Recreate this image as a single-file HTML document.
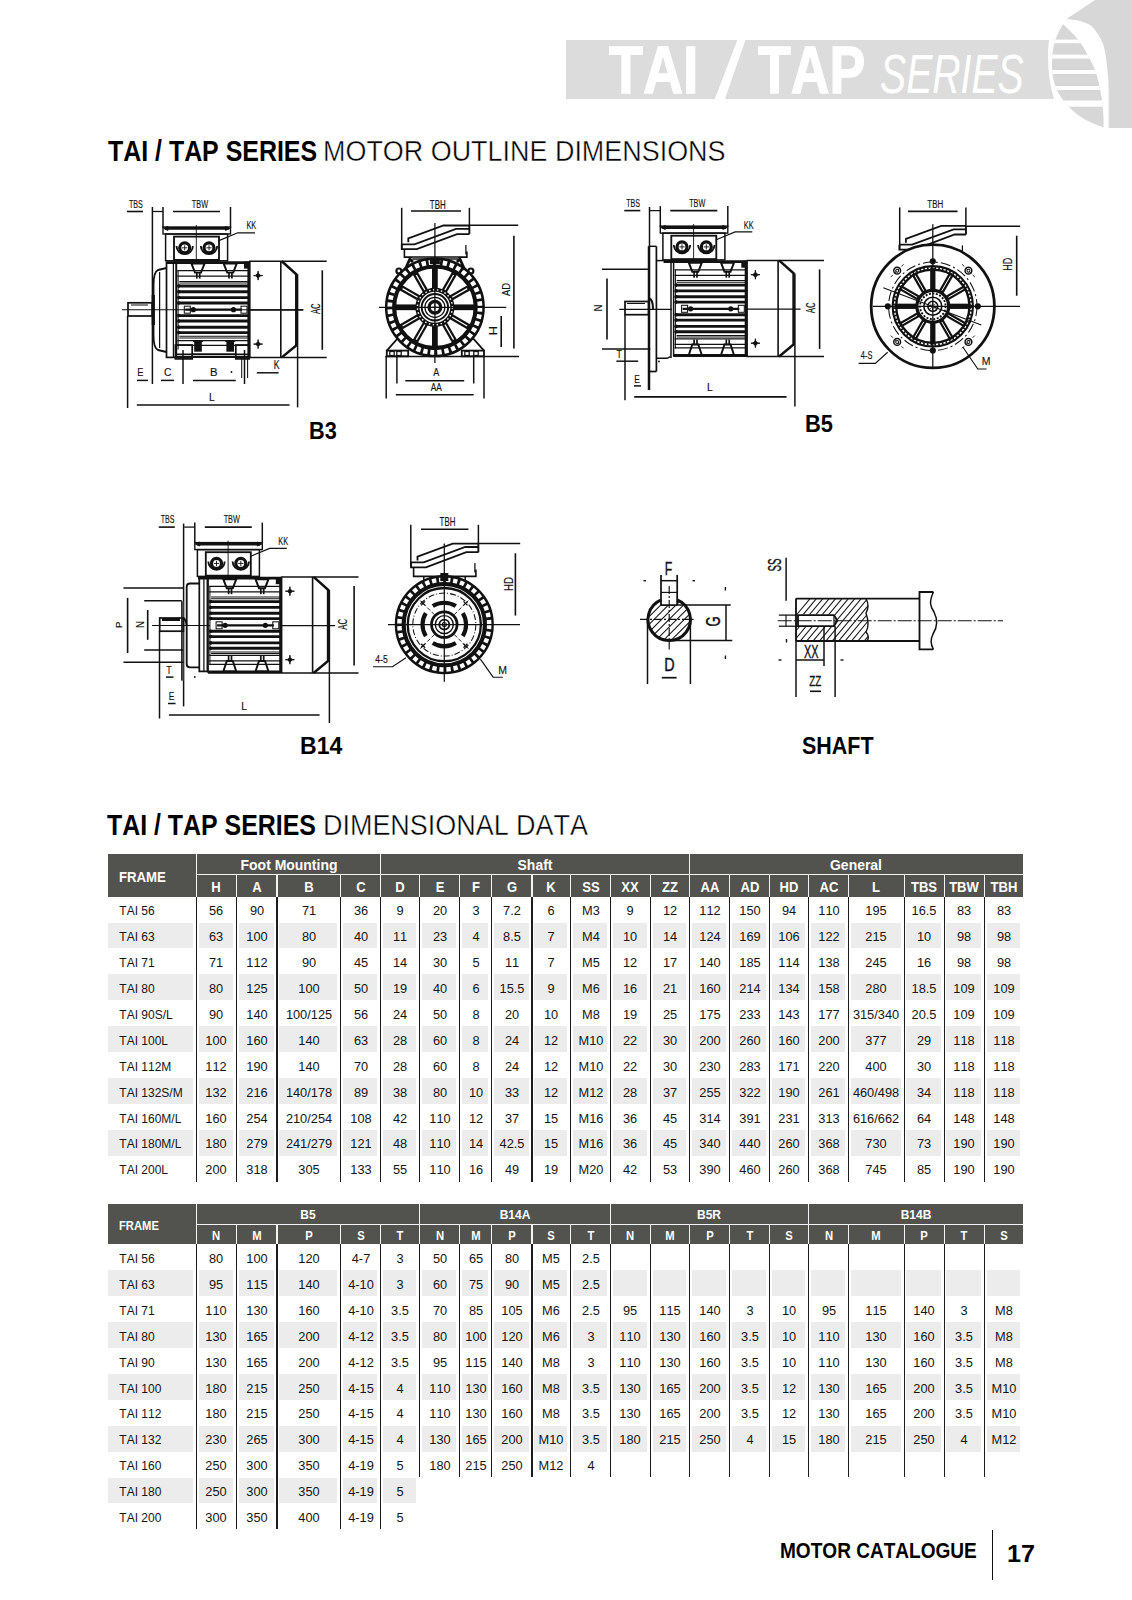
<!DOCTYPE html>
<html><head><meta charset="utf-8"><style>
html,body{margin:0;padding:0;background:#fff;}
body{width:1132px;height:1600px;position:relative;overflow:hidden;font-family:"Liberation Sans",sans-serif;}
.t{position:absolute;white-space:nowrap;font-kerning:none;}
.r{position:absolute;}
svg{position:absolute;left:0;top:0;}
</style></head><body>
<svg width="1132" height="140" viewBox="0 0 1132 140">
<path d="M566,40 L1049,40 Q1045.5,70 1054,99 L566,99 Z" fill="#dcdcdc"/>
<path d="M1066.5,19 L1095,0 L1132,0 L1132,128 L1108.60,128.00 C1108.60,122.50 1108.70,103.83 1108.60,95.00 C1108.50,86.17 1108.77,83.00 1108.00,75.00 C1107.23,67.00 1105.83,54.00 1104.00,47.00 C1102.17,40.00 1099.23,36.58 1097.00,33.00 C1094.77,29.42 1093.43,27.50 1090.60,25.50 C1087.77,23.50 1084.02,22.08 1080.00,21.00 C1075.98,19.92 1068.75,19.33 1066.50,19.00 Z" fill="#d7d7d7"/>
<path d="M737.4,40 L745.4,40 L724.8,99.5 L714.6,99.5 Z" fill="#fff"/>
<clipPath id="stc"><path d="M1063.00,24.00 C1061.92,26.17 1058.17,32.67 1056.50,37.00 C1054.83,41.33 1053.75,45.33 1053.00,50.00 C1052.25,54.67 1051.92,60.00 1052.00,65.00 C1052.08,70.00 1052.33,75.17 1053.50,80.00 C1054.67,84.83 1056.42,89.50 1059.00,94.00 C1061.58,98.50 1064.83,102.83 1069.00,107.00 C1073.17,111.17 1078.25,115.58 1084.00,119.00 C1089.75,122.42 1100.25,126.08 1103.50,127.50 L1103.50,127.50 C1103.50,125.92 1103.75,122.50 1103.50,118.00 C1103.25,113.50 1102.68,105.83 1102.00,100.50 C1101.32,95.17 1100.57,91.08 1099.40,86.00 C1098.23,80.92 1096.98,75.23 1095.00,70.00 C1093.02,64.77 1090.33,59.68 1087.50,54.60 C1084.67,49.52 1082.08,44.60 1078.00,39.50 C1073.92,34.40 1065.50,26.58 1063.00,24.00 Z"/></clipPath>
<g clip-path="url(#stc)">
<rect x="1040" y="20" width="70" height="110" fill="#d7d7d7"/>
<rect x="1040" y="39.6" width="70" height="3.6" fill="#fff"/>
<rect x="1040" y="54.6" width="70" height="4.0" fill="#fff"/>
<rect x="1040" y="70.0" width="70" height="4.0" fill="#fff"/>
<rect x="1040" y="86.0" width="70" height="4.0" fill="#fff"/>
<rect x="1040" y="100.5" width="70" height="6.2" fill="#fff"/>
</g>
</svg>
<div class=r style="left:107.50px;top:853.50px;width:915.30px;height:43.10px;background:#52524e"></div><div class=r style="left:196.50px;top:873.80px;width:826.30px;height:1.30px;background:#f4f4f4"></div><div class=r style="left:195.85px;top:853.50px;width:1.30px;height:43.10px;background:#f4f4f4"></div><div class=r style="left:379.95px;top:853.50px;width:1.30px;height:43.10px;background:#f4f4f4"></div><div class=r style="left:688.95px;top:853.50px;width:1.30px;height:43.10px;background:#f4f4f4"></div><div class=r style="left:195.85px;top:874.40px;width:1.30px;height:22.20px;background:#f4f4f4"></div><div class=r style="left:235.65px;top:874.40px;width:1.30px;height:22.20px;background:#f4f4f4"></div><div class=r style="left:276.35px;top:874.40px;width:1.30px;height:22.20px;background:#f4f4f4"></div><div class=r style="left:339.75px;top:874.40px;width:1.30px;height:22.20px;background:#f4f4f4"></div><div class=r style="left:379.95px;top:874.40px;width:1.30px;height:22.20px;background:#f4f4f4"></div><div class=r style="left:418.85px;top:874.40px;width:1.30px;height:22.20px;background:#f4f4f4"></div><div class=r style="left:458.85px;top:874.40px;width:1.30px;height:22.20px;background:#f4f4f4"></div><div class=r style="left:491.15px;top:874.40px;width:1.30px;height:22.20px;background:#f4f4f4"></div><div class=r style="left:531.35px;top:874.40px;width:1.30px;height:22.20px;background:#f4f4f4"></div><div class=r style="left:570.15px;top:874.40px;width:1.30px;height:22.20px;background:#f4f4f4"></div><div class=r style="left:609.65px;top:874.40px;width:1.30px;height:22.20px;background:#f4f4f4"></div><div class=r style="left:649.75px;top:874.40px;width:1.30px;height:22.20px;background:#f4f4f4"></div><div class=r style="left:688.95px;top:874.40px;width:1.30px;height:22.20px;background:#f4f4f4"></div><div class=r style="left:728.95px;top:874.40px;width:1.30px;height:22.20px;background:#f4f4f4"></div><div class=r style="left:768.95px;top:874.40px;width:1.30px;height:22.20px;background:#f4f4f4"></div><div class=r style="left:807.95px;top:874.40px;width:1.30px;height:22.20px;background:#f4f4f4"></div><div class=r style="left:848.05px;top:874.40px;width:1.30px;height:22.20px;background:#f4f4f4"></div><div class=r style="left:903.55px;top:874.40px;width:1.30px;height:22.20px;background:#f4f4f4"></div><div class=r style="left:943.55px;top:874.40px;width:1.30px;height:22.20px;background:#f4f4f4"></div><div class=r style="left:983.65px;top:874.40px;width:1.30px;height:22.20px;background:#f4f4f4"></div><div class=r style="left:107.50px;top:922.55px;width:85.70px;height:25.95px;background:#ececec"></div><div class=r style="left:198.70px;top:922.55px;width:34.30px;height:25.95px;background:#ececec"></div><div class=r style="left:238.50px;top:922.55px;width:35.20px;height:25.95px;background:#ececec"></div><div class=r style="left:279.20px;top:922.55px;width:57.90px;height:25.95px;background:#ececec"></div><div class=r style="left:342.60px;top:922.55px;width:34.70px;height:25.95px;background:#ececec"></div><div class=r style="left:382.80px;top:922.55px;width:33.40px;height:25.95px;background:#ececec"></div><div class=r style="left:421.70px;top:922.55px;width:34.50px;height:25.95px;background:#ececec"></div><div class=r style="left:461.70px;top:922.55px;width:26.80px;height:25.95px;background:#ececec"></div><div class=r style="left:494.00px;top:922.55px;width:34.70px;height:25.95px;background:#ececec"></div><div class=r style="left:534.20px;top:922.55px;width:33.30px;height:25.95px;background:#ececec"></div><div class=r style="left:573.00px;top:922.55px;width:34.00px;height:25.95px;background:#ececec"></div><div class=r style="left:612.50px;top:922.55px;width:34.60px;height:25.95px;background:#ececec"></div><div class=r style="left:652.60px;top:922.55px;width:33.70px;height:25.95px;background:#ececec"></div><div class=r style="left:691.80px;top:922.55px;width:34.50px;height:25.95px;background:#ececec"></div><div class=r style="left:731.80px;top:922.55px;width:34.50px;height:25.95px;background:#ececec"></div><div class=r style="left:771.80px;top:922.55px;width:33.50px;height:25.95px;background:#ececec"></div><div class=r style="left:810.80px;top:922.55px;width:34.60px;height:25.95px;background:#ececec"></div><div class=r style="left:850.90px;top:922.55px;width:50.00px;height:25.95px;background:#ececec"></div><div class=r style="left:906.40px;top:922.55px;width:34.50px;height:25.95px;background:#ececec"></div><div class=r style="left:946.40px;top:922.55px;width:34.60px;height:25.95px;background:#ececec"></div><div class=r style="left:986.50px;top:922.55px;width:33.00px;height:25.95px;background:#ececec"></div><div class=r style="left:107.50px;top:974.45px;width:85.70px;height:25.95px;background:#ececec"></div><div class=r style="left:198.70px;top:974.45px;width:34.30px;height:25.95px;background:#ececec"></div><div class=r style="left:238.50px;top:974.45px;width:35.20px;height:25.95px;background:#ececec"></div><div class=r style="left:279.20px;top:974.45px;width:57.90px;height:25.95px;background:#ececec"></div><div class=r style="left:342.60px;top:974.45px;width:34.70px;height:25.95px;background:#ececec"></div><div class=r style="left:382.80px;top:974.45px;width:33.40px;height:25.95px;background:#ececec"></div><div class=r style="left:421.70px;top:974.45px;width:34.50px;height:25.95px;background:#ececec"></div><div class=r style="left:461.70px;top:974.45px;width:26.80px;height:25.95px;background:#ececec"></div><div class=r style="left:494.00px;top:974.45px;width:34.70px;height:25.95px;background:#ececec"></div><div class=r style="left:534.20px;top:974.45px;width:33.30px;height:25.95px;background:#ececec"></div><div class=r style="left:573.00px;top:974.45px;width:34.00px;height:25.95px;background:#ececec"></div><div class=r style="left:612.50px;top:974.45px;width:34.60px;height:25.95px;background:#ececec"></div><div class=r style="left:652.60px;top:974.45px;width:33.70px;height:25.95px;background:#ececec"></div><div class=r style="left:691.80px;top:974.45px;width:34.50px;height:25.95px;background:#ececec"></div><div class=r style="left:731.80px;top:974.45px;width:34.50px;height:25.95px;background:#ececec"></div><div class=r style="left:771.80px;top:974.45px;width:33.50px;height:25.95px;background:#ececec"></div><div class=r style="left:810.80px;top:974.45px;width:34.60px;height:25.95px;background:#ececec"></div><div class=r style="left:850.90px;top:974.45px;width:50.00px;height:25.95px;background:#ececec"></div><div class=r style="left:906.40px;top:974.45px;width:34.50px;height:25.95px;background:#ececec"></div><div class=r style="left:946.40px;top:974.45px;width:34.60px;height:25.95px;background:#ececec"></div><div class=r style="left:986.50px;top:974.45px;width:33.00px;height:25.95px;background:#ececec"></div><div class=r style="left:107.50px;top:1026.35px;width:85.70px;height:25.95px;background:#ececec"></div><div class=r style="left:198.70px;top:1026.35px;width:34.30px;height:25.95px;background:#ececec"></div><div class=r style="left:238.50px;top:1026.35px;width:35.20px;height:25.95px;background:#ececec"></div><div class=r style="left:279.20px;top:1026.35px;width:57.90px;height:25.95px;background:#ececec"></div><div class=r style="left:342.60px;top:1026.35px;width:34.70px;height:25.95px;background:#ececec"></div><div class=r style="left:382.80px;top:1026.35px;width:33.40px;height:25.95px;background:#ececec"></div><div class=r style="left:421.70px;top:1026.35px;width:34.50px;height:25.95px;background:#ececec"></div><div class=r style="left:461.70px;top:1026.35px;width:26.80px;height:25.95px;background:#ececec"></div><div class=r style="left:494.00px;top:1026.35px;width:34.70px;height:25.95px;background:#ececec"></div><div class=r style="left:534.20px;top:1026.35px;width:33.30px;height:25.95px;background:#ececec"></div><div class=r style="left:573.00px;top:1026.35px;width:34.00px;height:25.95px;background:#ececec"></div><div class=r style="left:612.50px;top:1026.35px;width:34.60px;height:25.95px;background:#ececec"></div><div class=r style="left:652.60px;top:1026.35px;width:33.70px;height:25.95px;background:#ececec"></div><div class=r style="left:691.80px;top:1026.35px;width:34.50px;height:25.95px;background:#ececec"></div><div class=r style="left:731.80px;top:1026.35px;width:34.50px;height:25.95px;background:#ececec"></div><div class=r style="left:771.80px;top:1026.35px;width:33.50px;height:25.95px;background:#ececec"></div><div class=r style="left:810.80px;top:1026.35px;width:34.60px;height:25.95px;background:#ececec"></div><div class=r style="left:850.90px;top:1026.35px;width:50.00px;height:25.95px;background:#ececec"></div><div class=r style="left:906.40px;top:1026.35px;width:34.50px;height:25.95px;background:#ececec"></div><div class=r style="left:946.40px;top:1026.35px;width:34.60px;height:25.95px;background:#ececec"></div><div class=r style="left:986.50px;top:1026.35px;width:33.00px;height:25.95px;background:#ececec"></div><div class=r style="left:107.50px;top:1078.25px;width:85.70px;height:25.95px;background:#ececec"></div><div class=r style="left:198.70px;top:1078.25px;width:34.30px;height:25.95px;background:#ececec"></div><div class=r style="left:238.50px;top:1078.25px;width:35.20px;height:25.95px;background:#ececec"></div><div class=r style="left:279.20px;top:1078.25px;width:57.90px;height:25.95px;background:#ececec"></div><div class=r style="left:342.60px;top:1078.25px;width:34.70px;height:25.95px;background:#ececec"></div><div class=r style="left:382.80px;top:1078.25px;width:33.40px;height:25.95px;background:#ececec"></div><div class=r style="left:421.70px;top:1078.25px;width:34.50px;height:25.95px;background:#ececec"></div><div class=r style="left:461.70px;top:1078.25px;width:26.80px;height:25.95px;background:#ececec"></div><div class=r style="left:494.00px;top:1078.25px;width:34.70px;height:25.95px;background:#ececec"></div><div class=r style="left:534.20px;top:1078.25px;width:33.30px;height:25.95px;background:#ececec"></div><div class=r style="left:573.00px;top:1078.25px;width:34.00px;height:25.95px;background:#ececec"></div><div class=r style="left:612.50px;top:1078.25px;width:34.60px;height:25.95px;background:#ececec"></div><div class=r style="left:652.60px;top:1078.25px;width:33.70px;height:25.95px;background:#ececec"></div><div class=r style="left:691.80px;top:1078.25px;width:34.50px;height:25.95px;background:#ececec"></div><div class=r style="left:731.80px;top:1078.25px;width:34.50px;height:25.95px;background:#ececec"></div><div class=r style="left:771.80px;top:1078.25px;width:33.50px;height:25.95px;background:#ececec"></div><div class=r style="left:810.80px;top:1078.25px;width:34.60px;height:25.95px;background:#ececec"></div><div class=r style="left:850.90px;top:1078.25px;width:50.00px;height:25.95px;background:#ececec"></div><div class=r style="left:906.40px;top:1078.25px;width:34.50px;height:25.95px;background:#ececec"></div><div class=r style="left:946.40px;top:1078.25px;width:34.60px;height:25.95px;background:#ececec"></div><div class=r style="left:986.50px;top:1078.25px;width:33.00px;height:25.95px;background:#ececec"></div><div class=r style="left:107.50px;top:1130.15px;width:85.70px;height:25.95px;background:#ececec"></div><div class=r style="left:198.70px;top:1130.15px;width:34.30px;height:25.95px;background:#ececec"></div><div class=r style="left:238.50px;top:1130.15px;width:35.20px;height:25.95px;background:#ececec"></div><div class=r style="left:279.20px;top:1130.15px;width:57.90px;height:25.95px;background:#ececec"></div><div class=r style="left:342.60px;top:1130.15px;width:34.70px;height:25.95px;background:#ececec"></div><div class=r style="left:382.80px;top:1130.15px;width:33.40px;height:25.95px;background:#ececec"></div><div class=r style="left:421.70px;top:1130.15px;width:34.50px;height:25.95px;background:#ececec"></div><div class=r style="left:461.70px;top:1130.15px;width:26.80px;height:25.95px;background:#ececec"></div><div class=r style="left:494.00px;top:1130.15px;width:34.70px;height:25.95px;background:#ececec"></div><div class=r style="left:534.20px;top:1130.15px;width:33.30px;height:25.95px;background:#ececec"></div><div class=r style="left:573.00px;top:1130.15px;width:34.00px;height:25.95px;background:#ececec"></div><div class=r style="left:612.50px;top:1130.15px;width:34.60px;height:25.95px;background:#ececec"></div><div class=r style="left:652.60px;top:1130.15px;width:33.70px;height:25.95px;background:#ececec"></div><div class=r style="left:691.80px;top:1130.15px;width:34.50px;height:25.95px;background:#ececec"></div><div class=r style="left:731.80px;top:1130.15px;width:34.50px;height:25.95px;background:#ececec"></div><div class=r style="left:771.80px;top:1130.15px;width:33.50px;height:25.95px;background:#ececec"></div><div class=r style="left:810.80px;top:1130.15px;width:34.60px;height:25.95px;background:#ececec"></div><div class=r style="left:850.90px;top:1130.15px;width:50.00px;height:25.95px;background:#ececec"></div><div class=r style="left:906.40px;top:1130.15px;width:34.50px;height:25.95px;background:#ececec"></div><div class=r style="left:946.40px;top:1130.15px;width:34.60px;height:25.95px;background:#ececec"></div><div class=r style="left:986.50px;top:1130.15px;width:33.00px;height:25.95px;background:#ececec"></div><div class=r style="left:195.80px;top:896.60px;width:1.40px;height:285.45px;background:#1c1c1c"></div><div class=r style="left:235.60px;top:896.60px;width:1.40px;height:285.45px;background:#1c1c1c"></div><div class=r style="left:276.30px;top:896.60px;width:1.40px;height:285.45px;background:#1c1c1c"></div><div class=r style="left:339.70px;top:896.60px;width:1.40px;height:285.45px;background:#1c1c1c"></div><div class=r style="left:379.90px;top:896.60px;width:1.40px;height:285.45px;background:#1c1c1c"></div><div class=r style="left:418.80px;top:896.60px;width:1.40px;height:285.45px;background:#1c1c1c"></div><div class=r style="left:458.80px;top:896.60px;width:1.40px;height:285.45px;background:#1c1c1c"></div><div class=r style="left:491.10px;top:896.60px;width:1.40px;height:285.45px;background:#1c1c1c"></div><div class=r style="left:531.30px;top:896.60px;width:1.40px;height:285.45px;background:#1c1c1c"></div><div class=r style="left:570.10px;top:896.60px;width:1.40px;height:285.45px;background:#1c1c1c"></div><div class=r style="left:609.60px;top:896.60px;width:1.40px;height:285.45px;background:#1c1c1c"></div><div class=r style="left:649.70px;top:896.60px;width:1.40px;height:285.45px;background:#1c1c1c"></div><div class=r style="left:688.90px;top:896.60px;width:1.40px;height:285.45px;background:#1c1c1c"></div><div class=r style="left:728.90px;top:896.60px;width:1.40px;height:285.45px;background:#1c1c1c"></div><div class=r style="left:768.90px;top:896.60px;width:1.40px;height:285.45px;background:#1c1c1c"></div><div class=r style="left:807.90px;top:896.60px;width:1.40px;height:285.45px;background:#1c1c1c"></div><div class=r style="left:848.00px;top:896.60px;width:1.40px;height:285.45px;background:#1c1c1c"></div><div class=r style="left:903.50px;top:896.60px;width:1.40px;height:285.45px;background:#1c1c1c"></div><div class=r style="left:943.50px;top:896.60px;width:1.40px;height:285.45px;background:#1c1c1c"></div><div class=r style="left:983.60px;top:896.60px;width:1.40px;height:285.45px;background:#1c1c1c"></div><div class=r style="left:107.50px;top:1204.00px;width:915.30px;height:40.40px;background:#52524e"></div><div class=r style="left:196.50px;top:1223.80px;width:826.30px;height:1.30px;background:#f4f4f4"></div><div class=r style="left:195.85px;top:1204.00px;width:1.30px;height:40.40px;background:#f4f4f4"></div><div class=r style="left:418.85px;top:1204.00px;width:1.30px;height:40.40px;background:#f4f4f4"></div><div class=r style="left:609.65px;top:1204.00px;width:1.30px;height:40.40px;background:#f4f4f4"></div><div class=r style="left:807.95px;top:1204.00px;width:1.30px;height:40.40px;background:#f4f4f4"></div><div class=r style="left:195.85px;top:1224.40px;width:1.30px;height:20.00px;background:#f4f4f4"></div><div class=r style="left:235.65px;top:1224.40px;width:1.30px;height:20.00px;background:#f4f4f4"></div><div class=r style="left:276.35px;top:1224.40px;width:1.30px;height:20.00px;background:#f4f4f4"></div><div class=r style="left:339.75px;top:1224.40px;width:1.30px;height:20.00px;background:#f4f4f4"></div><div class=r style="left:379.95px;top:1224.40px;width:1.30px;height:20.00px;background:#f4f4f4"></div><div class=r style="left:418.85px;top:1224.40px;width:1.30px;height:20.00px;background:#f4f4f4"></div><div class=r style="left:458.85px;top:1224.40px;width:1.30px;height:20.00px;background:#f4f4f4"></div><div class=r style="left:491.15px;top:1224.40px;width:1.30px;height:20.00px;background:#f4f4f4"></div><div class=r style="left:531.35px;top:1224.40px;width:1.30px;height:20.00px;background:#f4f4f4"></div><div class=r style="left:570.15px;top:1224.40px;width:1.30px;height:20.00px;background:#f4f4f4"></div><div class=r style="left:609.65px;top:1224.40px;width:1.30px;height:20.00px;background:#f4f4f4"></div><div class=r style="left:649.75px;top:1224.40px;width:1.30px;height:20.00px;background:#f4f4f4"></div><div class=r style="left:688.95px;top:1224.40px;width:1.30px;height:20.00px;background:#f4f4f4"></div><div class=r style="left:728.95px;top:1224.40px;width:1.30px;height:20.00px;background:#f4f4f4"></div><div class=r style="left:768.95px;top:1224.40px;width:1.30px;height:20.00px;background:#f4f4f4"></div><div class=r style="left:807.95px;top:1224.40px;width:1.30px;height:20.00px;background:#f4f4f4"></div><div class=r style="left:848.05px;top:1224.40px;width:1.30px;height:20.00px;background:#f4f4f4"></div><div class=r style="left:903.55px;top:1224.40px;width:1.30px;height:20.00px;background:#f4f4f4"></div><div class=r style="left:943.55px;top:1224.40px;width:1.30px;height:20.00px;background:#f4f4f4"></div><div class=r style="left:983.65px;top:1224.40px;width:1.30px;height:20.00px;background:#f4f4f4"></div><div class=r style="left:107.50px;top:1270.30px;width:85.70px;height:25.90px;background:#ececec"></div><div class=r style="left:198.70px;top:1270.30px;width:34.30px;height:25.90px;background:#ececec"></div><div class=r style="left:238.50px;top:1270.30px;width:35.20px;height:25.90px;background:#ececec"></div><div class=r style="left:279.20px;top:1270.30px;width:57.90px;height:25.90px;background:#ececec"></div><div class=r style="left:342.60px;top:1270.30px;width:34.70px;height:25.90px;background:#ececec"></div><div class=r style="left:382.80px;top:1270.30px;width:33.40px;height:25.90px;background:#ececec"></div><div class=r style="left:421.70px;top:1270.30px;width:34.50px;height:25.90px;background:#ececec"></div><div class=r style="left:461.70px;top:1270.30px;width:26.80px;height:25.90px;background:#ececec"></div><div class=r style="left:494.00px;top:1270.30px;width:34.70px;height:25.90px;background:#ececec"></div><div class=r style="left:534.20px;top:1270.30px;width:33.30px;height:25.90px;background:#ececec"></div><div class=r style="left:573.00px;top:1270.30px;width:34.00px;height:25.90px;background:#ececec"></div><div class=r style="left:612.50px;top:1270.30px;width:34.60px;height:25.90px;background:#ececec"></div><div class=r style="left:652.60px;top:1270.30px;width:33.70px;height:25.90px;background:#ececec"></div><div class=r style="left:691.80px;top:1270.30px;width:34.50px;height:25.90px;background:#ececec"></div><div class=r style="left:731.80px;top:1270.30px;width:34.50px;height:25.90px;background:#ececec"></div><div class=r style="left:771.80px;top:1270.30px;width:33.50px;height:25.90px;background:#ececec"></div><div class=r style="left:810.80px;top:1270.30px;width:34.60px;height:25.90px;background:#ececec"></div><div class=r style="left:850.90px;top:1270.30px;width:50.00px;height:25.90px;background:#ececec"></div><div class=r style="left:906.40px;top:1270.30px;width:34.50px;height:25.90px;background:#ececec"></div><div class=r style="left:946.40px;top:1270.30px;width:34.60px;height:25.90px;background:#ececec"></div><div class=r style="left:986.50px;top:1270.30px;width:33.00px;height:25.90px;background:#ececec"></div><div class=r style="left:107.50px;top:1322.10px;width:85.70px;height:25.90px;background:#ececec"></div><div class=r style="left:198.70px;top:1322.10px;width:34.30px;height:25.90px;background:#ececec"></div><div class=r style="left:238.50px;top:1322.10px;width:35.20px;height:25.90px;background:#ececec"></div><div class=r style="left:279.20px;top:1322.10px;width:57.90px;height:25.90px;background:#ececec"></div><div class=r style="left:342.60px;top:1322.10px;width:34.70px;height:25.90px;background:#ececec"></div><div class=r style="left:382.80px;top:1322.10px;width:33.40px;height:25.90px;background:#ececec"></div><div class=r style="left:421.70px;top:1322.10px;width:34.50px;height:25.90px;background:#ececec"></div><div class=r style="left:461.70px;top:1322.10px;width:26.80px;height:25.90px;background:#ececec"></div><div class=r style="left:494.00px;top:1322.10px;width:34.70px;height:25.90px;background:#ececec"></div><div class=r style="left:534.20px;top:1322.10px;width:33.30px;height:25.90px;background:#ececec"></div><div class=r style="left:573.00px;top:1322.10px;width:34.00px;height:25.90px;background:#ececec"></div><div class=r style="left:612.50px;top:1322.10px;width:34.60px;height:25.90px;background:#ececec"></div><div class=r style="left:652.60px;top:1322.10px;width:33.70px;height:25.90px;background:#ececec"></div><div class=r style="left:691.80px;top:1322.10px;width:34.50px;height:25.90px;background:#ececec"></div><div class=r style="left:731.80px;top:1322.10px;width:34.50px;height:25.90px;background:#ececec"></div><div class=r style="left:771.80px;top:1322.10px;width:33.50px;height:25.90px;background:#ececec"></div><div class=r style="left:810.80px;top:1322.10px;width:34.60px;height:25.90px;background:#ececec"></div><div class=r style="left:850.90px;top:1322.10px;width:50.00px;height:25.90px;background:#ececec"></div><div class=r style="left:906.40px;top:1322.10px;width:34.50px;height:25.90px;background:#ececec"></div><div class=r style="left:946.40px;top:1322.10px;width:34.60px;height:25.90px;background:#ececec"></div><div class=r style="left:986.50px;top:1322.10px;width:33.00px;height:25.90px;background:#ececec"></div><div class=r style="left:107.50px;top:1373.90px;width:85.70px;height:25.90px;background:#ececec"></div><div class=r style="left:198.70px;top:1373.90px;width:34.30px;height:25.90px;background:#ececec"></div><div class=r style="left:238.50px;top:1373.90px;width:35.20px;height:25.90px;background:#ececec"></div><div class=r style="left:279.20px;top:1373.90px;width:57.90px;height:25.90px;background:#ececec"></div><div class=r style="left:342.60px;top:1373.90px;width:34.70px;height:25.90px;background:#ececec"></div><div class=r style="left:382.80px;top:1373.90px;width:33.40px;height:25.90px;background:#ececec"></div><div class=r style="left:421.70px;top:1373.90px;width:34.50px;height:25.90px;background:#ececec"></div><div class=r style="left:461.70px;top:1373.90px;width:26.80px;height:25.90px;background:#ececec"></div><div class=r style="left:494.00px;top:1373.90px;width:34.70px;height:25.90px;background:#ececec"></div><div class=r style="left:534.20px;top:1373.90px;width:33.30px;height:25.90px;background:#ececec"></div><div class=r style="left:573.00px;top:1373.90px;width:34.00px;height:25.90px;background:#ececec"></div><div class=r style="left:612.50px;top:1373.90px;width:34.60px;height:25.90px;background:#ececec"></div><div class=r style="left:652.60px;top:1373.90px;width:33.70px;height:25.90px;background:#ececec"></div><div class=r style="left:691.80px;top:1373.90px;width:34.50px;height:25.90px;background:#ececec"></div><div class=r style="left:731.80px;top:1373.90px;width:34.50px;height:25.90px;background:#ececec"></div><div class=r style="left:771.80px;top:1373.90px;width:33.50px;height:25.90px;background:#ececec"></div><div class=r style="left:810.80px;top:1373.90px;width:34.60px;height:25.90px;background:#ececec"></div><div class=r style="left:850.90px;top:1373.90px;width:50.00px;height:25.90px;background:#ececec"></div><div class=r style="left:906.40px;top:1373.90px;width:34.50px;height:25.90px;background:#ececec"></div><div class=r style="left:946.40px;top:1373.90px;width:34.60px;height:25.90px;background:#ececec"></div><div class=r style="left:986.50px;top:1373.90px;width:33.00px;height:25.90px;background:#ececec"></div><div class=r style="left:107.50px;top:1425.70px;width:85.70px;height:25.90px;background:#ececec"></div><div class=r style="left:198.70px;top:1425.70px;width:34.30px;height:25.90px;background:#ececec"></div><div class=r style="left:238.50px;top:1425.70px;width:35.20px;height:25.90px;background:#ececec"></div><div class=r style="left:279.20px;top:1425.70px;width:57.90px;height:25.90px;background:#ececec"></div><div class=r style="left:342.60px;top:1425.70px;width:34.70px;height:25.90px;background:#ececec"></div><div class=r style="left:382.80px;top:1425.70px;width:33.40px;height:25.90px;background:#ececec"></div><div class=r style="left:421.70px;top:1425.70px;width:34.50px;height:25.90px;background:#ececec"></div><div class=r style="left:461.70px;top:1425.70px;width:26.80px;height:25.90px;background:#ececec"></div><div class=r style="left:494.00px;top:1425.70px;width:34.70px;height:25.90px;background:#ececec"></div><div class=r style="left:534.20px;top:1425.70px;width:33.30px;height:25.90px;background:#ececec"></div><div class=r style="left:573.00px;top:1425.70px;width:34.00px;height:25.90px;background:#ececec"></div><div class=r style="left:612.50px;top:1425.70px;width:34.60px;height:25.90px;background:#ececec"></div><div class=r style="left:652.60px;top:1425.70px;width:33.70px;height:25.90px;background:#ececec"></div><div class=r style="left:691.80px;top:1425.70px;width:34.50px;height:25.90px;background:#ececec"></div><div class=r style="left:731.80px;top:1425.70px;width:34.50px;height:25.90px;background:#ececec"></div><div class=r style="left:771.80px;top:1425.70px;width:33.50px;height:25.90px;background:#ececec"></div><div class=r style="left:810.80px;top:1425.70px;width:34.60px;height:25.90px;background:#ececec"></div><div class=r style="left:850.90px;top:1425.70px;width:50.00px;height:25.90px;background:#ececec"></div><div class=r style="left:906.40px;top:1425.70px;width:34.50px;height:25.90px;background:#ececec"></div><div class=r style="left:946.40px;top:1425.70px;width:34.60px;height:25.90px;background:#ececec"></div><div class=r style="left:986.50px;top:1425.70px;width:33.00px;height:25.90px;background:#ececec"></div><div class=r style="left:107.50px;top:1477.50px;width:85.70px;height:25.90px;background:#ececec"></div><div class=r style="left:198.70px;top:1477.50px;width:34.30px;height:25.90px;background:#ececec"></div><div class=r style="left:238.50px;top:1477.50px;width:35.20px;height:25.90px;background:#ececec"></div><div class=r style="left:279.20px;top:1477.50px;width:57.90px;height:25.90px;background:#ececec"></div><div class=r style="left:342.60px;top:1477.50px;width:34.70px;height:25.90px;background:#ececec"></div><div class=r style="left:382.80px;top:1477.50px;width:33.40px;height:25.90px;background:#ececec"></div><div class=r style="left:195.80px;top:1244.40px;width:1.40px;height:284.90px;background:#1c1c1c"></div><div class=r style="left:235.60px;top:1244.40px;width:1.40px;height:284.90px;background:#1c1c1c"></div><div class=r style="left:276.30px;top:1244.40px;width:1.40px;height:284.90px;background:#1c1c1c"></div><div class=r style="left:339.70px;top:1244.40px;width:1.40px;height:284.90px;background:#1c1c1c"></div><div class=r style="left:379.90px;top:1244.40px;width:1.40px;height:284.90px;background:#1c1c1c"></div><div class=r style="left:418.80px;top:1244.40px;width:1.40px;height:233.10px;background:#1c1c1c"></div><div class=r style="left:458.80px;top:1244.40px;width:1.40px;height:233.10px;background:#1c1c1c"></div><div class=r style="left:491.10px;top:1244.40px;width:1.40px;height:233.10px;background:#1c1c1c"></div><div class=r style="left:531.30px;top:1244.40px;width:1.40px;height:233.10px;background:#1c1c1c"></div><div class=r style="left:570.10px;top:1244.40px;width:1.40px;height:233.10px;background:#1c1c1c"></div><div class=r style="left:609.60px;top:1244.40px;width:1.40px;height:233.10px;background:#1c1c1c"></div><div class=r style="left:649.70px;top:1244.40px;width:1.40px;height:233.10px;background:#1c1c1c"></div><div class=r style="left:688.90px;top:1244.40px;width:1.40px;height:233.10px;background:#1c1c1c"></div><div class=r style="left:728.90px;top:1244.40px;width:1.40px;height:233.10px;background:#1c1c1c"></div><div class=r style="left:768.90px;top:1244.40px;width:1.40px;height:233.10px;background:#1c1c1c"></div><div class=r style="left:807.90px;top:1244.40px;width:1.40px;height:233.10px;background:#1c1c1c"></div><div class=r style="left:848.00px;top:1244.40px;width:1.40px;height:233.10px;background:#1c1c1c"></div><div class=r style="left:903.50px;top:1244.40px;width:1.40px;height:233.10px;background:#1c1c1c"></div><div class=r style="left:943.50px;top:1244.40px;width:1.40px;height:233.10px;background:#1c1c1c"></div><div class=r style="left:983.60px;top:1244.40px;width:1.40px;height:233.10px;background:#1c1c1c"></div><div class=r style="left:991.60px;top:1530.00px;width:1.80px;height:50.00px;background:#111"></div>
<svg width="1132" height="800" viewBox="0 0 1132 800" style="font-family:'Liberation Sans'"><line x1="166.30" y1="262.60" x2="249.00" y2="262.60" stroke="#111" stroke-width="2.76" /><line x1="176.30" y1="356.90" x2="249.00" y2="356.90" stroke="#111" stroke-width="2.07" /><line x1="177.80" y1="286.00" x2="249.00" y2="286.00" stroke="#111" stroke-width="2.88" /><circle cx="178.80" cy="286.00" r="1.80" stroke="#111" stroke-width="0.0" fill="#111" /><line x1="177.80" y1="291.80" x2="249.00" y2="291.80" stroke="#111" stroke-width="2.88" /><circle cx="178.80" cy="291.80" r="1.80" stroke="#111" stroke-width="0.0" fill="#111" /><line x1="177.80" y1="297.60" x2="249.00" y2="297.60" stroke="#111" stroke-width="2.88" /><circle cx="178.80" cy="297.60" r="1.80" stroke="#111" stroke-width="0.0" fill="#111" /><line x1="177.80" y1="303.00" x2="249.00" y2="303.00" stroke="#111" stroke-width="2.88" /><circle cx="178.80" cy="303.00" r="1.80" stroke="#111" stroke-width="0.0" fill="#111" /><line x1="177.80" y1="315.60" x2="249.00" y2="315.60" stroke="#111" stroke-width="2.88" /><circle cx="178.80" cy="315.60" r="1.80" stroke="#111" stroke-width="0.0" fill="#111" /><line x1="177.80" y1="321.00" x2="249.00" y2="321.00" stroke="#111" stroke-width="2.88" /><circle cx="178.80" cy="321.00" r="1.80" stroke="#111" stroke-width="0.0" fill="#111" /><line x1="177.80" y1="327.30" x2="249.00" y2="327.30" stroke="#111" stroke-width="2.88" /><circle cx="178.80" cy="327.30" r="1.80" stroke="#111" stroke-width="0.0" fill="#111" /><line x1="177.80" y1="332.60" x2="249.00" y2="332.60" stroke="#111" stroke-width="2.88" /><circle cx="178.80" cy="332.60" r="1.80" stroke="#111" stroke-width="0.0" fill="#111" /><line x1="179.30" y1="281.50" x2="249.00" y2="281.50" stroke="#111" stroke-width="1.03" /><line x1="179.30" y1="283.10" x2="249.00" y2="283.10" stroke="#111" stroke-width="1.03" /><line x1="179.30" y1="336.30" x2="249.00" y2="336.30" stroke="#111" stroke-width="1.03" /><line x1="179.30" y1="337.90" x2="249.00" y2="337.90" stroke="#111" stroke-width="1.03" /><line x1="177.30" y1="270.70" x2="249.00" y2="270.70" stroke="#111" stroke-width="1.26" /><line x1="177.30" y1="276.20" x2="249.00" y2="276.20" stroke="#111" stroke-width="1.26" /><line x1="185.30" y1="309.70" x2="242.00" y2="309.70" stroke="#111" stroke-width="2.30" /><circle cx="193.30" cy="309.70" r="2.60" stroke="#111" stroke-width="0.0" fill="#111" /><circle cx="233.50" cy="309.70" r="2.60" stroke="#111" stroke-width="0.0" fill="#111" /><rect x="184.30" y="306.20" width="6.00" height="7.00" stroke="#111" stroke-width="1.035" fill="none" /><rect x="241.00" y="306.20" width="6.00" height="7.00" stroke="#111" stroke-width="1.035" fill="none" /><path d="M191.50,263.60 L204.50,263.60 L201.00,272.60 L195.00,272.60 Z" stroke="#111" stroke-width="1.95" fill="none" /><line x1="196.80" y1="272.60" x2="196.80" y2="278.60" stroke="#111" stroke-width="1.72" /><line x1="199.70" y1="272.60" x2="199.70" y2="278.60" stroke="#111" stroke-width="1.72" /><path d="M223.70,263.60 L236.70,263.60 L233.20,272.60 L227.20,272.60 Z" stroke="#111" stroke-width="1.95" fill="none" /><line x1="229.00" y1="272.60" x2="229.00" y2="278.60" stroke="#111" stroke-width="1.72" /><line x1="231.90" y1="272.60" x2="231.90" y2="278.60" stroke="#111" stroke-width="1.72" /><line x1="177.30" y1="340.70" x2="249.00" y2="340.70" stroke="#111" stroke-width="1.26" /><line x1="177.30" y1="345.30" x2="249.00" y2="345.30" stroke="#111" stroke-width="1.26" /><rect x="194.20" y="340.70" width="7.60" height="11.00" fill="#111"/><line x1="193.00" y1="341.20" x2="203.00" y2="341.20" stroke="#111" stroke-width="1.26" /><rect x="226.40" y="340.70" width="7.60" height="11.00" fill="#111"/><line x1="225.20" y1="341.20" x2="235.20" y2="341.20" stroke="#111" stroke-width="1.26" /><line x1="176.30" y1="354.30" x2="249.00" y2="354.30" stroke="#111" stroke-width="1.49" /><line x1="176.30" y1="262.60" x2="176.30" y2="357.40" stroke="#111" stroke-width="1.49" /><line x1="178.10" y1="270.60" x2="178.10" y2="349.40" stroke="#111" stroke-width="1.03" /><line x1="249.00" y1="261.60" x2="249.00" y2="357.40" stroke="#111" stroke-width="3.22" /><rect x="244.00" y="261.60" width="5.00" height="7.00" fill="#111"/><line x1="249.00" y1="261.30" x2="326.70" y2="261.30" stroke="#111" stroke-width="1.49" /><line x1="249.00" y1="357.40" x2="326.70" y2="357.40" stroke="#111" stroke-width="1.49" /><line x1="280.80" y1="261.30" x2="280.80" y2="357.40" stroke="#111" stroke-width="1.61" /><path d="M281.80,261.30 L296.30,274.30 L296.30,345.40 L281.80,357.40" stroke="#111" stroke-width="2.53" fill="none" /><line x1="297.60" y1="274.30" x2="297.60" y2="407.40" stroke="#111" stroke-width="1.49" /><line x1="249.00" y1="310.00" x2="303.30" y2="310.00" stroke="#111" stroke-width="1.26" /><path d="M253.60000000000002,275.59999999999997 Q258.1,275.59999999999997 258.1,271.09999999999997 Q258.1,275.59999999999997 262.6,275.59999999999997 Q258.1,275.59999999999997 258.1,280.09999999999997 Q258.1,275.59999999999997 253.60000000000002,275.59999999999997 Z" stroke="#111" stroke-width="0.9199999999999999" fill="#111" /><circle cx="258.10" cy="275.60" r="1.80" stroke="#111" stroke-width="0.0" fill="#111" /><path d="M253.60000000000002,344.09999999999997 Q258.1,344.09999999999997 258.1,339.59999999999997 Q258.1,344.09999999999997 262.6,344.09999999999997 Q258.1,344.09999999999997 258.1,348.59999999999997 Q258.1,344.09999999999997 253.60000000000002,344.09999999999997 Z" stroke="#111" stroke-width="0.9199999999999999" fill="#111" /><circle cx="258.10" cy="344.10" r="1.80" stroke="#111" stroke-width="0.0" fill="#111" /><line x1="322.30" y1="270.30" x2="322.30" y2="349.80" stroke="#111" stroke-width="1.61" /><text transform="translate(319.70,308.80) rotate(-90) scale(0.608,1) translate(-8.65,0)" font-size="12.79" fill="#111" stroke="#111" stroke-width="0.19">AC</text><rect x="163.00" y="227.00" width="67.50" height="7.00" stroke="#111" stroke-width="1.38" fill="none" /><line x1="165.00" y1="228.40" x2="228.50" y2="228.40" stroke="#111" stroke-width="2.76" /><path d="M163.5,228.4 L168,226.4 L168,230.4 Z" stroke="#111" stroke-width="0.9199999999999999" fill="#111" /><path d="M230,228.4 L225.5,226.4 L225.5,230.4 Z" stroke="#111" stroke-width="0.9199999999999999" fill="#111" /><rect x="165.60" y="234.00" width="62.00" height="26.80" stroke="#111" stroke-width="1.4949999999999999" fill="none" /><rect x="174.00" y="236.60" width="45.00" height="23.90" stroke="#111" stroke-width="1.8399999999999999" fill="none" /><line x1="196.30" y1="225.00" x2="196.30" y2="262.00" stroke="#111" stroke-width="0.92" /><circle cx="184.70" cy="247.80" r="5.00" stroke="#111" stroke-width="3.2199999999999998" fill="none" /><circle cx="184.70" cy="247.80" r="2.60" stroke="#111" stroke-width="0.0" fill="#fff" /><line x1="182.10" y1="247.80" x2="187.30" y2="247.80" stroke="#111" stroke-width="0.92" /><line x1="184.70" y1="245.20" x2="184.70" y2="250.40" stroke="#111" stroke-width="0.92" /><path d="M176.5,246 A8.2,8.2 0 0,0 192.89999999999998,246" stroke="#111" stroke-width="1.8399999999999999" fill="none" /><circle cx="209.00" cy="247.80" r="5.00" stroke="#111" stroke-width="3.2199999999999998" fill="none" /><circle cx="209.00" cy="247.80" r="2.60" stroke="#111" stroke-width="0.0" fill="#fff" /><line x1="206.40" y1="247.80" x2="211.60" y2="247.80" stroke="#111" stroke-width="0.92" /><line x1="209.00" y1="245.20" x2="209.00" y2="250.40" stroke="#111" stroke-width="0.92" /><path d="M200.8,246 A8.2,8.2 0 0,0 217.2,246" stroke="#111" stroke-width="1.8399999999999999" fill="none" /><line x1="174.00" y1="260.30" x2="219.00" y2="260.30" stroke="#111" stroke-width="2.53" /><text transform="translate(135.70,207.50) scale(0.610,1) translate(-11.17,0)" font-size="11.63" fill="#111" stroke="#111" stroke-width="0.15">TBS</text><line x1="127.00" y1="211.50" x2="143.00" y2="211.50" stroke="#111" stroke-width="1.61" /><line x1="163.00" y1="207.00" x2="163.00" y2="228.00" stroke="#111" stroke-width="1.49" /><line x1="152.40" y1="211.50" x2="163.00" y2="211.50" stroke="#111" stroke-width="1.26" /><text transform="translate(200.00,207.50) scale(0.627,1) translate(-13.03,0)" font-size="11.63" fill="#111" stroke="#111" stroke-width="0.15">TBW</text><line x1="173.00" y1="211.50" x2="220.00" y2="211.50" stroke="#111" stroke-width="1.61" /><line x1="230.50" y1="207.00" x2="230.50" y2="228.00" stroke="#111" stroke-width="1.49" /><text transform="translate(251.60,229.40) scale(0.638,1) translate(-8.17,0)" font-size="11.63" fill="#111" stroke="#111" stroke-width="0.15">KK</text><path d="M218.30,240.90 L237.80,232.80 L255.00,232.80" stroke="#111" stroke-width="1.15" fill="none" /><line x1="152.40" y1="207.00" x2="152.40" y2="384.00" stroke="#111" stroke-width="1.49" /><rect x="166.50" y="262.60" width="9.80" height="94.80" stroke="#111" stroke-width="1.7249999999999999" fill="none" /><line x1="173.40" y1="263.00" x2="173.40" y2="357.00" stroke="#111" stroke-width="1.26" /><path d="M166.5,268 L158,270 Q153.5,272 153.5,285 L153.5,335 Q153.5,348 158,350 L166.5,352" stroke="#111" stroke-width="1.8399999999999999" fill="none" /><line x1="159.60" y1="272.00" x2="159.60" y2="348.00" stroke="#111" stroke-width="1.26" /><line x1="153.30" y1="295.00" x2="153.30" y2="325.00" stroke="#111" stroke-width="3.22" /><rect x="128.00" y="302.80" width="24.20" height="13.20" stroke="#111" stroke-width="1.7249999999999999" fill="none" /><line x1="131.00" y1="305.00" x2="148.00" y2="305.00" stroke="#111" stroke-width="1.03" /><line x1="122.00" y1="309.70" x2="303.30" y2="309.70" stroke="#111" stroke-width="1.15" /><line x1="127.60" y1="316.00" x2="127.60" y2="408.00" stroke="#111" stroke-width="1.49" /><rect x="175.40" y="345.00" width="16.80" height="13.90" stroke="#111" stroke-width="1.7249999999999999" fill="none" /><rect x="235.80" y="345.00" width="13.40" height="13.90" stroke="#111" stroke-width="1.7249999999999999" fill="none" /><line x1="192.20" y1="354.30" x2="235.80" y2="354.30" stroke="#111" stroke-width="1.49" /><line x1="136.80" y1="405.00" x2="289.50" y2="405.00" stroke="#111" stroke-width="1.72" /><text transform="translate(212.00,400.50) scale(0.936,1) translate(-3.30,0)" font-size="10.90" fill="#111" stroke="#111" stroke-width="0.15">L</text><text transform="translate(140.50,376.20) scale(0.793,1) translate(-4.10,0)" font-size="11.63" fill="#111" stroke="#111" stroke-width="0.15">E</text><line x1="137.00" y1="380.40" x2="148.00" y2="380.40" stroke="#111" stroke-width="1.49" /><text transform="translate(167.80,376.20) scale(0.883,1) translate(-4.27,0)" font-size="11.63" fill="#111" stroke="#111" stroke-width="0.15">C</text><line x1="161.00" y1="380.40" x2="174.00" y2="380.40" stroke="#111" stroke-width="1.49" /><line x1="183.00" y1="350.00" x2="183.00" y2="384.00" stroke="#111" stroke-width="1.49" /><text transform="translate(214.00,376.20) scale(0.970,1) translate(-4.05,0)" font-size="11.63" fill="#111" stroke="#111" stroke-width="0.15">B</text><line x1="193.00" y1="380.40" x2="235.80" y2="380.40" stroke="#111" stroke-width="1.49" /><line x1="244.50" y1="350.00" x2="244.50" y2="384.00" stroke="#111" stroke-width="1.49" /><line x1="241.70" y1="358.00" x2="241.70" y2="378.00" stroke="#111" stroke-width="1.03" /><line x1="247.60" y1="358.00" x2="247.60" y2="378.00" stroke="#111" stroke-width="1.03" /><text transform="translate(276.90,369.40) scale(0.714,1) translate(-4.50,0)" font-size="12.21" fill="#111" stroke="#111" stroke-width="0.17">K</text><line x1="256.80" y1="372.80" x2="278.60" y2="372.80" stroke="#111" stroke-width="1.49" /><circle cx="231.50" cy="372.00" r="0.90" stroke="#111" stroke-width="0.0" fill="#111" /><text transform="translate(437.50,208.60) scale(0.605,1) translate(-12.69,0)" font-size="13.08" fill="#111" stroke="#111" stroke-width="0.20">TBH</text><line x1="411.00" y1="211.00" x2="461.00" y2="211.00" stroke="#111" stroke-width="1.61" /><line x1="401.70" y1="207.80" x2="401.70" y2="249.20" stroke="#111" stroke-width="1.49" /><line x1="469.40" y1="207.80" x2="469.40" y2="234.00" stroke="#111" stroke-width="1.49" /><path d="M408.30,242.30 L408.30,238.50 L443.50,225.50 L469.40,225.50" stroke="#111" stroke-width="1.84" fill="none" /><path d="M401.80,244.30 L414.50,244.30 L456.00,228.90 L469.40,228.90" stroke="#111" stroke-width="1.84" fill="none" /><path d="M401.80,244.30 L401.80,249.20 L416.80,249.20 L457.10,234.10 L469.40,234.10" stroke="#111" stroke-width="1.84" fill="none" /><line x1="469.40" y1="225.50" x2="469.40" y2="234.10" stroke="#111" stroke-width="1.61" /><line x1="465.90" y1="245.00" x2="465.90" y2="254.50" stroke="#111" stroke-width="1.26" /><path d="M404.40,249.20 L404.40,257.10 L466.90,257.10 L466.90,251.50" stroke="#111" stroke-width="1.61" fill="none" /><rect x="412.30" y="257.20" width="45.90" height="3.00" fill="#555"/><line x1="469.40" y1="225.30" x2="518.20" y2="225.30" stroke="#111" stroke-width="1.49" /><path d="M386.80,350.60 L399.40,336.50 L404.00,340.00" stroke="#111" stroke-width="1.84" fill="none" /><path d="M484.00,350.60 L471.40,336.50 L467.00,340.00" stroke="#111" stroke-width="1.84" fill="none" /><rect x="386.80" y="350.60" width="21.40" height="5.70" stroke="#111" stroke-width="1.8399999999999999" fill="none" /><rect x="461.80" y="350.60" width="22.20" height="5.70" stroke="#111" stroke-width="1.8399999999999999" fill="none" /><rect x="389.80" y="351.50" width="4.40" height="4.00" stroke="#111" stroke-width="1.265" fill="none" /><rect x="396.80" y="351.50" width="4.40" height="4.00" stroke="#111" stroke-width="1.265" fill="none" /><rect x="464.80" y="351.50" width="4.40" height="4.00" stroke="#111" stroke-width="1.265" fill="none" /><rect x="473.80" y="351.50" width="4.40" height="4.00" stroke="#111" stroke-width="1.265" fill="none" /><circle cx="434.90" cy="307.30" r="44.80" stroke="#111" stroke-width="10.35" fill="none" /><circle cx="434.90" cy="307.30" r="45.10" stroke="#fff" stroke-width="4.68" fill="none" stroke-dasharray="4.4 2.7"/><circle cx="434.90" cy="307.30" r="40.30" stroke="#111" stroke-width="3.2199999999999998" fill="none" /><line x1="452.90" y1="307.30" x2="475.20" y2="307.30" stroke="#111" stroke-width="5.75" /><line x1="450.49" y1="316.30" x2="469.80" y2="327.45" stroke="#111" stroke-width="5.75" /><line x1="452.22" y1="317.30" x2="467.20" y2="325.95" stroke="#fff" stroke-width="1.30" /><line x1="443.90" y1="322.89" x2="455.05" y2="342.20" stroke="#111" stroke-width="5.75" /><line x1="444.90" y1="324.62" x2="453.55" y2="339.60" stroke="#fff" stroke-width="1.30" /><line x1="434.90" y1="325.30" x2="434.90" y2="347.60" stroke="#111" stroke-width="5.75" /><line x1="425.90" y1="322.89" x2="414.75" y2="342.20" stroke="#111" stroke-width="5.75" /><line x1="424.90" y1="324.62" x2="416.25" y2="339.60" stroke="#fff" stroke-width="1.30" /><line x1="419.31" y1="316.30" x2="400.00" y2="327.45" stroke="#111" stroke-width="5.75" /><line x1="417.58" y1="317.30" x2="402.60" y2="325.95" stroke="#fff" stroke-width="1.30" /><line x1="416.90" y1="307.30" x2="394.60" y2="307.30" stroke="#111" stroke-width="5.75" /><line x1="419.31" y1="298.30" x2="400.00" y2="287.15" stroke="#111" stroke-width="5.75" /><line x1="417.58" y1="297.30" x2="402.60" y2="288.65" stroke="#fff" stroke-width="1.30" /><line x1="425.90" y1="291.71" x2="414.75" y2="272.40" stroke="#111" stroke-width="5.75" /><line x1="424.90" y1="289.98" x2="416.25" y2="275.00" stroke="#fff" stroke-width="1.30" /><line x1="434.90" y1="289.30" x2="434.90" y2="267.00" stroke="#111" stroke-width="5.75" /><line x1="443.90" y1="291.71" x2="455.05" y2="272.40" stroke="#111" stroke-width="5.75" /><line x1="444.90" y1="289.98" x2="453.55" y2="275.00" stroke="#fff" stroke-width="1.30" /><line x1="450.49" y1="298.30" x2="469.80" y2="287.15" stroke="#111" stroke-width="5.75" /><line x1="452.22" y1="297.30" x2="467.20" y2="288.65" stroke="#fff" stroke-width="1.30" /><circle cx="434.90" cy="307.30" r="17.50" stroke="#111" stroke-width="4.14" fill="#fff" /><circle cx="434.90" cy="307.30" r="17.50" stroke="#fff" stroke-width="1.4" fill="none" stroke-dasharray="1.5 2.5"/><circle cx="434.90" cy="307.30" r="13.20" stroke="#111" stroke-width="1.9549999999999998" fill="none" /><circle cx="434.90" cy="307.30" r="10.00" stroke="#111" stroke-width="1.265" fill="none" /><circle cx="434.90" cy="307.30" r="5.80" stroke="#111" stroke-width="3.4499999999999997" fill="none" /><line x1="431.90" y1="307.30" x2="437.90" y2="307.30" stroke="#111" stroke-width="1.03" /><line x1="434.90" y1="304.30" x2="434.90" y2="310.30" stroke="#111" stroke-width="1.03" /><path d="M412.90,262.00 L409.90,259.00 L404.90,270.00" stroke="#111" stroke-width="2.76" fill="none" /><circle cx="398.90" cy="271.00" r="2.50" stroke="#111" stroke-width="2.1849999999999996" fill="none" /><path d="M456.90,262.00 L459.90,259.00 L464.90,270.00" stroke="#111" stroke-width="2.76" fill="none" /><circle cx="470.90" cy="271.00" r="2.50" stroke="#111" stroke-width="2.1849999999999996" fill="none" /><rect x="429.90" y="258.00" width="10.00" height="6.00" fill="#111"/><line x1="379.00" y1="307.30" x2="506.30" y2="307.30" stroke="#111" stroke-width="1.26" /><line x1="434.90" y1="223.00" x2="434.90" y2="362.90" stroke="#111" stroke-width="1.26" /><line x1="513.90" y1="235.70" x2="513.90" y2="348.50" stroke="#111" stroke-width="1.61" /><text transform="translate(510.30,289.70) rotate(-90) scale(0.809,1) translate(-7.81,0)" font-size="11.63" fill="#111" stroke="#111" stroke-width="0.15">AD</text><line x1="501.20" y1="316.00" x2="501.20" y2="347.00" stroke="#111" stroke-width="1.61" /><text transform="translate(496.70,330.60) rotate(-90) scale(1.123,1) translate(-4.15,0)" font-size="11.48" fill="#111" stroke="#111" stroke-width="0.15">H</text><line x1="385.40" y1="356.50" x2="519.00" y2="356.50" stroke="#111" stroke-width="1.49" /><line x1="386.20" y1="356.00" x2="386.20" y2="398.60" stroke="#111" stroke-width="1.49" /><line x1="484.00" y1="356.00" x2="484.00" y2="398.60" stroke="#111" stroke-width="1.49" /><line x1="396.90" y1="356.00" x2="396.90" y2="383.50" stroke="#111" stroke-width="1.49" /><line x1="473.70" y1="356.00" x2="473.70" y2="383.50" stroke="#111" stroke-width="1.49" /><text transform="translate(436.30,376.40) scale(0.778,1) translate(-3.88,0)" font-size="11.63" fill="#111" stroke="#111" stroke-width="0.15">A</text><line x1="405.30" y1="380.70" x2="464.20" y2="380.70" stroke="#111" stroke-width="1.61" /><text transform="translate(436.30,390.70) scale(0.711,1) translate(-7.76,0)" font-size="11.63" fill="#111" stroke="#111" stroke-width="0.15">AA</text><line x1="395.80" y1="394.70" x2="473.70" y2="394.70" stroke="#111" stroke-width="1.61" /><g transform="translate(497.3,-0.9)"><line x1="166.30" y1="262.60" x2="249.00" y2="262.60" stroke="#111" stroke-width="2.76" /><line x1="176.30" y1="356.90" x2="249.00" y2="356.90" stroke="#111" stroke-width="2.07" /><line x1="177.80" y1="286.00" x2="249.00" y2="286.00" stroke="#111" stroke-width="2.88" /><circle cx="178.80" cy="286.00" r="1.80" stroke="#111" stroke-width="0.0" fill="#111" /><line x1="177.80" y1="291.80" x2="249.00" y2="291.80" stroke="#111" stroke-width="2.88" /><circle cx="178.80" cy="291.80" r="1.80" stroke="#111" stroke-width="0.0" fill="#111" /><line x1="177.80" y1="297.60" x2="249.00" y2="297.60" stroke="#111" stroke-width="2.88" /><circle cx="178.80" cy="297.60" r="1.80" stroke="#111" stroke-width="0.0" fill="#111" /><line x1="177.80" y1="303.00" x2="249.00" y2="303.00" stroke="#111" stroke-width="2.88" /><circle cx="178.80" cy="303.00" r="1.80" stroke="#111" stroke-width="0.0" fill="#111" /><line x1="177.80" y1="315.60" x2="249.00" y2="315.60" stroke="#111" stroke-width="2.88" /><circle cx="178.80" cy="315.60" r="1.80" stroke="#111" stroke-width="0.0" fill="#111" /><line x1="177.80" y1="321.00" x2="249.00" y2="321.00" stroke="#111" stroke-width="2.88" /><circle cx="178.80" cy="321.00" r="1.80" stroke="#111" stroke-width="0.0" fill="#111" /><line x1="177.80" y1="327.30" x2="249.00" y2="327.30" stroke="#111" stroke-width="2.88" /><circle cx="178.80" cy="327.30" r="1.80" stroke="#111" stroke-width="0.0" fill="#111" /><line x1="177.80" y1="332.60" x2="249.00" y2="332.60" stroke="#111" stroke-width="2.88" /><circle cx="178.80" cy="332.60" r="1.80" stroke="#111" stroke-width="0.0" fill="#111" /><line x1="179.30" y1="281.50" x2="249.00" y2="281.50" stroke="#111" stroke-width="1.03" /><line x1="179.30" y1="283.10" x2="249.00" y2="283.10" stroke="#111" stroke-width="1.03" /><line x1="179.30" y1="336.30" x2="249.00" y2="336.30" stroke="#111" stroke-width="1.03" /><line x1="179.30" y1="337.90" x2="249.00" y2="337.90" stroke="#111" stroke-width="1.03" /><line x1="177.30" y1="270.70" x2="249.00" y2="270.70" stroke="#111" stroke-width="1.26" /><line x1="177.30" y1="276.20" x2="249.00" y2="276.20" stroke="#111" stroke-width="1.26" /><line x1="185.30" y1="309.70" x2="242.00" y2="309.70" stroke="#111" stroke-width="2.30" /><circle cx="193.30" cy="309.70" r="2.60" stroke="#111" stroke-width="0.0" fill="#111" /><circle cx="233.50" cy="309.70" r="2.60" stroke="#111" stroke-width="0.0" fill="#111" /><rect x="184.30" y="306.20" width="6.00" height="7.00" stroke="#111" stroke-width="1.035" fill="none" /><rect x="241.00" y="306.20" width="6.00" height="7.00" stroke="#111" stroke-width="1.035" fill="none" /><path d="M191.50,263.60 L204.50,263.60 L201.00,272.60 L195.00,272.60 Z" stroke="#111" stroke-width="1.95" fill="none" /><line x1="196.80" y1="272.60" x2="196.80" y2="278.60" stroke="#111" stroke-width="1.72" /><line x1="199.70" y1="272.60" x2="199.70" y2="278.60" stroke="#111" stroke-width="1.72" /><path d="M223.70,263.60 L236.70,263.60 L233.20,272.60 L227.20,272.60 Z" stroke="#111" stroke-width="1.95" fill="none" /><line x1="229.00" y1="272.60" x2="229.00" y2="278.60" stroke="#111" stroke-width="1.72" /><line x1="231.90" y1="272.60" x2="231.90" y2="278.60" stroke="#111" stroke-width="1.72" /><line x1="177.30" y1="339.70" x2="249.00" y2="339.70" stroke="#111" stroke-width="1.26" /><line x1="177.30" y1="345.20" x2="249.00" y2="345.20" stroke="#111" stroke-width="1.26" /><line x1="177.30" y1="348.70" x2="249.00" y2="348.70" stroke="#111" stroke-width="1.26" /><path d="M191.50,355.90 L204.50,355.90 L201.00,345.40 L195.00,345.40 Z" stroke="#111" stroke-width="1.95" fill="none" /><line x1="196.80" y1="345.40" x2="196.80" y2="340.40" stroke="#111" stroke-width="1.72" /><line x1="199.70" y1="345.40" x2="199.70" y2="340.40" stroke="#111" stroke-width="1.72" /><path d="M223.70,355.90 L236.70,355.90 L233.20,345.40 L227.20,345.40 Z" stroke="#111" stroke-width="1.95" fill="none" /><line x1="229.00" y1="345.40" x2="229.00" y2="340.40" stroke="#111" stroke-width="1.72" /><line x1="231.90" y1="345.40" x2="231.90" y2="340.40" stroke="#111" stroke-width="1.72" /><line x1="176.30" y1="356.40" x2="249.00" y2="356.40" stroke="#111" stroke-width="2.99" /><line x1="176.30" y1="262.60" x2="176.30" y2="357.40" stroke="#111" stroke-width="1.49" /><line x1="178.10" y1="270.60" x2="178.10" y2="349.40" stroke="#111" stroke-width="1.03" /><line x1="249.00" y1="261.60" x2="249.00" y2="357.40" stroke="#111" stroke-width="3.22" /><rect x="244.00" y="261.60" width="5.00" height="7.00" fill="#111"/><line x1="249.00" y1="261.30" x2="326.70" y2="261.30" stroke="#111" stroke-width="1.49" /><line x1="249.00" y1="357.40" x2="326.70" y2="357.40" stroke="#111" stroke-width="1.49" /><line x1="280.80" y1="261.30" x2="280.80" y2="357.40" stroke="#111" stroke-width="1.61" /><path d="M281.80,261.30 L296.30,274.30 L296.30,345.40 L281.80,357.40" stroke="#111" stroke-width="2.53" fill="none" /><line x1="297.60" y1="274.30" x2="297.60" y2="407.40" stroke="#111" stroke-width="1.49" /><line x1="249.00" y1="310.00" x2="303.30" y2="310.00" stroke="#111" stroke-width="1.26" /><path d="M253.60000000000002,275.59999999999997 Q258.1,275.59999999999997 258.1,271.09999999999997 Q258.1,275.59999999999997 262.6,275.59999999999997 Q258.1,275.59999999999997 258.1,280.09999999999997 Q258.1,275.59999999999997 253.60000000000002,275.59999999999997 Z" stroke="#111" stroke-width="0.9199999999999999" fill="#111" /><circle cx="258.10" cy="275.60" r="1.80" stroke="#111" stroke-width="0.0" fill="#111" /><path d="M253.60000000000002,344.09999999999997 Q258.1,344.09999999999997 258.1,339.59999999999997 Q258.1,344.09999999999997 262.6,344.09999999999997 Q258.1,344.09999999999997 258.1,348.59999999999997 Q258.1,344.09999999999997 253.60000000000002,344.09999999999997 Z" stroke="#111" stroke-width="0.9199999999999999" fill="#111" /><circle cx="258.10" cy="344.10" r="1.80" stroke="#111" stroke-width="0.0" fill="#111" /><line x1="322.30" y1="270.30" x2="322.30" y2="349.80" stroke="#111" stroke-width="1.61" /><text transform="translate(317.50,308.80) rotate(-90) scale(0.608,1) translate(-8.65,0)" font-size="12.79" fill="#111" stroke="#111" stroke-width="0.19">AC</text><rect x="163.00" y="227.00" width="67.50" height="7.00" stroke="#111" stroke-width="1.38" fill="none" /><line x1="165.00" y1="228.40" x2="228.50" y2="228.40" stroke="#111" stroke-width="2.76" /><path d="M163.5,228.4 L168,226.4 L168,230.4 Z" stroke="#111" stroke-width="0.9199999999999999" fill="#111" /><path d="M230,228.4 L225.5,226.4 L225.5,230.4 Z" stroke="#111" stroke-width="0.9199999999999999" fill="#111" /><rect x="165.60" y="234.00" width="62.00" height="26.80" stroke="#111" stroke-width="1.4949999999999999" fill="none" /><rect x="174.00" y="236.60" width="45.00" height="23.90" stroke="#111" stroke-width="1.8399999999999999" fill="none" /><line x1="196.30" y1="225.00" x2="196.30" y2="262.00" stroke="#111" stroke-width="0.92" /><circle cx="184.70" cy="247.80" r="5.00" stroke="#111" stroke-width="3.2199999999999998" fill="none" /><circle cx="184.70" cy="247.80" r="2.60" stroke="#111" stroke-width="0.0" fill="#fff" /><line x1="182.10" y1="247.80" x2="187.30" y2="247.80" stroke="#111" stroke-width="0.92" /><line x1="184.70" y1="245.20" x2="184.70" y2="250.40" stroke="#111" stroke-width="0.92" /><path d="M176.5,246 A8.2,8.2 0 0,0 192.89999999999998,246" stroke="#111" stroke-width="1.8399999999999999" fill="none" /><circle cx="209.00" cy="247.80" r="5.00" stroke="#111" stroke-width="3.2199999999999998" fill="none" /><circle cx="209.00" cy="247.80" r="2.60" stroke="#111" stroke-width="0.0" fill="#fff" /><line x1="206.40" y1="247.80" x2="211.60" y2="247.80" stroke="#111" stroke-width="0.92" /><line x1="209.00" y1="245.20" x2="209.00" y2="250.40" stroke="#111" stroke-width="0.92" /><path d="M200.8,246 A8.2,8.2 0 0,0 217.2,246" stroke="#111" stroke-width="1.8399999999999999" fill="none" /><line x1="174.00" y1="260.30" x2="219.00" y2="260.30" stroke="#111" stroke-width="2.53" /><text transform="translate(135.70,207.50) scale(0.610,1) translate(-11.17,0)" font-size="11.63" fill="#111" stroke="#111" stroke-width="0.15">TBS</text><line x1="127.00" y1="211.50" x2="143.00" y2="211.50" stroke="#111" stroke-width="1.61" /><line x1="163.00" y1="207.00" x2="163.00" y2="228.00" stroke="#111" stroke-width="1.49" /><line x1="152.40" y1="211.50" x2="163.00" y2="211.50" stroke="#111" stroke-width="1.26" /><text transform="translate(200.00,207.50) scale(0.627,1) translate(-13.03,0)" font-size="11.63" fill="#111" stroke="#111" stroke-width="0.15">TBW</text><line x1="173.00" y1="211.50" x2="220.00" y2="211.50" stroke="#111" stroke-width="1.61" /><line x1="230.50" y1="207.00" x2="230.50" y2="228.00" stroke="#111" stroke-width="1.49" /><text transform="translate(251.60,229.40) scale(0.638,1) translate(-8.17,0)" font-size="11.63" fill="#111" stroke="#111" stroke-width="0.15">KK</text><path d="M218.30,240.90 L237.80,232.80 L255.00,232.80" stroke="#111" stroke-width="1.15" fill="none" /></g><line x1="649.50" y1="207.00" x2="649.50" y2="390.00" stroke="#111" stroke-width="1.49" /><line x1="648.60" y1="246.30" x2="648.60" y2="390.00" stroke="#111" stroke-width="1.72" /><line x1="656.40" y1="246.30" x2="656.40" y2="371.50" stroke="#111" stroke-width="1.72" /><line x1="648.60" y1="246.30" x2="656.40" y2="246.30" stroke="#111" stroke-width="1.49" /><line x1="648.60" y1="371.50" x2="656.40" y2="371.50" stroke="#111" stroke-width="1.72" /><path d="M648.6,298 Q653,299 653,309" stroke="#111" stroke-width="2.07" fill="none" /><line x1="656.40" y1="260.60" x2="671.00" y2="260.60" stroke="#111" stroke-width="1.49" /><path d="M656.40,358.30 L667.00,358.30 L670.40,356.60" stroke="#111" stroke-width="1.49" fill="none" /><line x1="671.00" y1="260.00" x2="671.00" y2="358.00" stroke="#111" stroke-width="1.49" /><rect x="625.00" y="301.50" width="23.60" height="13.20" stroke="#111" stroke-width="1.7249999999999999" fill="none" /><line x1="627.00" y1="303.50" x2="645.00" y2="303.50" stroke="#111" stroke-width="1.03" /><line x1="619.30" y1="309.30" x2="672.00" y2="309.30" stroke="#111" stroke-width="1.15" /><line x1="625.00" y1="314.70" x2="625.00" y2="400.20" stroke="#111" stroke-width="1.49" /><line x1="602.00" y1="269.20" x2="649.50" y2="269.20" stroke="#111" stroke-width="1.49" /><line x1="602.00" y1="349.10" x2="650.30" y2="349.10" stroke="#111" stroke-width="1.49" /><line x1="607.00" y1="278.40" x2="607.00" y2="339.40" stroke="#111" stroke-width="1.61" /><text transform="translate(602.00,308.10) rotate(-90) scale(0.899,1) translate(-3.89,0)" font-size="10.76" fill="#111" stroke="#111" stroke-width="0.15">N</text><text transform="translate(619.30,357.50) scale(0.760,1) translate(-3.55,0)" font-size="11.63" fill="#111" stroke="#111" stroke-width="0.15">T</text><line x1="616.40" y1="361.20" x2="638.20" y2="361.20" stroke="#111" stroke-width="1.49" /><text transform="translate(637.10,382.50) scale(0.714,1) translate(-4.10,0)" font-size="11.63" fill="#111" stroke="#111" stroke-width="0.15">E</text><line x1="634.00" y1="385.90" x2="641.00" y2="385.90" stroke="#111" stroke-width="1.49" /><line x1="634.20" y1="396.80" x2="786.60" y2="396.80" stroke="#111" stroke-width="1.72" /><text transform="translate(710.20,391.00) scale(0.936,1) translate(-3.30,0)" font-size="10.90" fill="#111" stroke="#111" stroke-width="0.15">L</text><circle cx="659.00" cy="361.50" r="0.90" stroke="#111" stroke-width="0.0" fill="#111" /><g transform="translate(31.8,315.6)"><line x1="166.30" y1="262.60" x2="249.00" y2="262.60" stroke="#111" stroke-width="2.76" /><line x1="176.30" y1="356.90" x2="249.00" y2="356.90" stroke="#111" stroke-width="2.07" /><line x1="177.80" y1="286.00" x2="249.00" y2="286.00" stroke="#111" stroke-width="2.88" /><circle cx="178.80" cy="286.00" r="1.80" stroke="#111" stroke-width="0.0" fill="#111" /><line x1="177.80" y1="291.80" x2="249.00" y2="291.80" stroke="#111" stroke-width="2.88" /><circle cx="178.80" cy="291.80" r="1.80" stroke="#111" stroke-width="0.0" fill="#111" /><line x1="177.80" y1="297.60" x2="249.00" y2="297.60" stroke="#111" stroke-width="2.88" /><circle cx="178.80" cy="297.60" r="1.80" stroke="#111" stroke-width="0.0" fill="#111" /><line x1="177.80" y1="303.00" x2="249.00" y2="303.00" stroke="#111" stroke-width="2.88" /><circle cx="178.80" cy="303.00" r="1.80" stroke="#111" stroke-width="0.0" fill="#111" /><line x1="177.80" y1="315.60" x2="249.00" y2="315.60" stroke="#111" stroke-width="2.88" /><circle cx="178.80" cy="315.60" r="1.80" stroke="#111" stroke-width="0.0" fill="#111" /><line x1="177.80" y1="321.00" x2="249.00" y2="321.00" stroke="#111" stroke-width="2.88" /><circle cx="178.80" cy="321.00" r="1.80" stroke="#111" stroke-width="0.0" fill="#111" /><line x1="177.80" y1="327.30" x2="249.00" y2="327.30" stroke="#111" stroke-width="2.88" /><circle cx="178.80" cy="327.30" r="1.80" stroke="#111" stroke-width="0.0" fill="#111" /><line x1="177.80" y1="332.60" x2="249.00" y2="332.60" stroke="#111" stroke-width="2.88" /><circle cx="178.80" cy="332.60" r="1.80" stroke="#111" stroke-width="0.0" fill="#111" /><line x1="179.30" y1="281.50" x2="249.00" y2="281.50" stroke="#111" stroke-width="1.03" /><line x1="179.30" y1="283.10" x2="249.00" y2="283.10" stroke="#111" stroke-width="1.03" /><line x1="179.30" y1="336.30" x2="249.00" y2="336.30" stroke="#111" stroke-width="1.03" /><line x1="179.30" y1="337.90" x2="249.00" y2="337.90" stroke="#111" stroke-width="1.03" /><line x1="177.30" y1="270.70" x2="249.00" y2="270.70" stroke="#111" stroke-width="1.26" /><line x1="177.30" y1="276.20" x2="249.00" y2="276.20" stroke="#111" stroke-width="1.26" /><line x1="185.30" y1="309.70" x2="242.00" y2="309.70" stroke="#111" stroke-width="2.30" /><circle cx="193.30" cy="309.70" r="2.60" stroke="#111" stroke-width="0.0" fill="#111" /><circle cx="233.50" cy="309.70" r="2.60" stroke="#111" stroke-width="0.0" fill="#111" /><rect x="184.30" y="306.20" width="6.00" height="7.00" stroke="#111" stroke-width="1.035" fill="none" /><rect x="241.00" y="306.20" width="6.00" height="7.00" stroke="#111" stroke-width="1.035" fill="none" /><path d="M191.50,263.60 L204.50,263.60 L201.00,272.60 L195.00,272.60 Z" stroke="#111" stroke-width="1.95" fill="none" /><line x1="196.80" y1="272.60" x2="196.80" y2="278.60" stroke="#111" stroke-width="1.72" /><line x1="199.70" y1="272.60" x2="199.70" y2="278.60" stroke="#111" stroke-width="1.72" /><path d="M223.70,263.60 L236.70,263.60 L233.20,272.60 L227.20,272.60 Z" stroke="#111" stroke-width="1.95" fill="none" /><line x1="229.00" y1="272.60" x2="229.00" y2="278.60" stroke="#111" stroke-width="1.72" /><line x1="231.90" y1="272.60" x2="231.90" y2="278.60" stroke="#111" stroke-width="1.72" /><line x1="177.30" y1="339.70" x2="249.00" y2="339.70" stroke="#111" stroke-width="1.26" /><line x1="177.30" y1="345.20" x2="249.00" y2="345.20" stroke="#111" stroke-width="1.26" /><line x1="177.30" y1="348.70" x2="249.00" y2="348.70" stroke="#111" stroke-width="1.26" /><path d="M191.50,355.90 L204.50,355.90 L201.00,345.40 L195.00,345.40 Z" stroke="#111" stroke-width="1.95" fill="none" /><line x1="196.80" y1="345.40" x2="196.80" y2="340.40" stroke="#111" stroke-width="1.72" /><line x1="199.70" y1="345.40" x2="199.70" y2="340.40" stroke="#111" stroke-width="1.72" /><path d="M223.70,355.90 L236.70,355.90 L233.20,345.40 L227.20,345.40 Z" stroke="#111" stroke-width="1.95" fill="none" /><line x1="229.00" y1="345.40" x2="229.00" y2="340.40" stroke="#111" stroke-width="1.72" /><line x1="231.90" y1="345.40" x2="231.90" y2="340.40" stroke="#111" stroke-width="1.72" /><line x1="176.30" y1="356.40" x2="249.00" y2="356.40" stroke="#111" stroke-width="2.99" /><line x1="176.30" y1="262.60" x2="176.30" y2="357.40" stroke="#111" stroke-width="1.49" /><line x1="178.10" y1="270.60" x2="178.10" y2="349.40" stroke="#111" stroke-width="1.03" /><line x1="249.00" y1="261.60" x2="249.00" y2="357.40" stroke="#111" stroke-width="3.22" /><rect x="244.00" y="261.60" width="5.00" height="7.00" fill="#111"/><line x1="249.00" y1="261.30" x2="326.70" y2="261.30" stroke="#111" stroke-width="1.49" /><line x1="249.00" y1="357.40" x2="326.70" y2="357.40" stroke="#111" stroke-width="1.49" /><line x1="280.80" y1="261.30" x2="280.80" y2="357.40" stroke="#111" stroke-width="1.61" /><path d="M281.80,261.30 L296.30,274.30 L296.30,345.40 L281.80,357.40" stroke="#111" stroke-width="2.53" fill="none" /><line x1="297.60" y1="274.30" x2="297.60" y2="407.40" stroke="#111" stroke-width="1.49" /><line x1="249.00" y1="310.00" x2="303.30" y2="310.00" stroke="#111" stroke-width="1.26" /><path d="M253.60000000000002,275.59999999999997 Q258.1,275.59999999999997 258.1,271.09999999999997 Q258.1,275.59999999999997 262.6,275.59999999999997 Q258.1,275.59999999999997 258.1,280.09999999999997 Q258.1,275.59999999999997 253.60000000000002,275.59999999999997 Z" stroke="#111" stroke-width="0.9199999999999999" fill="#111" /><circle cx="258.10" cy="275.60" r="1.80" stroke="#111" stroke-width="0.0" fill="#111" /><path d="M253.60000000000002,344.09999999999997 Q258.1,344.09999999999997 258.1,339.59999999999997 Q258.1,344.09999999999997 262.6,344.09999999999997 Q258.1,344.09999999999997 258.1,348.59999999999997 Q258.1,344.09999999999997 253.60000000000002,344.09999999999997 Z" stroke="#111" stroke-width="0.9199999999999999" fill="#111" /><circle cx="258.10" cy="344.10" r="1.80" stroke="#111" stroke-width="0.0" fill="#111" /><line x1="322.30" y1="270.30" x2="322.30" y2="349.80" stroke="#111" stroke-width="1.61" /><text transform="translate(315.30,308.80) rotate(-90) scale(0.608,1) translate(-8.65,0)" font-size="12.79" fill="#111" stroke="#111" stroke-width="0.19">AC</text><rect x="163.00" y="227.00" width="67.50" height="7.00" stroke="#111" stroke-width="1.38" fill="none" /><line x1="165.00" y1="228.40" x2="228.50" y2="228.40" stroke="#111" stroke-width="2.76" /><path d="M163.5,228.4 L168,226.4 L168,230.4 Z" stroke="#111" stroke-width="0.9199999999999999" fill="#111" /><path d="M230,228.4 L225.5,226.4 L225.5,230.4 Z" stroke="#111" stroke-width="0.9199999999999999" fill="#111" /><rect x="165.60" y="234.00" width="62.00" height="26.80" stroke="#111" stroke-width="1.4949999999999999" fill="none" /><rect x="174.00" y="236.60" width="45.00" height="23.90" stroke="#111" stroke-width="1.8399999999999999" fill="none" /><line x1="196.30" y1="225.00" x2="196.30" y2="262.00" stroke="#111" stroke-width="0.92" /><circle cx="184.70" cy="247.80" r="5.00" stroke="#111" stroke-width="3.2199999999999998" fill="none" /><circle cx="184.70" cy="247.80" r="2.60" stroke="#111" stroke-width="0.0" fill="#fff" /><line x1="182.10" y1="247.80" x2="187.30" y2="247.80" stroke="#111" stroke-width="0.92" /><line x1="184.70" y1="245.20" x2="184.70" y2="250.40" stroke="#111" stroke-width="0.92" /><path d="M176.5,246 A8.2,8.2 0 0,0 192.89999999999998,246" stroke="#111" stroke-width="1.8399999999999999" fill="none" /><circle cx="209.00" cy="247.80" r="5.00" stroke="#111" stroke-width="3.2199999999999998" fill="none" /><circle cx="209.00" cy="247.80" r="2.60" stroke="#111" stroke-width="0.0" fill="#fff" /><line x1="206.40" y1="247.80" x2="211.60" y2="247.80" stroke="#111" stroke-width="0.92" /><line x1="209.00" y1="245.20" x2="209.00" y2="250.40" stroke="#111" stroke-width="0.92" /><path d="M200.8,246 A8.2,8.2 0 0,0 217.2,246" stroke="#111" stroke-width="1.8399999999999999" fill="none" /><line x1="174.00" y1="260.30" x2="219.00" y2="260.30" stroke="#111" stroke-width="2.53" /><text transform="translate(135.70,207.50) scale(0.610,1) translate(-11.17,0)" font-size="11.63" fill="#111" stroke="#111" stroke-width="0.15">TBS</text><line x1="127.00" y1="211.50" x2="143.00" y2="211.50" stroke="#111" stroke-width="1.61" /><line x1="163.00" y1="207.00" x2="163.00" y2="228.00" stroke="#111" stroke-width="1.49" /><line x1="152.40" y1="211.50" x2="163.00" y2="211.50" stroke="#111" stroke-width="1.26" /><text transform="translate(200.00,207.50) scale(0.627,1) translate(-13.03,0)" font-size="11.63" fill="#111" stroke="#111" stroke-width="0.15">TBW</text><line x1="173.00" y1="211.50" x2="220.00" y2="211.50" stroke="#111" stroke-width="1.61" /><line x1="230.50" y1="207.00" x2="230.50" y2="228.00" stroke="#111" stroke-width="1.49" /><text transform="translate(251.60,229.40) scale(0.638,1) translate(-8.17,0)" font-size="11.63" fill="#111" stroke="#111" stroke-width="0.15">KK</text><path d="M218.30,240.90 L237.80,232.80 L255.00,232.80" stroke="#111" stroke-width="1.15" fill="none" /></g><line x1="183.60" y1="523.60" x2="183.60" y2="706.40" stroke="#111" stroke-width="1.49" /><rect x="181.20" y="601.30" width="2.20" height="79.30" fill="#777"/><line x1="181.80" y1="601.30" x2="181.80" y2="680.60" stroke="#111" stroke-width="1.15" /><path d="M199.3,583.5 L190,583.5 Q186.7,583.5 186.7,587 L186.7,664 Q186.7,667.4 190,667.4 L199.3,667.4" stroke="#111" stroke-width="1.8399999999999999" fill="none" /><rect x="199.30" y="577.80" width="8.10" height="93.60" stroke="#111" stroke-width="1.7249999999999999" fill="none" /><line x1="203.90" y1="578.00" x2="203.90" y2="671.00" stroke="#111" stroke-width="1.26" /><path d="M183.6,618 Q186,620 186.7,626" stroke="#111" stroke-width="1.7249999999999999" fill="none" /><rect x="159.70" y="618.00" width="23.70" height="13.20" stroke="#111" stroke-width="1.7249999999999999" fill="none" /><rect x="162.00" y="618.00" width="18.00" height="3.00" fill="#111"/><line x1="152.00" y1="625.50" x2="210.00" y2="625.50" stroke="#111" stroke-width="1.15" /><line x1="159.50" y1="631.20" x2="159.50" y2="718.50" stroke="#111" stroke-width="1.49" /><line x1="123.50" y1="588.10" x2="183.60" y2="588.10" stroke="#111" stroke-width="1.49" /><line x1="123.50" y1="662.20" x2="183.60" y2="662.20" stroke="#111" stroke-width="1.49" /><line x1="127.60" y1="597.90" x2="127.60" y2="653.00" stroke="#111" stroke-width="1.61" /><text transform="translate(121.80,624.60) rotate(-90) scale(1.034,1) translate(-3.29,0)" font-size="9.45" fill="#111" stroke="#111" stroke-width="0.15">P</text><line x1="144.20" y1="600.80" x2="181.80" y2="600.80" stroke="#111" stroke-width="1.49" /><line x1="144.20" y1="650.10" x2="183.00" y2="650.10" stroke="#111" stroke-width="1.49" /><line x1="147.70" y1="610.00" x2="147.70" y2="639.80" stroke="#111" stroke-width="1.61" /><text transform="translate(144.20,624.60) rotate(-90) scale(0.831,1) translate(-4.20,0)" font-size="11.63" fill="#111" stroke="#111" stroke-width="0.15">N</text><text transform="translate(168.90,674.00) scale(0.760,1) translate(-3.55,0)" font-size="11.63" fill="#111" stroke="#111" stroke-width="0.15">T</text><line x1="166.00" y1="677.10" x2="173.50" y2="677.10" stroke="#111" stroke-width="1.49" /><text transform="translate(171.80,699.50) scale(0.714,1) translate(-4.10,0)" font-size="11.63" fill="#111" stroke="#111" stroke-width="0.15">E</text><line x1="168.00" y1="703.50" x2="175.50" y2="703.50" stroke="#111" stroke-width="1.49" /><line x1="168.90" y1="715.00" x2="319.60" y2="715.00" stroke="#111" stroke-width="1.72" /><text transform="translate(244.40,710.40) scale(0.936,1) translate(-3.30,0)" font-size="10.90" fill="#111" stroke="#111" stroke-width="0.15">L</text><circle cx="194.80" cy="677.00" r="0.90" stroke="#111" stroke-width="0.0" fill="#111" /><text transform="translate(935.00,208.30) scale(0.680,1) translate(-11.28,0)" font-size="11.63" fill="#111" stroke="#111" stroke-width="0.15">TBH</text><line x1="908.00" y1="211.40" x2="957.50" y2="211.40" stroke="#111" stroke-width="1.61" /><line x1="899.70" y1="207.40" x2="899.70" y2="248.90" stroke="#111" stroke-width="1.49" /><line x1="965.90" y1="207.40" x2="965.90" y2="234.50" stroke="#111" stroke-width="1.49" /><path d="M905.90,242.70 L905.90,238.90 L941.10,225.90 L965.90,225.90" stroke="#111" stroke-width="1.84" fill="none" /><path d="M899.40,244.70 L912.10,244.70 L953.60,229.30 L965.90,229.30" stroke="#111" stroke-width="1.84" fill="none" /><path d="M899.40,244.70 L899.40,249.60 L914.40,249.60 L954.70,234.50 L965.90,234.50" stroke="#111" stroke-width="1.84" fill="none" /><line x1="965.90" y1="225.90" x2="965.90" y2="234.50" stroke="#111" stroke-width="1.61" /><line x1="962.40" y1="245.40" x2="962.40" y2="254.90" stroke="#111" stroke-width="1.26" /><line x1="966.30" y1="226.30" x2="1020.20" y2="226.30" stroke="#111" stroke-width="1.49" /><line x1="1016.70" y1="235.70" x2="1016.70" y2="295.70" stroke="#111" stroke-width="1.61" /><text transform="translate(1012.10,264.10) rotate(-90) scale(0.744,1) translate(-8.92,0)" font-size="12.06" fill="#111" stroke="#111" stroke-width="0.17">HD</text><circle cx="932.80" cy="306.30" r="61.60" stroke="#111" stroke-width="2.76" fill="#fff" /><circle cx="968.44" cy="341.94" r="3.40" stroke="#111" stroke-width="1.4949999999999999" fill="none" /><circle cx="968.44" cy="341.94" r="1.50" stroke="#111" stroke-width="1.035" fill="none" /><line x1="974.80" y1="335.57" x2="962.07" y2="348.30" stroke="#111" stroke-width="0.92" stroke-dasharray="3 2"/><circle cx="897.16" cy="341.94" r="3.40" stroke="#111" stroke-width="1.4949999999999999" fill="none" /><circle cx="897.16" cy="341.94" r="1.50" stroke="#111" stroke-width="1.035" fill="none" /><line x1="903.53" y1="348.30" x2="890.80" y2="335.57" stroke="#111" stroke-width="0.92" stroke-dasharray="3 2"/><circle cx="897.16" cy="270.66" r="3.40" stroke="#111" stroke-width="1.4949999999999999" fill="none" /><circle cx="897.16" cy="270.66" r="1.50" stroke="#111" stroke-width="1.035" fill="none" /><line x1="890.80" y1="277.03" x2="903.53" y2="264.30" stroke="#111" stroke-width="0.92" stroke-dasharray="3 2"/><circle cx="968.44" cy="270.66" r="3.40" stroke="#111" stroke-width="1.4949999999999999" fill="none" /><circle cx="968.44" cy="270.66" r="1.50" stroke="#111" stroke-width="1.035" fill="none" /><line x1="962.07" y1="264.30" x2="974.80" y2="277.03" stroke="#111" stroke-width="0.92" stroke-dasharray="3 2"/><circle cx="932.80" cy="306.30" r="44.20" stroke="#111" stroke-width="1.035" fill="none" stroke-dasharray="10 3 2 3"/><line x1="947.80" y1="306.30" x2="970.80" y2="306.30" stroke="#111" stroke-width="5.29" /><line x1="945.79" y1="313.80" x2="965.71" y2="325.30" stroke="#111" stroke-width="5.29" /><line x1="948.39" y1="315.30" x2="963.98" y2="324.30" stroke="#fff" stroke-width="1.00" /><line x1="940.30" y1="319.29" x2="951.80" y2="339.21" stroke="#111" stroke-width="5.29" /><line x1="941.80" y1="321.89" x2="950.80" y2="337.48" stroke="#fff" stroke-width="1.00" /><line x1="932.80" y1="321.30" x2="932.80" y2="344.30" stroke="#111" stroke-width="5.29" /><line x1="925.30" y1="319.29" x2="913.80" y2="339.21" stroke="#111" stroke-width="5.29" /><line x1="923.80" y1="321.89" x2="914.80" y2="337.48" stroke="#fff" stroke-width="1.00" /><line x1="919.81" y1="313.80" x2="899.89" y2="325.30" stroke="#111" stroke-width="5.29" /><line x1="917.21" y1="315.30" x2="901.62" y2="324.30" stroke="#fff" stroke-width="1.00" /><line x1="917.80" y1="306.30" x2="894.80" y2="306.30" stroke="#111" stroke-width="5.29" /><line x1="919.81" y1="298.80" x2="899.89" y2="287.30" stroke="#111" stroke-width="5.29" /><line x1="917.21" y1="297.30" x2="901.62" y2="288.30" stroke="#fff" stroke-width="1.00" /><line x1="925.30" y1="293.31" x2="913.80" y2="273.39" stroke="#111" stroke-width="5.29" /><line x1="923.80" y1="290.71" x2="914.80" y2="275.12" stroke="#fff" stroke-width="1.00" /><line x1="932.80" y1="291.30" x2="932.80" y2="268.30" stroke="#111" stroke-width="5.29" /><line x1="940.30" y1="293.31" x2="951.80" y2="273.39" stroke="#111" stroke-width="5.29" /><line x1="941.80" y1="290.71" x2="950.80" y2="275.12" stroke="#fff" stroke-width="1.00" /><line x1="945.79" y1="298.80" x2="965.71" y2="287.30" stroke="#111" stroke-width="5.29" /><line x1="948.39" y1="297.30" x2="963.98" y2="288.30" stroke="#fff" stroke-width="1.00" /><circle cx="932.80" cy="306.30" r="40.20" stroke="#111" stroke-width="2.07" fill="none" /><circle cx="932.80" cy="306.30" r="36.60" stroke="#111" stroke-width="2.3" fill="none" /><circle cx="932.80" cy="306.30" r="38.40" stroke="#111" stroke-width="2.3" fill="none" stroke-dasharray="1.6 2.2"/><circle cx="932.80" cy="306.30" r="15.90" stroke="#111" stroke-width="3.2199999999999998" fill="#fff" /><circle cx="932.80" cy="306.30" r="12.80" stroke="#111" stroke-width="1.8399999999999999" fill="none" stroke-dasharray="2 1.5"/><circle cx="932.80" cy="306.30" r="9.00" stroke="#111" stroke-width="1.6099999999999999" fill="none" /><circle cx="932.80" cy="306.30" r="5.00" stroke="#111" stroke-width="1.6099999999999999" fill="none" /><line x1="928.80" y1="306.30" x2="936.80" y2="306.30" stroke="#111" stroke-width="0.92" /><line x1="932.80" y1="302.30" x2="932.80" y2="310.30" stroke="#111" stroke-width="0.92" /><line x1="930.00" y1="303.50" x2="935.60" y2="309.10" stroke="#111" stroke-width="0.69" /><line x1="930.00" y1="309.10" x2="935.60" y2="303.50" stroke="#111" stroke-width="0.69" /><circle cx="932.80" cy="261.30" r="3.10" stroke="#111" stroke-width="0.0" fill="#111" /><circle cx="932.80" cy="350.50" r="3.10" stroke="#111" stroke-width="0.0" fill="#111" /><circle cx="887.80" cy="306.30" r="3.10" stroke="#111" stroke-width="0.0" fill="#111" /><circle cx="977.80" cy="306.30" r="3.10" stroke="#111" stroke-width="0.0" fill="#111" /><line x1="872.70" y1="306.30" x2="1020.00" y2="306.30" stroke="#111" stroke-width="1.26" /><line x1="932.80" y1="224.20" x2="932.80" y2="368.20" stroke="#111" stroke-width="1.26" /><line x1="883.30" y1="287.80" x2="981.30" y2="324.90" stroke="#111" stroke-width="1.03" /><text transform="translate(866.50,358.50) scale(0.636,1) translate(-8.91,0)" font-size="11.63" fill="#111" stroke="#111" stroke-width="0.15">4-S</text><path d="M858.60,363.40 L875.30,363.40 L887.70,352.30" stroke="#111" stroke-width="1.15" fill="none" /><text transform="translate(986.00,365.00) scale(0.900,1) translate(-4.84,0)" font-size="11.63" fill="#111" stroke="#111" stroke-width="0.15">M</text><path d="M986.60,369.00 L977.80,369.00 L962.80,347.00" stroke="#111" stroke-width="1.15" fill="none" /><text transform="translate(447.30,526.30) scale(0.656,1) translate(-11.71,0)" font-size="12.06" fill="#111" stroke="#111" stroke-width="0.17">TBH</text><line x1="421.00" y1="529.30" x2="468.40" y2="529.30" stroke="#111" stroke-width="1.61" /><line x1="410.80" y1="524.80" x2="410.80" y2="566.00" stroke="#111" stroke-width="1.49" /><line x1="478.40" y1="524.80" x2="478.40" y2="552.30" stroke="#111" stroke-width="1.49" /><path d="M417.50,560.40 L417.50,556.60 L452.70,543.60 L478.40,543.60" stroke="#111" stroke-width="1.84" fill="none" /><path d="M411.00,562.40 L423.70,562.40 L465.20,547.00 L478.40,547.00" stroke="#111" stroke-width="1.84" fill="none" /><path d="M411.00,562.40 L411.00,567.30 L426.00,567.30 L466.30,552.20 L478.40,552.20" stroke="#111" stroke-width="1.84" fill="none" /><line x1="478.40" y1="543.60" x2="478.40" y2="552.20" stroke="#111" stroke-width="1.61" /><line x1="474.90" y1="563.10" x2="474.90" y2="572.60" stroke="#111" stroke-width="1.26" /><path d="M413.60,567.30 L413.60,576.40 L475.90,576.40 L475.90,569.60" stroke="#111" stroke-width="1.61" fill="none" /><line x1="423.80" y1="576.40" x2="423.80" y2="585.00" stroke="#111" stroke-width="1.49" /><line x1="465.20" y1="576.40" x2="465.20" y2="585.00" stroke="#111" stroke-width="1.49" /><line x1="478.40" y1="543.50" x2="520.20" y2="543.50" stroke="#111" stroke-width="1.49" /><line x1="515.40" y1="553.30" x2="515.40" y2="615.60" stroke="#111" stroke-width="1.61" /><text transform="translate(512.70,583.70) rotate(-90) scale(0.807,1) translate(-8.92,0)" font-size="12.06" fill="#111" stroke="#111" stroke-width="0.17">HD</text><circle cx="444.30" cy="624.60" r="44.60" stroke="#111" stroke-width="9.889999999999999" fill="none" /><circle cx="444.30" cy="624.60" r="44.90" stroke="#fff" stroke-width="4.4719999999999995" fill="none" stroke-dasharray="4.4 2.7"/><circle cx="444.30" cy="624.60" r="40.20" stroke="#111" stroke-width="3.2199999999999998" fill="none" /><circle cx="444.30" cy="624.60" r="36.60" stroke="#111" stroke-width="2.3" fill="none" /><circle cx="444.30" cy="624.60" r="31.50" stroke="#111" stroke-width="1.035" fill="none" stroke-dasharray="6 2 1 2"/><path d="M462.79,613.05 A21.8,21.8 0 0,1 462.79,636.15" stroke="#111" stroke-width="4.14" fill="none" /><path d="M455.85,643.09 A21.8,21.8 0 0,1 432.75,643.09" stroke="#111" stroke-width="4.14" fill="none" /><path d="M425.81,636.15 A21.8,21.8 0 0,1 425.81,613.05" stroke="#111" stroke-width="4.14" fill="none" /><path d="M432.75,606.11 A21.8,21.8 0 0,1 455.85,606.11" stroke="#111" stroke-width="4.14" fill="none" /><line x1="454.20" y1="634.50" x2="468.34" y2="648.64" stroke="#111" stroke-width="0.92" stroke-dasharray="4 2"/><line x1="463.51" y1="643.81" x2="467.51" y2="647.81" stroke="#111" stroke-width="1.26" /><line x1="463.51" y1="647.81" x2="467.51" y2="643.81" stroke="#111" stroke-width="1.26" /><line x1="434.40" y1="634.50" x2="420.26" y2="648.64" stroke="#111" stroke-width="0.92" stroke-dasharray="4 2"/><line x1="421.09" y1="643.81" x2="425.09" y2="647.81" stroke="#111" stroke-width="1.26" /><line x1="421.09" y1="647.81" x2="425.09" y2="643.81" stroke="#111" stroke-width="1.26" /><line x1="434.40" y1="614.70" x2="420.26" y2="600.56" stroke="#111" stroke-width="0.92" stroke-dasharray="4 2"/><line x1="421.09" y1="601.39" x2="425.09" y2="605.39" stroke="#111" stroke-width="1.26" /><line x1="421.09" y1="605.39" x2="425.09" y2="601.39" stroke="#111" stroke-width="1.26" /><line x1="454.20" y1="614.70" x2="468.34" y2="600.56" stroke="#111" stroke-width="0.92" stroke-dasharray="4 2"/><line x1="463.51" y1="601.39" x2="467.51" y2="605.39" stroke="#111" stroke-width="1.26" /><line x1="463.51" y1="605.39" x2="467.51" y2="601.39" stroke="#111" stroke-width="1.26" /><circle cx="444.30" cy="624.60" r="12.80" stroke="#111" stroke-width="2.76" fill="none" /><circle cx="444.30" cy="624.60" r="9.00" stroke="#111" stroke-width="1.38" fill="none" /><circle cx="444.30" cy="624.60" r="5.00" stroke="#111" stroke-width="1.8399999999999999" fill="none" /><circle cx="444.30" cy="624.60" r="2.00" stroke="#111" stroke-width="1.035" fill="none" /><rect x="440.30" y="573.00" width="8.00" height="8.00" fill="#111"/><line x1="388.00" y1="624.60" x2="520.00" y2="624.60" stroke="#111" stroke-width="1.26" /><line x1="444.30" y1="543.50" x2="444.30" y2="681.70" stroke="#111" stroke-width="1.26" /><text transform="translate(381.50,663.00) scale(0.748,1) translate(-8.29,0)" font-size="11.63" fill="#111" stroke="#111" stroke-width="0.15">4-5</text><path d="M373.00,666.70 L392.50,666.70 L406.00,657.70" stroke="#111" stroke-width="1.15" fill="none" /><text transform="translate(502.50,673.50) scale(0.900,1) translate(-4.84,0)" font-size="11.63" fill="#111" stroke="#111" stroke-width="0.15">M</text><path d="M502.90,677.20 L493.10,677.20 L480.40,659.20" stroke="#111" stroke-width="1.15" fill="none" /><clipPath id="hc1"><circle cx="669.2" cy="619.4" r="21.2"/></clipPath><g clip-path="url(#hc1)"><line x1="578.40" y1="649.40" x2="638.40" y2="589.40" stroke="#111" stroke-width="1.03" /><line x1="586.00" y1="649.40" x2="646.00" y2="589.40" stroke="#111" stroke-width="1.03" /><line x1="593.60" y1="649.40" x2="653.60" y2="589.40" stroke="#111" stroke-width="1.03" /><line x1="601.20" y1="649.40" x2="661.20" y2="589.40" stroke="#111" stroke-width="1.03" /><line x1="608.80" y1="649.40" x2="668.80" y2="589.40" stroke="#111" stroke-width="1.03" /><line x1="616.40" y1="649.40" x2="676.40" y2="589.40" stroke="#111" stroke-width="1.03" /><line x1="624.00" y1="649.40" x2="684.00" y2="589.40" stroke="#111" stroke-width="1.03" /><line x1="631.60" y1="649.40" x2="691.60" y2="589.40" stroke="#111" stroke-width="1.03" /><line x1="639.20" y1="649.40" x2="699.20" y2="589.40" stroke="#111" stroke-width="1.03" /><line x1="646.80" y1="649.40" x2="706.80" y2="589.40" stroke="#111" stroke-width="1.03" /><line x1="654.40" y1="649.40" x2="714.40" y2="589.40" stroke="#111" stroke-width="1.03" /><line x1="662.00" y1="649.40" x2="722.00" y2="589.40" stroke="#111" stroke-width="1.03" /><line x1="669.60" y1="649.40" x2="729.60" y2="589.40" stroke="#111" stroke-width="1.03" /><line x1="677.20" y1="649.40" x2="737.20" y2="589.40" stroke="#111" stroke-width="1.03" /><line x1="684.80" y1="649.40" x2="744.80" y2="589.40" stroke="#111" stroke-width="1.03" /><line x1="692.40" y1="649.40" x2="752.40" y2="589.40" stroke="#111" stroke-width="1.03" /><line x1="700.00" y1="649.40" x2="760.00" y2="589.40" stroke="#111" stroke-width="1.03" /></g><rect x="661.80" y="596.00" width="14.60" height="9.00" fill="#111"/><path d="M661.20,599.77 A21.2,21.2 0 1,0 677.20,599.77" stroke="#111" stroke-width="2.9899999999999998" fill="none" /><rect x="661.80" y="590.00" width="14.60" height="15.10" fill="#fff"/><line x1="661.00" y1="574.90" x2="661.00" y2="605.10" stroke="#111" stroke-width="1.72" /><line x1="677.20" y1="574.90" x2="677.20" y2="605.10" stroke="#111" stroke-width="1.72" /><line x1="661.00" y1="605.10" x2="677.20" y2="605.10" stroke="#111" stroke-width="1.72" /><line x1="661.00" y1="580.70" x2="677.20" y2="580.70" stroke="#111" stroke-width="1.49" /><line x1="661.00" y1="592.40" x2="677.20" y2="592.40" stroke="#111" stroke-width="1.15" /><line x1="640.00" y1="619.40" x2="693.60" y2="619.40" stroke="#111" stroke-width="1.15" stroke-dasharray="8 2 2 2"/><line x1="669.20" y1="586.00" x2="669.20" y2="649.60" stroke="#111" stroke-width="1.15" stroke-dasharray="8 2 2 2"/><line x1="677.00" y1="605.10" x2="730.70" y2="605.10" stroke="#111" stroke-width="1.49" /><line x1="669.00" y1="640.60" x2="732.30" y2="640.60" stroke="#111" stroke-width="1.49" /><line x1="726.00" y1="605.10" x2="726.00" y2="640.60" stroke="#111" stroke-width="1.49" /><text transform="translate(719.60,621.50) rotate(-90) scale(0.674,1) translate(-7.28,0)" font-size="19.33" fill="#111" stroke="#111" stroke-width="0.42">G</text><text transform="translate(668.70,574.90) scale(0.650,1) translate(-6.17,0)" font-size="18.90" fill="#111" stroke="#111" stroke-width="0.40">F</text><text transform="translate(669.80,671.40) scale(0.760,1) translate(-7.15,0)" font-size="18.90" fill="#111" stroke="#111" stroke-width="0.40">D</text><line x1="661.80" y1="677.70" x2="676.60" y2="677.70" stroke="#111" stroke-width="1.72" /><line x1="647.50" y1="619.00" x2="647.50" y2="684.10" stroke="#111" stroke-width="1.49" /><line x1="690.40" y1="619.00" x2="690.40" y2="684.10" stroke="#111" stroke-width="1.49" /><line x1="643.50" y1="580.70" x2="646.00" y2="580.70" stroke="#111" stroke-width="1.38" /><line x1="692.50" y1="580.70" x2="695.00" y2="580.70" stroke="#111" stroke-width="1.38" /><line x1="725.40" y1="587.00" x2="725.40" y2="590.50" stroke="#111" stroke-width="1.38" /><line x1="725.40" y1="655.50" x2="725.40" y2="659.00" stroke="#111" stroke-width="1.38" /><text transform="translate(781.00,564.90) rotate(-90) scale(0.554,1) translate(-11.82,0)" font-size="17.73" fill="#111" stroke="#111" stroke-width="0.36">SS</text><line x1="786.10" y1="557.70" x2="786.10" y2="600.80" stroke="#111" stroke-width="1.49" /><clipPath id="hc2"><path d="M796,598.6 L866,598.6 Q870,606 866,613 Q870,625 866,632 Q870,637 867,641 L796,641 Z"/></clipPath><g clip-path="url(#hc2)"><line x1="767.20" y1="650.00" x2="817.20" y2="590.00" stroke="#111" stroke-width="1.03" /><line x1="773.60" y1="650.00" x2="823.60" y2="590.00" stroke="#111" stroke-width="1.03" /><line x1="780.00" y1="650.00" x2="830.00" y2="590.00" stroke="#111" stroke-width="1.03" /><line x1="786.40" y1="650.00" x2="836.40" y2="590.00" stroke="#111" stroke-width="1.03" /><line x1="792.80" y1="650.00" x2="842.80" y2="590.00" stroke="#111" stroke-width="1.03" /><line x1="799.20" y1="650.00" x2="849.20" y2="590.00" stroke="#111" stroke-width="1.03" /><line x1="805.60" y1="650.00" x2="855.60" y2="590.00" stroke="#111" stroke-width="1.03" /><line x1="812.00" y1="650.00" x2="862.00" y2="590.00" stroke="#111" stroke-width="1.03" /><line x1="818.40" y1="650.00" x2="868.40" y2="590.00" stroke="#111" stroke-width="1.03" /><line x1="824.80" y1="650.00" x2="874.80" y2="590.00" stroke="#111" stroke-width="1.03" /><line x1="831.20" y1="650.00" x2="881.20" y2="590.00" stroke="#111" stroke-width="1.03" /><line x1="837.60" y1="650.00" x2="887.60" y2="590.00" stroke="#111" stroke-width="1.03" /><line x1="844.00" y1="650.00" x2="894.00" y2="590.00" stroke="#111" stroke-width="1.03" /><line x1="850.40" y1="650.00" x2="900.40" y2="590.00" stroke="#111" stroke-width="1.03" /><line x1="856.80" y1="650.00" x2="906.80" y2="590.00" stroke="#111" stroke-width="1.03" /><line x1="863.20" y1="650.00" x2="913.20" y2="590.00" stroke="#111" stroke-width="1.03" /><line x1="869.60" y1="650.00" x2="919.60" y2="590.00" stroke="#111" stroke-width="1.03" /><line x1="876.00" y1="650.00" x2="926.00" y2="590.00" stroke="#111" stroke-width="1.03" /><line x1="882.40" y1="650.00" x2="932.40" y2="590.00" stroke="#111" stroke-width="1.03" /><line x1="888.80" y1="650.00" x2="938.80" y2="590.00" stroke="#111" stroke-width="1.03" /><line x1="895.20" y1="650.00" x2="945.20" y2="590.00" stroke="#111" stroke-width="1.03" /><line x1="901.60" y1="650.00" x2="951.60" y2="590.00" stroke="#111" stroke-width="1.03" /></g><rect x="797.50" y="614.50" width="37.00" height="12.00" fill="#fff"/><path d="M796,598.6 L919.5,598.6 M796,641 L919.5,641 M796,598.6 L796,641" stroke="#111" stroke-width="1.8399999999999999" fill="none" /><path d="M866,598.6 Q870,606 866,613 Q870,625 866,632 Q870,637 867,641" stroke="#111" stroke-width="1.38" fill="none" /><path d="M933.4,592 L919.5,592 L919.5,649.4 L933.4,649.4" stroke="#111" stroke-width="1.8399999999999999" fill="none" /><path d="M933.4,592 C929,602 930,606 934,612 C938,620 937,628 933,634 C930,640 931,645 933.4,649.4" stroke="#111" stroke-width="1.4949999999999999" fill="none" /><line x1="777.70" y1="620.70" x2="1003.00" y2="620.70" stroke="#111" stroke-width="1.15" stroke-dasharray="14 2 2 2"/><path d="M798.00,615.10 L834.00,615.10 L837.30,620.70 L834.00,626.20 L798.00,626.20 L798.00,615.10" stroke="#111" stroke-width="1.84" fill="none" /><line x1="834.00" y1="615.10" x2="834.00" y2="626.20" stroke="#111" stroke-width="1.15" /><line x1="778.80" y1="615.10" x2="798.00" y2="615.10" stroke="#111" stroke-width="1.26" /><line x1="778.80" y1="626.20" x2="798.00" y2="626.20" stroke="#111" stroke-width="1.26" /><line x1="786.00" y1="615.00" x2="786.00" y2="626.20" stroke="#111" stroke-width="1.15" /><line x1="796.00" y1="641.00" x2="796.00" y2="696.90" stroke="#111" stroke-width="1.49" /><line x1="824.00" y1="626.20" x2="824.00" y2="666.00" stroke="#111" stroke-width="1.49" /><line x1="796.00" y1="660.00" x2="824.00" y2="660.00" stroke="#111" stroke-width="1.49" /><text transform="translate(811.20,658.20) scale(0.574,1) translate(-12.62,0)" font-size="18.90" fill="#111" stroke="#111" stroke-width="0.40">XX</text><line x1="835.10" y1="626.20" x2="835.10" y2="696.90" stroke="#111" stroke-width="1.49" /><text transform="translate(815.20,685.80) scale(0.683,1) translate(-8.88,0)" font-size="14.53" fill="#111" stroke="#111" stroke-width="0.25">ZZ</text><line x1="810.00" y1="691.30" x2="821.00" y2="691.30" stroke="#111" stroke-width="1.61" /><line x1="778.50" y1="660.00" x2="781.50" y2="660.00" stroke="#111" stroke-width="1.38" /><line x1="840.50" y1="660.00" x2="843.50" y2="660.00" stroke="#111" stroke-width="1.38" /><line x1="786.50" y1="639.00" x2="786.50" y2="642.50" stroke="#111" stroke-width="1.38" /></svg>
<div class=t style="left:107.82px;top:135.89px;font-size:30px;line-height:30px;font-weight:bold;font-style:normal;color:#000;transform-origin:0 0;transform:scaleX(0.8306);">TAI / TAP SERIES</div><div class=t style="left:323.09px;top:135.89px;font-size:30px;line-height:30px;font-weight:normal;font-style:normal;color:#000;transform-origin:0 0;-webkit-text-stroke:0.45px #fff;transform:scaleX(0.8978);">MOTOR OUTLINE DIMENSIONS</div><div class=t style="left:107.32px;top:809.99px;font-size:30px;line-height:30px;font-weight:bold;font-style:normal;color:#000;transform-origin:0 0;transform:scaleX(0.8298);">TAI / TAP SERIES</div><div class=t style="left:323.09px;top:809.99px;font-size:30px;line-height:30px;font-weight:normal;font-style:normal;color:#000;transform-origin:0 0;-webkit-text-stroke:0.45px #fff;transform:scaleX(0.8980);">DIMENSIONAL DATA</div><div class=t style="left:608.88px;top:37.10px;font-size:66px;line-height:66px;font-weight:bold;font-style:normal;color:#fff;transform-origin:0 0;-webkit-text-stroke:1.3px #fff;transform:scaleX(0.8412);">TAI</div><div class=t style="left:758.00px;top:37.10px;font-size:66px;line-height:66px;font-weight:bold;font-style:normal;color:#fff;transform-origin:0 0;-webkit-text-stroke:1.3px #fff;transform:scaleX(0.8132);">TAP</div><div class=t style="left:880.39px;top:46.62px;font-size:55px;line-height:55px;font-weight:normal;font-style:italic;color:#fff;transform-origin:0 0;transform:scaleX(0.7125);">SERIES</div><div class=t style="left:309.45px;top:418.73px;font-size:24.4px;line-height:24.4px;font-weight:bold;font-style:normal;color:#000;transform-origin:0 0;transform:scaleX(0.8892);">B3</div><div class=t style="left:804.74px;top:411.93px;font-size:24.4px;line-height:24.4px;font-weight:bold;font-style:normal;color:#000;transform-origin:0 0;transform:scaleX(0.8968);">B5</div><div class=t style="left:299.56px;top:734.03px;font-size:24.4px;line-height:24.4px;font-weight:bold;font-style:normal;color:#000;transform-origin:0 0;transform:scaleX(0.9442);">B14</div><div class=t style="left:802.18px;top:734.33px;font-size:24.4px;line-height:24.4px;font-weight:bold;font-style:normal;color:#000;transform-origin:0 0;transform:scaleX(0.8798);">SHAFT</div><div class=t style="left:779.93px;top:1540.37px;font-size:22px;line-height:22px;font-weight:bold;font-style:normal;color:#000;transform-origin:0 0;transform:scaleX(0.8658);">MOTOR CATALOGUE</div><div class=t style="left:1007.41px;top:1541.54px;font-size:23.8px;line-height:23.8px;font-weight:bold;font-style:normal;color:#000;transform-origin:0 0;transform:scaleX(1.0573);">17</div><div class=t style="left:118.72px;top:868.99px;font-size:15px;line-height:15px;font-weight:bold;font-style:normal;color:#fff;transform-origin:0 0;transform:scaleX(0.8794);">FRAME</div><div class=t style="left:288.55px;top:858.00px;font-size:14.4px;line-height:14.4px;font-weight:bold;font-style:normal;color:#fff;transform-origin:50% 0;transform:translateX(-50%) scaleX(0.97);">Foot Mounting</div><div class=t style="left:535.10px;top:858.00px;font-size:14.4px;line-height:14.4px;font-weight:bold;font-style:normal;color:#fff;transform-origin:50% 0;transform:translateX(-50%) scaleX(0.97);">Shaft</div><div class=t style="left:856.20px;top:858.00px;font-size:14.4px;line-height:14.4px;font-weight:bold;font-style:normal;color:#fff;transform-origin:50% 0;transform:translateX(-50%) scaleX(0.97);">General</div><div class=t style="left:216.40px;top:879.09px;font-size:15px;line-height:15px;font-weight:bold;font-style:normal;color:#fff;transform-origin:50% 0;transform:translateX(-50%) scaleX(0.87);">H</div><div class=t style="left:256.65px;top:879.09px;font-size:15px;line-height:15px;font-weight:bold;font-style:normal;color:#fff;transform-origin:50% 0;transform:translateX(-50%) scaleX(0.87);">A</div><div class=t style="left:308.70px;top:879.09px;font-size:15px;line-height:15px;font-weight:bold;font-style:normal;color:#fff;transform-origin:50% 0;transform:translateX(-50%) scaleX(0.87);">B</div><div class=t style="left:360.50px;top:879.09px;font-size:15px;line-height:15px;font-weight:bold;font-style:normal;color:#fff;transform-origin:50% 0;transform:translateX(-50%) scaleX(0.87);">C</div><div class=t style="left:400.05px;top:879.09px;font-size:15px;line-height:15px;font-weight:bold;font-style:normal;color:#fff;transform-origin:50% 0;transform:translateX(-50%) scaleX(0.87);">D</div><div class=t style="left:439.50px;top:879.09px;font-size:15px;line-height:15px;font-weight:bold;font-style:normal;color:#fff;transform-origin:50% 0;transform:translateX(-50%) scaleX(0.87);">E</div><div class=t style="left:475.65px;top:879.09px;font-size:15px;line-height:15px;font-weight:bold;font-style:normal;color:#fff;transform-origin:50% 0;transform:translateX(-50%) scaleX(0.87);">F</div><div class=t style="left:511.90px;top:879.09px;font-size:15px;line-height:15px;font-weight:bold;font-style:normal;color:#fff;transform-origin:50% 0;transform:translateX(-50%) scaleX(0.87);">G</div><div class=t style="left:551.40px;top:879.09px;font-size:15px;line-height:15px;font-weight:bold;font-style:normal;color:#fff;transform-origin:50% 0;transform:translateX(-50%) scaleX(0.87);">K</div><div class=t style="left:590.55px;top:879.09px;font-size:15px;line-height:15px;font-weight:bold;font-style:normal;color:#fff;transform-origin:50% 0;transform:translateX(-50%) scaleX(0.87);">SS</div><div class=t style="left:630.35px;top:879.09px;font-size:15px;line-height:15px;font-weight:bold;font-style:normal;color:#fff;transform-origin:50% 0;transform:translateX(-50%) scaleX(0.87);">XX</div><div class=t style="left:670.00px;top:879.09px;font-size:15px;line-height:15px;font-weight:bold;font-style:normal;color:#fff;transform-origin:50% 0;transform:translateX(-50%) scaleX(0.87);">ZZ</div><div class=t style="left:709.60px;top:879.09px;font-size:15px;line-height:15px;font-weight:bold;font-style:normal;color:#fff;transform-origin:50% 0;transform:translateX(-50%) scaleX(0.87);">AA</div><div class=t style="left:749.60px;top:879.09px;font-size:15px;line-height:15px;font-weight:bold;font-style:normal;color:#fff;transform-origin:50% 0;transform:translateX(-50%) scaleX(0.87);">AD</div><div class=t style="left:789.10px;top:879.09px;font-size:15px;line-height:15px;font-weight:bold;font-style:normal;color:#fff;transform-origin:50% 0;transform:translateX(-50%) scaleX(0.87);">HD</div><div class=t style="left:828.65px;top:879.09px;font-size:15px;line-height:15px;font-weight:bold;font-style:normal;color:#fff;transform-origin:50% 0;transform:translateX(-50%) scaleX(0.87);">AC</div><div class=t style="left:876.45px;top:879.09px;font-size:15px;line-height:15px;font-weight:bold;font-style:normal;color:#fff;transform-origin:50% 0;transform:translateX(-50%) scaleX(0.87);">L</div><div class=t style="left:924.20px;top:879.09px;font-size:15px;line-height:15px;font-weight:bold;font-style:normal;color:#fff;transform-origin:50% 0;transform:translateX(-50%) scaleX(0.87);">TBS</div><div class=t style="left:964.25px;top:879.09px;font-size:15px;line-height:15px;font-weight:bold;font-style:normal;color:#fff;transform-origin:50% 0;transform:translateX(-50%) scaleX(0.87);">TBW</div><div class=t style="left:1003.55px;top:879.09px;font-size:15px;line-height:15px;font-weight:bold;font-style:normal;color:#fff;transform-origin:50% 0;transform:translateX(-50%) scaleX(0.87);">TBH</div><div class=t style="left:119.30px;top:904.94px;font-size:12px;line-height:12px;font-weight:normal;font-style:normal;color:#151515;">TAI 56</div><div class=t style="left:216.40px;top:904.94px;font-size:12px;line-height:12px;font-weight:normal;font-style:normal;color:#151515;transform-origin:50% 0;transform:translateX(-50%) scaleX(1.065);">56</div><div class=t style="left:256.65px;top:904.94px;font-size:12px;line-height:12px;font-weight:normal;font-style:normal;color:#151515;transform-origin:50% 0;transform:translateX(-50%) scaleX(1.065);">90</div><div class=t style="left:308.70px;top:904.94px;font-size:12px;line-height:12px;font-weight:normal;font-style:normal;color:#151515;transform-origin:50% 0;transform:translateX(-50%) scaleX(1.065);">71</div><div class=t style="left:360.50px;top:904.94px;font-size:12px;line-height:12px;font-weight:normal;font-style:normal;color:#151515;transform-origin:50% 0;transform:translateX(-50%) scaleX(1.065);">36</div><div class=t style="left:400.05px;top:904.94px;font-size:12px;line-height:12px;font-weight:normal;font-style:normal;color:#151515;transform-origin:50% 0;transform:translateX(-50%) scaleX(1.065);">9</div><div class=t style="left:439.50px;top:904.94px;font-size:12px;line-height:12px;font-weight:normal;font-style:normal;color:#151515;transform-origin:50% 0;transform:translateX(-50%) scaleX(1.065);">20</div><div class=t style="left:475.65px;top:904.94px;font-size:12px;line-height:12px;font-weight:normal;font-style:normal;color:#151515;transform-origin:50% 0;transform:translateX(-50%) scaleX(1.065);">3</div><div class=t style="left:511.90px;top:904.94px;font-size:12px;line-height:12px;font-weight:normal;font-style:normal;color:#151515;transform-origin:50% 0;transform:translateX(-50%) scaleX(1.065);">7.2</div><div class=t style="left:551.40px;top:904.94px;font-size:12px;line-height:12px;font-weight:normal;font-style:normal;color:#151515;transform-origin:50% 0;transform:translateX(-50%) scaleX(1.065);">6</div><div class=t style="left:590.55px;top:904.94px;font-size:12px;line-height:12px;font-weight:normal;font-style:normal;color:#151515;transform-origin:50% 0;transform:translateX(-50%) scaleX(1.065);">M3</div><div class=t style="left:630.35px;top:904.94px;font-size:12px;line-height:12px;font-weight:normal;font-style:normal;color:#151515;transform-origin:50% 0;transform:translateX(-50%) scaleX(1.065);">9</div><div class=t style="left:670.00px;top:904.94px;font-size:12px;line-height:12px;font-weight:normal;font-style:normal;color:#151515;transform-origin:50% 0;transform:translateX(-50%) scaleX(1.065);">12</div><div class=t style="left:709.60px;top:904.94px;font-size:12px;line-height:12px;font-weight:normal;font-style:normal;color:#151515;transform-origin:50% 0;transform:translateX(-50%) scaleX(1.065);">112</div><div class=t style="left:749.60px;top:904.94px;font-size:12px;line-height:12px;font-weight:normal;font-style:normal;color:#151515;transform-origin:50% 0;transform:translateX(-50%) scaleX(1.065);">150</div><div class=t style="left:789.10px;top:904.94px;font-size:12px;line-height:12px;font-weight:normal;font-style:normal;color:#151515;transform-origin:50% 0;transform:translateX(-50%) scaleX(1.065);">94</div><div class=t style="left:828.65px;top:904.94px;font-size:12px;line-height:12px;font-weight:normal;font-style:normal;color:#151515;transform-origin:50% 0;transform:translateX(-50%) scaleX(1.065);">110</div><div class=t style="left:876.45px;top:904.94px;font-size:12px;line-height:12px;font-weight:normal;font-style:normal;color:#151515;transform-origin:50% 0;transform:translateX(-50%) scaleX(1.065);">195</div><div class=t style="left:924.20px;top:904.94px;font-size:12px;line-height:12px;font-weight:normal;font-style:normal;color:#151515;transform-origin:50% 0;transform:translateX(-50%) scaleX(1.065);">16.5</div><div class=t style="left:964.25px;top:904.94px;font-size:12px;line-height:12px;font-weight:normal;font-style:normal;color:#151515;transform-origin:50% 0;transform:translateX(-50%) scaleX(1.065);">83</div><div class=t style="left:1003.55px;top:904.94px;font-size:12px;line-height:12px;font-weight:normal;font-style:normal;color:#151515;transform-origin:50% 0;transform:translateX(-50%) scaleX(1.065);">83</div><div class=t style="left:119.30px;top:930.89px;font-size:12px;line-height:12px;font-weight:normal;font-style:normal;color:#151515;">TAI 63</div><div class=t style="left:216.40px;top:930.89px;font-size:12px;line-height:12px;font-weight:normal;font-style:normal;color:#151515;transform-origin:50% 0;transform:translateX(-50%) scaleX(1.065);">63</div><div class=t style="left:256.65px;top:930.89px;font-size:12px;line-height:12px;font-weight:normal;font-style:normal;color:#151515;transform-origin:50% 0;transform:translateX(-50%) scaleX(1.065);">100</div><div class=t style="left:308.70px;top:930.89px;font-size:12px;line-height:12px;font-weight:normal;font-style:normal;color:#151515;transform-origin:50% 0;transform:translateX(-50%) scaleX(1.065);">80</div><div class=t style="left:360.50px;top:930.89px;font-size:12px;line-height:12px;font-weight:normal;font-style:normal;color:#151515;transform-origin:50% 0;transform:translateX(-50%) scaleX(1.065);">40</div><div class=t style="left:400.05px;top:930.89px;font-size:12px;line-height:12px;font-weight:normal;font-style:normal;color:#151515;transform-origin:50% 0;transform:translateX(-50%) scaleX(1.065);">11</div><div class=t style="left:439.50px;top:930.89px;font-size:12px;line-height:12px;font-weight:normal;font-style:normal;color:#151515;transform-origin:50% 0;transform:translateX(-50%) scaleX(1.065);">23</div><div class=t style="left:475.65px;top:930.89px;font-size:12px;line-height:12px;font-weight:normal;font-style:normal;color:#151515;transform-origin:50% 0;transform:translateX(-50%) scaleX(1.065);">4</div><div class=t style="left:511.90px;top:930.89px;font-size:12px;line-height:12px;font-weight:normal;font-style:normal;color:#151515;transform-origin:50% 0;transform:translateX(-50%) scaleX(1.065);">8.5</div><div class=t style="left:551.40px;top:930.89px;font-size:12px;line-height:12px;font-weight:normal;font-style:normal;color:#151515;transform-origin:50% 0;transform:translateX(-50%) scaleX(1.065);">7</div><div class=t style="left:590.55px;top:930.89px;font-size:12px;line-height:12px;font-weight:normal;font-style:normal;color:#151515;transform-origin:50% 0;transform:translateX(-50%) scaleX(1.065);">M4</div><div class=t style="left:630.35px;top:930.89px;font-size:12px;line-height:12px;font-weight:normal;font-style:normal;color:#151515;transform-origin:50% 0;transform:translateX(-50%) scaleX(1.065);">10</div><div class=t style="left:670.00px;top:930.89px;font-size:12px;line-height:12px;font-weight:normal;font-style:normal;color:#151515;transform-origin:50% 0;transform:translateX(-50%) scaleX(1.065);">14</div><div class=t style="left:709.60px;top:930.89px;font-size:12px;line-height:12px;font-weight:normal;font-style:normal;color:#151515;transform-origin:50% 0;transform:translateX(-50%) scaleX(1.065);">124</div><div class=t style="left:749.60px;top:930.89px;font-size:12px;line-height:12px;font-weight:normal;font-style:normal;color:#151515;transform-origin:50% 0;transform:translateX(-50%) scaleX(1.065);">169</div><div class=t style="left:789.10px;top:930.89px;font-size:12px;line-height:12px;font-weight:normal;font-style:normal;color:#151515;transform-origin:50% 0;transform:translateX(-50%) scaleX(1.065);">106</div><div class=t style="left:828.65px;top:930.89px;font-size:12px;line-height:12px;font-weight:normal;font-style:normal;color:#151515;transform-origin:50% 0;transform:translateX(-50%) scaleX(1.065);">122</div><div class=t style="left:876.45px;top:930.89px;font-size:12px;line-height:12px;font-weight:normal;font-style:normal;color:#151515;transform-origin:50% 0;transform:translateX(-50%) scaleX(1.065);">215</div><div class=t style="left:924.20px;top:930.89px;font-size:12px;line-height:12px;font-weight:normal;font-style:normal;color:#151515;transform-origin:50% 0;transform:translateX(-50%) scaleX(1.065);">10</div><div class=t style="left:964.25px;top:930.89px;font-size:12px;line-height:12px;font-weight:normal;font-style:normal;color:#151515;transform-origin:50% 0;transform:translateX(-50%) scaleX(1.065);">98</div><div class=t style="left:1003.55px;top:930.89px;font-size:12px;line-height:12px;font-weight:normal;font-style:normal;color:#151515;transform-origin:50% 0;transform:translateX(-50%) scaleX(1.065);">98</div><div class=t style="left:119.30px;top:956.84px;font-size:12px;line-height:12px;font-weight:normal;font-style:normal;color:#151515;">TAI 71</div><div class=t style="left:216.40px;top:956.84px;font-size:12px;line-height:12px;font-weight:normal;font-style:normal;color:#151515;transform-origin:50% 0;transform:translateX(-50%) scaleX(1.065);">71</div><div class=t style="left:256.65px;top:956.84px;font-size:12px;line-height:12px;font-weight:normal;font-style:normal;color:#151515;transform-origin:50% 0;transform:translateX(-50%) scaleX(1.065);">112</div><div class=t style="left:308.70px;top:956.84px;font-size:12px;line-height:12px;font-weight:normal;font-style:normal;color:#151515;transform-origin:50% 0;transform:translateX(-50%) scaleX(1.065);">90</div><div class=t style="left:360.50px;top:956.84px;font-size:12px;line-height:12px;font-weight:normal;font-style:normal;color:#151515;transform-origin:50% 0;transform:translateX(-50%) scaleX(1.065);">45</div><div class=t style="left:400.05px;top:956.84px;font-size:12px;line-height:12px;font-weight:normal;font-style:normal;color:#151515;transform-origin:50% 0;transform:translateX(-50%) scaleX(1.065);">14</div><div class=t style="left:439.50px;top:956.84px;font-size:12px;line-height:12px;font-weight:normal;font-style:normal;color:#151515;transform-origin:50% 0;transform:translateX(-50%) scaleX(1.065);">30</div><div class=t style="left:475.65px;top:956.84px;font-size:12px;line-height:12px;font-weight:normal;font-style:normal;color:#151515;transform-origin:50% 0;transform:translateX(-50%) scaleX(1.065);">5</div><div class=t style="left:511.90px;top:956.84px;font-size:12px;line-height:12px;font-weight:normal;font-style:normal;color:#151515;transform-origin:50% 0;transform:translateX(-50%) scaleX(1.065);">11</div><div class=t style="left:551.40px;top:956.84px;font-size:12px;line-height:12px;font-weight:normal;font-style:normal;color:#151515;transform-origin:50% 0;transform:translateX(-50%) scaleX(1.065);">7</div><div class=t style="left:590.55px;top:956.84px;font-size:12px;line-height:12px;font-weight:normal;font-style:normal;color:#151515;transform-origin:50% 0;transform:translateX(-50%) scaleX(1.065);">M5</div><div class=t style="left:630.35px;top:956.84px;font-size:12px;line-height:12px;font-weight:normal;font-style:normal;color:#151515;transform-origin:50% 0;transform:translateX(-50%) scaleX(1.065);">12</div><div class=t style="left:670.00px;top:956.84px;font-size:12px;line-height:12px;font-weight:normal;font-style:normal;color:#151515;transform-origin:50% 0;transform:translateX(-50%) scaleX(1.065);">17</div><div class=t style="left:709.60px;top:956.84px;font-size:12px;line-height:12px;font-weight:normal;font-style:normal;color:#151515;transform-origin:50% 0;transform:translateX(-50%) scaleX(1.065);">140</div><div class=t style="left:749.60px;top:956.84px;font-size:12px;line-height:12px;font-weight:normal;font-style:normal;color:#151515;transform-origin:50% 0;transform:translateX(-50%) scaleX(1.065);">185</div><div class=t style="left:789.10px;top:956.84px;font-size:12px;line-height:12px;font-weight:normal;font-style:normal;color:#151515;transform-origin:50% 0;transform:translateX(-50%) scaleX(1.065);">114</div><div class=t style="left:828.65px;top:956.84px;font-size:12px;line-height:12px;font-weight:normal;font-style:normal;color:#151515;transform-origin:50% 0;transform:translateX(-50%) scaleX(1.065);">138</div><div class=t style="left:876.45px;top:956.84px;font-size:12px;line-height:12px;font-weight:normal;font-style:normal;color:#151515;transform-origin:50% 0;transform:translateX(-50%) scaleX(1.065);">245</div><div class=t style="left:924.20px;top:956.84px;font-size:12px;line-height:12px;font-weight:normal;font-style:normal;color:#151515;transform-origin:50% 0;transform:translateX(-50%) scaleX(1.065);">16</div><div class=t style="left:964.25px;top:956.84px;font-size:12px;line-height:12px;font-weight:normal;font-style:normal;color:#151515;transform-origin:50% 0;transform:translateX(-50%) scaleX(1.065);">98</div><div class=t style="left:1003.55px;top:956.84px;font-size:12px;line-height:12px;font-weight:normal;font-style:normal;color:#151515;transform-origin:50% 0;transform:translateX(-50%) scaleX(1.065);">98</div><div class=t style="left:119.30px;top:982.79px;font-size:12px;line-height:12px;font-weight:normal;font-style:normal;color:#151515;">TAI 80</div><div class=t style="left:216.40px;top:982.79px;font-size:12px;line-height:12px;font-weight:normal;font-style:normal;color:#151515;transform-origin:50% 0;transform:translateX(-50%) scaleX(1.065);">80</div><div class=t style="left:256.65px;top:982.79px;font-size:12px;line-height:12px;font-weight:normal;font-style:normal;color:#151515;transform-origin:50% 0;transform:translateX(-50%) scaleX(1.065);">125</div><div class=t style="left:308.70px;top:982.79px;font-size:12px;line-height:12px;font-weight:normal;font-style:normal;color:#151515;transform-origin:50% 0;transform:translateX(-50%) scaleX(1.065);">100</div><div class=t style="left:360.50px;top:982.79px;font-size:12px;line-height:12px;font-weight:normal;font-style:normal;color:#151515;transform-origin:50% 0;transform:translateX(-50%) scaleX(1.065);">50</div><div class=t style="left:400.05px;top:982.79px;font-size:12px;line-height:12px;font-weight:normal;font-style:normal;color:#151515;transform-origin:50% 0;transform:translateX(-50%) scaleX(1.065);">19</div><div class=t style="left:439.50px;top:982.79px;font-size:12px;line-height:12px;font-weight:normal;font-style:normal;color:#151515;transform-origin:50% 0;transform:translateX(-50%) scaleX(1.065);">40</div><div class=t style="left:475.65px;top:982.79px;font-size:12px;line-height:12px;font-weight:normal;font-style:normal;color:#151515;transform-origin:50% 0;transform:translateX(-50%) scaleX(1.065);">6</div><div class=t style="left:511.90px;top:982.79px;font-size:12px;line-height:12px;font-weight:normal;font-style:normal;color:#151515;transform-origin:50% 0;transform:translateX(-50%) scaleX(1.065);">15.5</div><div class=t style="left:551.40px;top:982.79px;font-size:12px;line-height:12px;font-weight:normal;font-style:normal;color:#151515;transform-origin:50% 0;transform:translateX(-50%) scaleX(1.065);">9</div><div class=t style="left:590.55px;top:982.79px;font-size:12px;line-height:12px;font-weight:normal;font-style:normal;color:#151515;transform-origin:50% 0;transform:translateX(-50%) scaleX(1.065);">M6</div><div class=t style="left:630.35px;top:982.79px;font-size:12px;line-height:12px;font-weight:normal;font-style:normal;color:#151515;transform-origin:50% 0;transform:translateX(-50%) scaleX(1.065);">16</div><div class=t style="left:670.00px;top:982.79px;font-size:12px;line-height:12px;font-weight:normal;font-style:normal;color:#151515;transform-origin:50% 0;transform:translateX(-50%) scaleX(1.065);">21</div><div class=t style="left:709.60px;top:982.79px;font-size:12px;line-height:12px;font-weight:normal;font-style:normal;color:#151515;transform-origin:50% 0;transform:translateX(-50%) scaleX(1.065);">160</div><div class=t style="left:749.60px;top:982.79px;font-size:12px;line-height:12px;font-weight:normal;font-style:normal;color:#151515;transform-origin:50% 0;transform:translateX(-50%) scaleX(1.065);">214</div><div class=t style="left:789.10px;top:982.79px;font-size:12px;line-height:12px;font-weight:normal;font-style:normal;color:#151515;transform-origin:50% 0;transform:translateX(-50%) scaleX(1.065);">134</div><div class=t style="left:828.65px;top:982.79px;font-size:12px;line-height:12px;font-weight:normal;font-style:normal;color:#151515;transform-origin:50% 0;transform:translateX(-50%) scaleX(1.065);">158</div><div class=t style="left:876.45px;top:982.79px;font-size:12px;line-height:12px;font-weight:normal;font-style:normal;color:#151515;transform-origin:50% 0;transform:translateX(-50%) scaleX(1.065);">280</div><div class=t style="left:924.20px;top:982.79px;font-size:12px;line-height:12px;font-weight:normal;font-style:normal;color:#151515;transform-origin:50% 0;transform:translateX(-50%) scaleX(1.065);">18.5</div><div class=t style="left:964.25px;top:982.79px;font-size:12px;line-height:12px;font-weight:normal;font-style:normal;color:#151515;transform-origin:50% 0;transform:translateX(-50%) scaleX(1.065);">109</div><div class=t style="left:1003.55px;top:982.79px;font-size:12px;line-height:12px;font-weight:normal;font-style:normal;color:#151515;transform-origin:50% 0;transform:translateX(-50%) scaleX(1.065);">109</div><div class=t style="left:119.30px;top:1008.74px;font-size:12px;line-height:12px;font-weight:normal;font-style:normal;color:#151515;">TAI 90S/L</div><div class=t style="left:216.40px;top:1008.74px;font-size:12px;line-height:12px;font-weight:normal;font-style:normal;color:#151515;transform-origin:50% 0;transform:translateX(-50%) scaleX(1.065);">90</div><div class=t style="left:256.65px;top:1008.74px;font-size:12px;line-height:12px;font-weight:normal;font-style:normal;color:#151515;transform-origin:50% 0;transform:translateX(-50%) scaleX(1.065);">140</div><div class=t style="left:308.70px;top:1008.74px;font-size:12px;line-height:12px;font-weight:normal;font-style:normal;color:#151515;transform-origin:50% 0;transform:translateX(-50%) scaleX(1.065);">100/125</div><div class=t style="left:360.50px;top:1008.74px;font-size:12px;line-height:12px;font-weight:normal;font-style:normal;color:#151515;transform-origin:50% 0;transform:translateX(-50%) scaleX(1.065);">56</div><div class=t style="left:400.05px;top:1008.74px;font-size:12px;line-height:12px;font-weight:normal;font-style:normal;color:#151515;transform-origin:50% 0;transform:translateX(-50%) scaleX(1.065);">24</div><div class=t style="left:439.50px;top:1008.74px;font-size:12px;line-height:12px;font-weight:normal;font-style:normal;color:#151515;transform-origin:50% 0;transform:translateX(-50%) scaleX(1.065);">50</div><div class=t style="left:475.65px;top:1008.74px;font-size:12px;line-height:12px;font-weight:normal;font-style:normal;color:#151515;transform-origin:50% 0;transform:translateX(-50%) scaleX(1.065);">8</div><div class=t style="left:511.90px;top:1008.74px;font-size:12px;line-height:12px;font-weight:normal;font-style:normal;color:#151515;transform-origin:50% 0;transform:translateX(-50%) scaleX(1.065);">20</div><div class=t style="left:551.40px;top:1008.74px;font-size:12px;line-height:12px;font-weight:normal;font-style:normal;color:#151515;transform-origin:50% 0;transform:translateX(-50%) scaleX(1.065);">10</div><div class=t style="left:590.55px;top:1008.74px;font-size:12px;line-height:12px;font-weight:normal;font-style:normal;color:#151515;transform-origin:50% 0;transform:translateX(-50%) scaleX(1.065);">M8</div><div class=t style="left:630.35px;top:1008.74px;font-size:12px;line-height:12px;font-weight:normal;font-style:normal;color:#151515;transform-origin:50% 0;transform:translateX(-50%) scaleX(1.065);">19</div><div class=t style="left:670.00px;top:1008.74px;font-size:12px;line-height:12px;font-weight:normal;font-style:normal;color:#151515;transform-origin:50% 0;transform:translateX(-50%) scaleX(1.065);">25</div><div class=t style="left:709.60px;top:1008.74px;font-size:12px;line-height:12px;font-weight:normal;font-style:normal;color:#151515;transform-origin:50% 0;transform:translateX(-50%) scaleX(1.065);">175</div><div class=t style="left:749.60px;top:1008.74px;font-size:12px;line-height:12px;font-weight:normal;font-style:normal;color:#151515;transform-origin:50% 0;transform:translateX(-50%) scaleX(1.065);">233</div><div class=t style="left:789.10px;top:1008.74px;font-size:12px;line-height:12px;font-weight:normal;font-style:normal;color:#151515;transform-origin:50% 0;transform:translateX(-50%) scaleX(1.065);">143</div><div class=t style="left:828.65px;top:1008.74px;font-size:12px;line-height:12px;font-weight:normal;font-style:normal;color:#151515;transform-origin:50% 0;transform:translateX(-50%) scaleX(1.065);">177</div><div class=t style="left:876.45px;top:1008.74px;font-size:12px;line-height:12px;font-weight:normal;font-style:normal;color:#151515;transform-origin:50% 0;transform:translateX(-50%) scaleX(1.065);">315/340</div><div class=t style="left:924.20px;top:1008.74px;font-size:12px;line-height:12px;font-weight:normal;font-style:normal;color:#151515;transform-origin:50% 0;transform:translateX(-50%) scaleX(1.065);">20.5</div><div class=t style="left:964.25px;top:1008.74px;font-size:12px;line-height:12px;font-weight:normal;font-style:normal;color:#151515;transform-origin:50% 0;transform:translateX(-50%) scaleX(1.065);">109</div><div class=t style="left:1003.55px;top:1008.74px;font-size:12px;line-height:12px;font-weight:normal;font-style:normal;color:#151515;transform-origin:50% 0;transform:translateX(-50%) scaleX(1.065);">109</div><div class=t style="left:119.30px;top:1034.69px;font-size:12px;line-height:12px;font-weight:normal;font-style:normal;color:#151515;">TAI 100L</div><div class=t style="left:216.40px;top:1034.69px;font-size:12px;line-height:12px;font-weight:normal;font-style:normal;color:#151515;transform-origin:50% 0;transform:translateX(-50%) scaleX(1.065);">100</div><div class=t style="left:256.65px;top:1034.69px;font-size:12px;line-height:12px;font-weight:normal;font-style:normal;color:#151515;transform-origin:50% 0;transform:translateX(-50%) scaleX(1.065);">160</div><div class=t style="left:308.70px;top:1034.69px;font-size:12px;line-height:12px;font-weight:normal;font-style:normal;color:#151515;transform-origin:50% 0;transform:translateX(-50%) scaleX(1.065);">140</div><div class=t style="left:360.50px;top:1034.69px;font-size:12px;line-height:12px;font-weight:normal;font-style:normal;color:#151515;transform-origin:50% 0;transform:translateX(-50%) scaleX(1.065);">63</div><div class=t style="left:400.05px;top:1034.69px;font-size:12px;line-height:12px;font-weight:normal;font-style:normal;color:#151515;transform-origin:50% 0;transform:translateX(-50%) scaleX(1.065);">28</div><div class=t style="left:439.50px;top:1034.69px;font-size:12px;line-height:12px;font-weight:normal;font-style:normal;color:#151515;transform-origin:50% 0;transform:translateX(-50%) scaleX(1.065);">60</div><div class=t style="left:475.65px;top:1034.69px;font-size:12px;line-height:12px;font-weight:normal;font-style:normal;color:#151515;transform-origin:50% 0;transform:translateX(-50%) scaleX(1.065);">8</div><div class=t style="left:511.90px;top:1034.69px;font-size:12px;line-height:12px;font-weight:normal;font-style:normal;color:#151515;transform-origin:50% 0;transform:translateX(-50%) scaleX(1.065);">24</div><div class=t style="left:551.40px;top:1034.69px;font-size:12px;line-height:12px;font-weight:normal;font-style:normal;color:#151515;transform-origin:50% 0;transform:translateX(-50%) scaleX(1.065);">12</div><div class=t style="left:590.55px;top:1034.69px;font-size:12px;line-height:12px;font-weight:normal;font-style:normal;color:#151515;transform-origin:50% 0;transform:translateX(-50%) scaleX(1.065);">M10</div><div class=t style="left:630.35px;top:1034.69px;font-size:12px;line-height:12px;font-weight:normal;font-style:normal;color:#151515;transform-origin:50% 0;transform:translateX(-50%) scaleX(1.065);">22</div><div class=t style="left:670.00px;top:1034.69px;font-size:12px;line-height:12px;font-weight:normal;font-style:normal;color:#151515;transform-origin:50% 0;transform:translateX(-50%) scaleX(1.065);">30</div><div class=t style="left:709.60px;top:1034.69px;font-size:12px;line-height:12px;font-weight:normal;font-style:normal;color:#151515;transform-origin:50% 0;transform:translateX(-50%) scaleX(1.065);">200</div><div class=t style="left:749.60px;top:1034.69px;font-size:12px;line-height:12px;font-weight:normal;font-style:normal;color:#151515;transform-origin:50% 0;transform:translateX(-50%) scaleX(1.065);">260</div><div class=t style="left:789.10px;top:1034.69px;font-size:12px;line-height:12px;font-weight:normal;font-style:normal;color:#151515;transform-origin:50% 0;transform:translateX(-50%) scaleX(1.065);">160</div><div class=t style="left:828.65px;top:1034.69px;font-size:12px;line-height:12px;font-weight:normal;font-style:normal;color:#151515;transform-origin:50% 0;transform:translateX(-50%) scaleX(1.065);">200</div><div class=t style="left:876.45px;top:1034.69px;font-size:12px;line-height:12px;font-weight:normal;font-style:normal;color:#151515;transform-origin:50% 0;transform:translateX(-50%) scaleX(1.065);">377</div><div class=t style="left:924.20px;top:1034.69px;font-size:12px;line-height:12px;font-weight:normal;font-style:normal;color:#151515;transform-origin:50% 0;transform:translateX(-50%) scaleX(1.065);">29</div><div class=t style="left:964.25px;top:1034.69px;font-size:12px;line-height:12px;font-weight:normal;font-style:normal;color:#151515;transform-origin:50% 0;transform:translateX(-50%) scaleX(1.065);">118</div><div class=t style="left:1003.55px;top:1034.69px;font-size:12px;line-height:12px;font-weight:normal;font-style:normal;color:#151515;transform-origin:50% 0;transform:translateX(-50%) scaleX(1.065);">118</div><div class=t style="left:119.30px;top:1060.64px;font-size:12px;line-height:12px;font-weight:normal;font-style:normal;color:#151515;">TAI 112M</div><div class=t style="left:216.40px;top:1060.64px;font-size:12px;line-height:12px;font-weight:normal;font-style:normal;color:#151515;transform-origin:50% 0;transform:translateX(-50%) scaleX(1.065);">112</div><div class=t style="left:256.65px;top:1060.64px;font-size:12px;line-height:12px;font-weight:normal;font-style:normal;color:#151515;transform-origin:50% 0;transform:translateX(-50%) scaleX(1.065);">190</div><div class=t style="left:308.70px;top:1060.64px;font-size:12px;line-height:12px;font-weight:normal;font-style:normal;color:#151515;transform-origin:50% 0;transform:translateX(-50%) scaleX(1.065);">140</div><div class=t style="left:360.50px;top:1060.64px;font-size:12px;line-height:12px;font-weight:normal;font-style:normal;color:#151515;transform-origin:50% 0;transform:translateX(-50%) scaleX(1.065);">70</div><div class=t style="left:400.05px;top:1060.64px;font-size:12px;line-height:12px;font-weight:normal;font-style:normal;color:#151515;transform-origin:50% 0;transform:translateX(-50%) scaleX(1.065);">28</div><div class=t style="left:439.50px;top:1060.64px;font-size:12px;line-height:12px;font-weight:normal;font-style:normal;color:#151515;transform-origin:50% 0;transform:translateX(-50%) scaleX(1.065);">60</div><div class=t style="left:475.65px;top:1060.64px;font-size:12px;line-height:12px;font-weight:normal;font-style:normal;color:#151515;transform-origin:50% 0;transform:translateX(-50%) scaleX(1.065);">8</div><div class=t style="left:511.90px;top:1060.64px;font-size:12px;line-height:12px;font-weight:normal;font-style:normal;color:#151515;transform-origin:50% 0;transform:translateX(-50%) scaleX(1.065);">24</div><div class=t style="left:551.40px;top:1060.64px;font-size:12px;line-height:12px;font-weight:normal;font-style:normal;color:#151515;transform-origin:50% 0;transform:translateX(-50%) scaleX(1.065);">12</div><div class=t style="left:590.55px;top:1060.64px;font-size:12px;line-height:12px;font-weight:normal;font-style:normal;color:#151515;transform-origin:50% 0;transform:translateX(-50%) scaleX(1.065);">M10</div><div class=t style="left:630.35px;top:1060.64px;font-size:12px;line-height:12px;font-weight:normal;font-style:normal;color:#151515;transform-origin:50% 0;transform:translateX(-50%) scaleX(1.065);">22</div><div class=t style="left:670.00px;top:1060.64px;font-size:12px;line-height:12px;font-weight:normal;font-style:normal;color:#151515;transform-origin:50% 0;transform:translateX(-50%) scaleX(1.065);">30</div><div class=t style="left:709.60px;top:1060.64px;font-size:12px;line-height:12px;font-weight:normal;font-style:normal;color:#151515;transform-origin:50% 0;transform:translateX(-50%) scaleX(1.065);">230</div><div class=t style="left:749.60px;top:1060.64px;font-size:12px;line-height:12px;font-weight:normal;font-style:normal;color:#151515;transform-origin:50% 0;transform:translateX(-50%) scaleX(1.065);">283</div><div class=t style="left:789.10px;top:1060.64px;font-size:12px;line-height:12px;font-weight:normal;font-style:normal;color:#151515;transform-origin:50% 0;transform:translateX(-50%) scaleX(1.065);">171</div><div class=t style="left:828.65px;top:1060.64px;font-size:12px;line-height:12px;font-weight:normal;font-style:normal;color:#151515;transform-origin:50% 0;transform:translateX(-50%) scaleX(1.065);">220</div><div class=t style="left:876.45px;top:1060.64px;font-size:12px;line-height:12px;font-weight:normal;font-style:normal;color:#151515;transform-origin:50% 0;transform:translateX(-50%) scaleX(1.065);">400</div><div class=t style="left:924.20px;top:1060.64px;font-size:12px;line-height:12px;font-weight:normal;font-style:normal;color:#151515;transform-origin:50% 0;transform:translateX(-50%) scaleX(1.065);">30</div><div class=t style="left:964.25px;top:1060.64px;font-size:12px;line-height:12px;font-weight:normal;font-style:normal;color:#151515;transform-origin:50% 0;transform:translateX(-50%) scaleX(1.065);">118</div><div class=t style="left:1003.55px;top:1060.64px;font-size:12px;line-height:12px;font-weight:normal;font-style:normal;color:#151515;transform-origin:50% 0;transform:translateX(-50%) scaleX(1.065);">118</div><div class=t style="left:119.30px;top:1086.59px;font-size:12px;line-height:12px;font-weight:normal;font-style:normal;color:#151515;">TAI 132S/M</div><div class=t style="left:216.40px;top:1086.59px;font-size:12px;line-height:12px;font-weight:normal;font-style:normal;color:#151515;transform-origin:50% 0;transform:translateX(-50%) scaleX(1.065);">132</div><div class=t style="left:256.65px;top:1086.59px;font-size:12px;line-height:12px;font-weight:normal;font-style:normal;color:#151515;transform-origin:50% 0;transform:translateX(-50%) scaleX(1.065);">216</div><div class=t style="left:308.70px;top:1086.59px;font-size:12px;line-height:12px;font-weight:normal;font-style:normal;color:#151515;transform-origin:50% 0;transform:translateX(-50%) scaleX(1.065);">140/178</div><div class=t style="left:360.50px;top:1086.59px;font-size:12px;line-height:12px;font-weight:normal;font-style:normal;color:#151515;transform-origin:50% 0;transform:translateX(-50%) scaleX(1.065);">89</div><div class=t style="left:400.05px;top:1086.59px;font-size:12px;line-height:12px;font-weight:normal;font-style:normal;color:#151515;transform-origin:50% 0;transform:translateX(-50%) scaleX(1.065);">38</div><div class=t style="left:439.50px;top:1086.59px;font-size:12px;line-height:12px;font-weight:normal;font-style:normal;color:#151515;transform-origin:50% 0;transform:translateX(-50%) scaleX(1.065);">80</div><div class=t style="left:475.65px;top:1086.59px;font-size:12px;line-height:12px;font-weight:normal;font-style:normal;color:#151515;transform-origin:50% 0;transform:translateX(-50%) scaleX(1.065);">10</div><div class=t style="left:511.90px;top:1086.59px;font-size:12px;line-height:12px;font-weight:normal;font-style:normal;color:#151515;transform-origin:50% 0;transform:translateX(-50%) scaleX(1.065);">33</div><div class=t style="left:551.40px;top:1086.59px;font-size:12px;line-height:12px;font-weight:normal;font-style:normal;color:#151515;transform-origin:50% 0;transform:translateX(-50%) scaleX(1.065);">12</div><div class=t style="left:590.55px;top:1086.59px;font-size:12px;line-height:12px;font-weight:normal;font-style:normal;color:#151515;transform-origin:50% 0;transform:translateX(-50%) scaleX(1.065);">M12</div><div class=t style="left:630.35px;top:1086.59px;font-size:12px;line-height:12px;font-weight:normal;font-style:normal;color:#151515;transform-origin:50% 0;transform:translateX(-50%) scaleX(1.065);">28</div><div class=t style="left:670.00px;top:1086.59px;font-size:12px;line-height:12px;font-weight:normal;font-style:normal;color:#151515;transform-origin:50% 0;transform:translateX(-50%) scaleX(1.065);">37</div><div class=t style="left:709.60px;top:1086.59px;font-size:12px;line-height:12px;font-weight:normal;font-style:normal;color:#151515;transform-origin:50% 0;transform:translateX(-50%) scaleX(1.065);">255</div><div class=t style="left:749.60px;top:1086.59px;font-size:12px;line-height:12px;font-weight:normal;font-style:normal;color:#151515;transform-origin:50% 0;transform:translateX(-50%) scaleX(1.065);">322</div><div class=t style="left:789.10px;top:1086.59px;font-size:12px;line-height:12px;font-weight:normal;font-style:normal;color:#151515;transform-origin:50% 0;transform:translateX(-50%) scaleX(1.065);">190</div><div class=t style="left:828.65px;top:1086.59px;font-size:12px;line-height:12px;font-weight:normal;font-style:normal;color:#151515;transform-origin:50% 0;transform:translateX(-50%) scaleX(1.065);">261</div><div class=t style="left:876.45px;top:1086.59px;font-size:12px;line-height:12px;font-weight:normal;font-style:normal;color:#151515;transform-origin:50% 0;transform:translateX(-50%) scaleX(1.065);">460/498</div><div class=t style="left:924.20px;top:1086.59px;font-size:12px;line-height:12px;font-weight:normal;font-style:normal;color:#151515;transform-origin:50% 0;transform:translateX(-50%) scaleX(1.065);">34</div><div class=t style="left:964.25px;top:1086.59px;font-size:12px;line-height:12px;font-weight:normal;font-style:normal;color:#151515;transform-origin:50% 0;transform:translateX(-50%) scaleX(1.065);">118</div><div class=t style="left:1003.55px;top:1086.59px;font-size:12px;line-height:12px;font-weight:normal;font-style:normal;color:#151515;transform-origin:50% 0;transform:translateX(-50%) scaleX(1.065);">118</div><div class=t style="left:119.30px;top:1112.54px;font-size:12px;line-height:12px;font-weight:normal;font-style:normal;color:#151515;">TAI 160M/L</div><div class=t style="left:216.40px;top:1112.54px;font-size:12px;line-height:12px;font-weight:normal;font-style:normal;color:#151515;transform-origin:50% 0;transform:translateX(-50%) scaleX(1.065);">160</div><div class=t style="left:256.65px;top:1112.54px;font-size:12px;line-height:12px;font-weight:normal;font-style:normal;color:#151515;transform-origin:50% 0;transform:translateX(-50%) scaleX(1.065);">254</div><div class=t style="left:308.70px;top:1112.54px;font-size:12px;line-height:12px;font-weight:normal;font-style:normal;color:#151515;transform-origin:50% 0;transform:translateX(-50%) scaleX(1.065);">210/254</div><div class=t style="left:360.50px;top:1112.54px;font-size:12px;line-height:12px;font-weight:normal;font-style:normal;color:#151515;transform-origin:50% 0;transform:translateX(-50%) scaleX(1.065);">108</div><div class=t style="left:400.05px;top:1112.54px;font-size:12px;line-height:12px;font-weight:normal;font-style:normal;color:#151515;transform-origin:50% 0;transform:translateX(-50%) scaleX(1.065);">42</div><div class=t style="left:439.50px;top:1112.54px;font-size:12px;line-height:12px;font-weight:normal;font-style:normal;color:#151515;transform-origin:50% 0;transform:translateX(-50%) scaleX(1.065);">110</div><div class=t style="left:475.65px;top:1112.54px;font-size:12px;line-height:12px;font-weight:normal;font-style:normal;color:#151515;transform-origin:50% 0;transform:translateX(-50%) scaleX(1.065);">12</div><div class=t style="left:511.90px;top:1112.54px;font-size:12px;line-height:12px;font-weight:normal;font-style:normal;color:#151515;transform-origin:50% 0;transform:translateX(-50%) scaleX(1.065);">37</div><div class=t style="left:551.40px;top:1112.54px;font-size:12px;line-height:12px;font-weight:normal;font-style:normal;color:#151515;transform-origin:50% 0;transform:translateX(-50%) scaleX(1.065);">15</div><div class=t style="left:590.55px;top:1112.54px;font-size:12px;line-height:12px;font-weight:normal;font-style:normal;color:#151515;transform-origin:50% 0;transform:translateX(-50%) scaleX(1.065);">M16</div><div class=t style="left:630.35px;top:1112.54px;font-size:12px;line-height:12px;font-weight:normal;font-style:normal;color:#151515;transform-origin:50% 0;transform:translateX(-50%) scaleX(1.065);">36</div><div class=t style="left:670.00px;top:1112.54px;font-size:12px;line-height:12px;font-weight:normal;font-style:normal;color:#151515;transform-origin:50% 0;transform:translateX(-50%) scaleX(1.065);">45</div><div class=t style="left:709.60px;top:1112.54px;font-size:12px;line-height:12px;font-weight:normal;font-style:normal;color:#151515;transform-origin:50% 0;transform:translateX(-50%) scaleX(1.065);">314</div><div class=t style="left:749.60px;top:1112.54px;font-size:12px;line-height:12px;font-weight:normal;font-style:normal;color:#151515;transform-origin:50% 0;transform:translateX(-50%) scaleX(1.065);">391</div><div class=t style="left:789.10px;top:1112.54px;font-size:12px;line-height:12px;font-weight:normal;font-style:normal;color:#151515;transform-origin:50% 0;transform:translateX(-50%) scaleX(1.065);">231</div><div class=t style="left:828.65px;top:1112.54px;font-size:12px;line-height:12px;font-weight:normal;font-style:normal;color:#151515;transform-origin:50% 0;transform:translateX(-50%) scaleX(1.065);">313</div><div class=t style="left:876.45px;top:1112.54px;font-size:12px;line-height:12px;font-weight:normal;font-style:normal;color:#151515;transform-origin:50% 0;transform:translateX(-50%) scaleX(1.065);">616/662</div><div class=t style="left:924.20px;top:1112.54px;font-size:12px;line-height:12px;font-weight:normal;font-style:normal;color:#151515;transform-origin:50% 0;transform:translateX(-50%) scaleX(1.065);">64</div><div class=t style="left:964.25px;top:1112.54px;font-size:12px;line-height:12px;font-weight:normal;font-style:normal;color:#151515;transform-origin:50% 0;transform:translateX(-50%) scaleX(1.065);">148</div><div class=t style="left:1003.55px;top:1112.54px;font-size:12px;line-height:12px;font-weight:normal;font-style:normal;color:#151515;transform-origin:50% 0;transform:translateX(-50%) scaleX(1.065);">148</div><div class=t style="left:119.30px;top:1138.49px;font-size:12px;line-height:12px;font-weight:normal;font-style:normal;color:#151515;">TAI 180M/L</div><div class=t style="left:216.40px;top:1138.49px;font-size:12px;line-height:12px;font-weight:normal;font-style:normal;color:#151515;transform-origin:50% 0;transform:translateX(-50%) scaleX(1.065);">180</div><div class=t style="left:256.65px;top:1138.49px;font-size:12px;line-height:12px;font-weight:normal;font-style:normal;color:#151515;transform-origin:50% 0;transform:translateX(-50%) scaleX(1.065);">279</div><div class=t style="left:308.70px;top:1138.49px;font-size:12px;line-height:12px;font-weight:normal;font-style:normal;color:#151515;transform-origin:50% 0;transform:translateX(-50%) scaleX(1.065);">241/279</div><div class=t style="left:360.50px;top:1138.49px;font-size:12px;line-height:12px;font-weight:normal;font-style:normal;color:#151515;transform-origin:50% 0;transform:translateX(-50%) scaleX(1.065);">121</div><div class=t style="left:400.05px;top:1138.49px;font-size:12px;line-height:12px;font-weight:normal;font-style:normal;color:#151515;transform-origin:50% 0;transform:translateX(-50%) scaleX(1.065);">48</div><div class=t style="left:439.50px;top:1138.49px;font-size:12px;line-height:12px;font-weight:normal;font-style:normal;color:#151515;transform-origin:50% 0;transform:translateX(-50%) scaleX(1.065);">110</div><div class=t style="left:475.65px;top:1138.49px;font-size:12px;line-height:12px;font-weight:normal;font-style:normal;color:#151515;transform-origin:50% 0;transform:translateX(-50%) scaleX(1.065);">14</div><div class=t style="left:511.90px;top:1138.49px;font-size:12px;line-height:12px;font-weight:normal;font-style:normal;color:#151515;transform-origin:50% 0;transform:translateX(-50%) scaleX(1.065);">42.5</div><div class=t style="left:551.40px;top:1138.49px;font-size:12px;line-height:12px;font-weight:normal;font-style:normal;color:#151515;transform-origin:50% 0;transform:translateX(-50%) scaleX(1.065);">15</div><div class=t style="left:590.55px;top:1138.49px;font-size:12px;line-height:12px;font-weight:normal;font-style:normal;color:#151515;transform-origin:50% 0;transform:translateX(-50%) scaleX(1.065);">M16</div><div class=t style="left:630.35px;top:1138.49px;font-size:12px;line-height:12px;font-weight:normal;font-style:normal;color:#151515;transform-origin:50% 0;transform:translateX(-50%) scaleX(1.065);">36</div><div class=t style="left:670.00px;top:1138.49px;font-size:12px;line-height:12px;font-weight:normal;font-style:normal;color:#151515;transform-origin:50% 0;transform:translateX(-50%) scaleX(1.065);">45</div><div class=t style="left:709.60px;top:1138.49px;font-size:12px;line-height:12px;font-weight:normal;font-style:normal;color:#151515;transform-origin:50% 0;transform:translateX(-50%) scaleX(1.065);">340</div><div class=t style="left:749.60px;top:1138.49px;font-size:12px;line-height:12px;font-weight:normal;font-style:normal;color:#151515;transform-origin:50% 0;transform:translateX(-50%) scaleX(1.065);">440</div><div class=t style="left:789.10px;top:1138.49px;font-size:12px;line-height:12px;font-weight:normal;font-style:normal;color:#151515;transform-origin:50% 0;transform:translateX(-50%) scaleX(1.065);">260</div><div class=t style="left:828.65px;top:1138.49px;font-size:12px;line-height:12px;font-weight:normal;font-style:normal;color:#151515;transform-origin:50% 0;transform:translateX(-50%) scaleX(1.065);">368</div><div class=t style="left:876.45px;top:1138.49px;font-size:12px;line-height:12px;font-weight:normal;font-style:normal;color:#151515;transform-origin:50% 0;transform:translateX(-50%) scaleX(1.065);">730</div><div class=t style="left:924.20px;top:1138.49px;font-size:12px;line-height:12px;font-weight:normal;font-style:normal;color:#151515;transform-origin:50% 0;transform:translateX(-50%) scaleX(1.065);">73</div><div class=t style="left:964.25px;top:1138.49px;font-size:12px;line-height:12px;font-weight:normal;font-style:normal;color:#151515;transform-origin:50% 0;transform:translateX(-50%) scaleX(1.065);">190</div><div class=t style="left:1003.55px;top:1138.49px;font-size:12px;line-height:12px;font-weight:normal;font-style:normal;color:#151515;transform-origin:50% 0;transform:translateX(-50%) scaleX(1.065);">190</div><div class=t style="left:119.30px;top:1164.44px;font-size:12px;line-height:12px;font-weight:normal;font-style:normal;color:#151515;">TAI 200L</div><div class=t style="left:216.40px;top:1164.44px;font-size:12px;line-height:12px;font-weight:normal;font-style:normal;color:#151515;transform-origin:50% 0;transform:translateX(-50%) scaleX(1.065);">200</div><div class=t style="left:256.65px;top:1164.44px;font-size:12px;line-height:12px;font-weight:normal;font-style:normal;color:#151515;transform-origin:50% 0;transform:translateX(-50%) scaleX(1.065);">318</div><div class=t style="left:308.70px;top:1164.44px;font-size:12px;line-height:12px;font-weight:normal;font-style:normal;color:#151515;transform-origin:50% 0;transform:translateX(-50%) scaleX(1.065);">305</div><div class=t style="left:360.50px;top:1164.44px;font-size:12px;line-height:12px;font-weight:normal;font-style:normal;color:#151515;transform-origin:50% 0;transform:translateX(-50%) scaleX(1.065);">133</div><div class=t style="left:400.05px;top:1164.44px;font-size:12px;line-height:12px;font-weight:normal;font-style:normal;color:#151515;transform-origin:50% 0;transform:translateX(-50%) scaleX(1.065);">55</div><div class=t style="left:439.50px;top:1164.44px;font-size:12px;line-height:12px;font-weight:normal;font-style:normal;color:#151515;transform-origin:50% 0;transform:translateX(-50%) scaleX(1.065);">110</div><div class=t style="left:475.65px;top:1164.44px;font-size:12px;line-height:12px;font-weight:normal;font-style:normal;color:#151515;transform-origin:50% 0;transform:translateX(-50%) scaleX(1.065);">16</div><div class=t style="left:511.90px;top:1164.44px;font-size:12px;line-height:12px;font-weight:normal;font-style:normal;color:#151515;transform-origin:50% 0;transform:translateX(-50%) scaleX(1.065);">49</div><div class=t style="left:551.40px;top:1164.44px;font-size:12px;line-height:12px;font-weight:normal;font-style:normal;color:#151515;transform-origin:50% 0;transform:translateX(-50%) scaleX(1.065);">19</div><div class=t style="left:590.55px;top:1164.44px;font-size:12px;line-height:12px;font-weight:normal;font-style:normal;color:#151515;transform-origin:50% 0;transform:translateX(-50%) scaleX(1.065);">M20</div><div class=t style="left:630.35px;top:1164.44px;font-size:12px;line-height:12px;font-weight:normal;font-style:normal;color:#151515;transform-origin:50% 0;transform:translateX(-50%) scaleX(1.065);">42</div><div class=t style="left:670.00px;top:1164.44px;font-size:12px;line-height:12px;font-weight:normal;font-style:normal;color:#151515;transform-origin:50% 0;transform:translateX(-50%) scaleX(1.065);">53</div><div class=t style="left:709.60px;top:1164.44px;font-size:12px;line-height:12px;font-weight:normal;font-style:normal;color:#151515;transform-origin:50% 0;transform:translateX(-50%) scaleX(1.065);">390</div><div class=t style="left:749.60px;top:1164.44px;font-size:12px;line-height:12px;font-weight:normal;font-style:normal;color:#151515;transform-origin:50% 0;transform:translateX(-50%) scaleX(1.065);">460</div><div class=t style="left:789.10px;top:1164.44px;font-size:12px;line-height:12px;font-weight:normal;font-style:normal;color:#151515;transform-origin:50% 0;transform:translateX(-50%) scaleX(1.065);">260</div><div class=t style="left:828.65px;top:1164.44px;font-size:12px;line-height:12px;font-weight:normal;font-style:normal;color:#151515;transform-origin:50% 0;transform:translateX(-50%) scaleX(1.065);">368</div><div class=t style="left:876.45px;top:1164.44px;font-size:12px;line-height:12px;font-weight:normal;font-style:normal;color:#151515;transform-origin:50% 0;transform:translateX(-50%) scaleX(1.065);">745</div><div class=t style="left:924.20px;top:1164.44px;font-size:12px;line-height:12px;font-weight:normal;font-style:normal;color:#151515;transform-origin:50% 0;transform:translateX(-50%) scaleX(1.065);">85</div><div class=t style="left:964.25px;top:1164.44px;font-size:12px;line-height:12px;font-weight:normal;font-style:normal;color:#151515;transform-origin:50% 0;transform:translateX(-50%) scaleX(1.065);">190</div><div class=t style="left:1003.55px;top:1164.44px;font-size:12px;line-height:12px;font-weight:normal;font-style:normal;color:#151515;transform-origin:50% 0;transform:translateX(-50%) scaleX(1.065);">190</div><div class=t style="left:118.85px;top:1220.34px;font-size:12px;line-height:12px;font-weight:bold;font-style:normal;color:#fff;transform-origin:0 0;transform:scaleX(0.9350);">FRAME</div><div class=t style="left:308.00px;top:1209.10px;font-size:12.4px;line-height:12.4px;font-weight:bold;font-style:normal;color:#fff;transform-origin:50% 0;transform:translateX(-50%) scaleX(0.97);">B5</div><div class=t style="left:514.90px;top:1209.10px;font-size:12.4px;line-height:12.4px;font-weight:bold;font-style:normal;color:#fff;transform-origin:50% 0;transform:translateX(-50%) scaleX(0.97);">B14A</div><div class=t style="left:709.45px;top:1209.10px;font-size:12.4px;line-height:12.4px;font-weight:bold;font-style:normal;color:#fff;transform-origin:50% 0;transform:translateX(-50%) scaleX(0.97);">B5R</div><div class=t style="left:915.70px;top:1209.10px;font-size:12.4px;line-height:12.4px;font-weight:bold;font-style:normal;color:#fff;transform-origin:50% 0;transform:translateX(-50%) scaleX(0.97);">B14B</div><div class=t style="left:216.40px;top:1230.01px;font-size:12.5px;line-height:12.5px;font-weight:bold;font-style:normal;color:#fff;transform-origin:50% 0;transform:translateX(-50%) scaleX(0.9);">N</div><div class=t style="left:256.65px;top:1230.01px;font-size:12.5px;line-height:12.5px;font-weight:bold;font-style:normal;color:#fff;transform-origin:50% 0;transform:translateX(-50%) scaleX(0.9);">M</div><div class=t style="left:308.70px;top:1230.01px;font-size:12.5px;line-height:12.5px;font-weight:bold;font-style:normal;color:#fff;transform-origin:50% 0;transform:translateX(-50%) scaleX(0.9);">P</div><div class=t style="left:360.50px;top:1230.01px;font-size:12.5px;line-height:12.5px;font-weight:bold;font-style:normal;color:#fff;transform-origin:50% 0;transform:translateX(-50%) scaleX(0.9);">S</div><div class=t style="left:400.05px;top:1230.01px;font-size:12.5px;line-height:12.5px;font-weight:bold;font-style:normal;color:#fff;transform-origin:50% 0;transform:translateX(-50%) scaleX(0.9);">T</div><div class=t style="left:439.50px;top:1230.01px;font-size:12.5px;line-height:12.5px;font-weight:bold;font-style:normal;color:#fff;transform-origin:50% 0;transform:translateX(-50%) scaleX(0.9);">N</div><div class=t style="left:475.65px;top:1230.01px;font-size:12.5px;line-height:12.5px;font-weight:bold;font-style:normal;color:#fff;transform-origin:50% 0;transform:translateX(-50%) scaleX(0.9);">M</div><div class=t style="left:511.90px;top:1230.01px;font-size:12.5px;line-height:12.5px;font-weight:bold;font-style:normal;color:#fff;transform-origin:50% 0;transform:translateX(-50%) scaleX(0.9);">P</div><div class=t style="left:551.40px;top:1230.01px;font-size:12.5px;line-height:12.5px;font-weight:bold;font-style:normal;color:#fff;transform-origin:50% 0;transform:translateX(-50%) scaleX(0.9);">S</div><div class=t style="left:590.55px;top:1230.01px;font-size:12.5px;line-height:12.5px;font-weight:bold;font-style:normal;color:#fff;transform-origin:50% 0;transform:translateX(-50%) scaleX(0.9);">T</div><div class=t style="left:630.35px;top:1230.01px;font-size:12.5px;line-height:12.5px;font-weight:bold;font-style:normal;color:#fff;transform-origin:50% 0;transform:translateX(-50%) scaleX(0.9);">N</div><div class=t style="left:670.00px;top:1230.01px;font-size:12.5px;line-height:12.5px;font-weight:bold;font-style:normal;color:#fff;transform-origin:50% 0;transform:translateX(-50%) scaleX(0.9);">M</div><div class=t style="left:709.60px;top:1230.01px;font-size:12.5px;line-height:12.5px;font-weight:bold;font-style:normal;color:#fff;transform-origin:50% 0;transform:translateX(-50%) scaleX(0.9);">P</div><div class=t style="left:749.60px;top:1230.01px;font-size:12.5px;line-height:12.5px;font-weight:bold;font-style:normal;color:#fff;transform-origin:50% 0;transform:translateX(-50%) scaleX(0.9);">T</div><div class=t style="left:789.10px;top:1230.01px;font-size:12.5px;line-height:12.5px;font-weight:bold;font-style:normal;color:#fff;transform-origin:50% 0;transform:translateX(-50%) scaleX(0.9);">S</div><div class=t style="left:828.65px;top:1230.01px;font-size:12.5px;line-height:12.5px;font-weight:bold;font-style:normal;color:#fff;transform-origin:50% 0;transform:translateX(-50%) scaleX(0.9);">N</div><div class=t style="left:876.45px;top:1230.01px;font-size:12.5px;line-height:12.5px;font-weight:bold;font-style:normal;color:#fff;transform-origin:50% 0;transform:translateX(-50%) scaleX(0.9);">M</div><div class=t style="left:924.20px;top:1230.01px;font-size:12.5px;line-height:12.5px;font-weight:bold;font-style:normal;color:#fff;transform-origin:50% 0;transform:translateX(-50%) scaleX(0.9);">P</div><div class=t style="left:964.25px;top:1230.01px;font-size:12.5px;line-height:12.5px;font-weight:bold;font-style:normal;color:#fff;transform-origin:50% 0;transform:translateX(-50%) scaleX(0.9);">T</div><div class=t style="left:1003.55px;top:1230.01px;font-size:12.5px;line-height:12.5px;font-weight:bold;font-style:normal;color:#fff;transform-origin:50% 0;transform:translateX(-50%) scaleX(0.9);">S</div><div class=t style="left:119.30px;top:1253.04px;font-size:12px;line-height:12px;font-weight:normal;font-style:normal;color:#151515;">TAI 56</div><div class=t style="left:216.40px;top:1253.04px;font-size:12px;line-height:12px;font-weight:normal;font-style:normal;color:#151515;transform-origin:50% 0;transform:translateX(-50%) scaleX(1.065);">80</div><div class=t style="left:256.65px;top:1253.04px;font-size:12px;line-height:12px;font-weight:normal;font-style:normal;color:#151515;transform-origin:50% 0;transform:translateX(-50%) scaleX(1.065);">100</div><div class=t style="left:308.70px;top:1253.04px;font-size:12px;line-height:12px;font-weight:normal;font-style:normal;color:#151515;transform-origin:50% 0;transform:translateX(-50%) scaleX(1.065);">120</div><div class=t style="left:360.50px;top:1253.04px;font-size:12px;line-height:12px;font-weight:normal;font-style:normal;color:#151515;transform-origin:50% 0;transform:translateX(-50%) scaleX(1.065);">4-7</div><div class=t style="left:400.05px;top:1253.04px;font-size:12px;line-height:12px;font-weight:normal;font-style:normal;color:#151515;transform-origin:50% 0;transform:translateX(-50%) scaleX(1.065);">3</div><div class=t style="left:439.50px;top:1253.04px;font-size:12px;line-height:12px;font-weight:normal;font-style:normal;color:#151515;transform-origin:50% 0;transform:translateX(-50%) scaleX(1.065);">50</div><div class=t style="left:475.65px;top:1253.04px;font-size:12px;line-height:12px;font-weight:normal;font-style:normal;color:#151515;transform-origin:50% 0;transform:translateX(-50%) scaleX(1.065);">65</div><div class=t style="left:511.90px;top:1253.04px;font-size:12px;line-height:12px;font-weight:normal;font-style:normal;color:#151515;transform-origin:50% 0;transform:translateX(-50%) scaleX(1.065);">80</div><div class=t style="left:551.40px;top:1253.04px;font-size:12px;line-height:12px;font-weight:normal;font-style:normal;color:#151515;transform-origin:50% 0;transform:translateX(-50%) scaleX(1.065);">M5</div><div class=t style="left:590.55px;top:1253.04px;font-size:12px;line-height:12px;font-weight:normal;font-style:normal;color:#151515;transform-origin:50% 0;transform:translateX(-50%) scaleX(1.065);">2.5</div><div class=t style="left:119.30px;top:1278.94px;font-size:12px;line-height:12px;font-weight:normal;font-style:normal;color:#151515;">TAI 63</div><div class=t style="left:216.40px;top:1278.94px;font-size:12px;line-height:12px;font-weight:normal;font-style:normal;color:#151515;transform-origin:50% 0;transform:translateX(-50%) scaleX(1.065);">95</div><div class=t style="left:256.65px;top:1278.94px;font-size:12px;line-height:12px;font-weight:normal;font-style:normal;color:#151515;transform-origin:50% 0;transform:translateX(-50%) scaleX(1.065);">115</div><div class=t style="left:308.70px;top:1278.94px;font-size:12px;line-height:12px;font-weight:normal;font-style:normal;color:#151515;transform-origin:50% 0;transform:translateX(-50%) scaleX(1.065);">140</div><div class=t style="left:360.50px;top:1278.94px;font-size:12px;line-height:12px;font-weight:normal;font-style:normal;color:#151515;transform-origin:50% 0;transform:translateX(-50%) scaleX(1.065);">4-10</div><div class=t style="left:400.05px;top:1278.94px;font-size:12px;line-height:12px;font-weight:normal;font-style:normal;color:#151515;transform-origin:50% 0;transform:translateX(-50%) scaleX(1.065);">3</div><div class=t style="left:439.50px;top:1278.94px;font-size:12px;line-height:12px;font-weight:normal;font-style:normal;color:#151515;transform-origin:50% 0;transform:translateX(-50%) scaleX(1.065);">60</div><div class=t style="left:475.65px;top:1278.94px;font-size:12px;line-height:12px;font-weight:normal;font-style:normal;color:#151515;transform-origin:50% 0;transform:translateX(-50%) scaleX(1.065);">75</div><div class=t style="left:511.90px;top:1278.94px;font-size:12px;line-height:12px;font-weight:normal;font-style:normal;color:#151515;transform-origin:50% 0;transform:translateX(-50%) scaleX(1.065);">90</div><div class=t style="left:551.40px;top:1278.94px;font-size:12px;line-height:12px;font-weight:normal;font-style:normal;color:#151515;transform-origin:50% 0;transform:translateX(-50%) scaleX(1.065);">M5</div><div class=t style="left:590.55px;top:1278.94px;font-size:12px;line-height:12px;font-weight:normal;font-style:normal;color:#151515;transform-origin:50% 0;transform:translateX(-50%) scaleX(1.065);">2.5</div><div class=t style="left:119.30px;top:1304.84px;font-size:12px;line-height:12px;font-weight:normal;font-style:normal;color:#151515;">TAI 71</div><div class=t style="left:216.40px;top:1304.84px;font-size:12px;line-height:12px;font-weight:normal;font-style:normal;color:#151515;transform-origin:50% 0;transform:translateX(-50%) scaleX(1.065);">110</div><div class=t style="left:256.65px;top:1304.84px;font-size:12px;line-height:12px;font-weight:normal;font-style:normal;color:#151515;transform-origin:50% 0;transform:translateX(-50%) scaleX(1.065);">130</div><div class=t style="left:308.70px;top:1304.84px;font-size:12px;line-height:12px;font-weight:normal;font-style:normal;color:#151515;transform-origin:50% 0;transform:translateX(-50%) scaleX(1.065);">160</div><div class=t style="left:360.50px;top:1304.84px;font-size:12px;line-height:12px;font-weight:normal;font-style:normal;color:#151515;transform-origin:50% 0;transform:translateX(-50%) scaleX(1.065);">4-10</div><div class=t style="left:400.05px;top:1304.84px;font-size:12px;line-height:12px;font-weight:normal;font-style:normal;color:#151515;transform-origin:50% 0;transform:translateX(-50%) scaleX(1.065);">3.5</div><div class=t style="left:439.50px;top:1304.84px;font-size:12px;line-height:12px;font-weight:normal;font-style:normal;color:#151515;transform-origin:50% 0;transform:translateX(-50%) scaleX(1.065);">70</div><div class=t style="left:475.65px;top:1304.84px;font-size:12px;line-height:12px;font-weight:normal;font-style:normal;color:#151515;transform-origin:50% 0;transform:translateX(-50%) scaleX(1.065);">85</div><div class=t style="left:511.90px;top:1304.84px;font-size:12px;line-height:12px;font-weight:normal;font-style:normal;color:#151515;transform-origin:50% 0;transform:translateX(-50%) scaleX(1.065);">105</div><div class=t style="left:551.40px;top:1304.84px;font-size:12px;line-height:12px;font-weight:normal;font-style:normal;color:#151515;transform-origin:50% 0;transform:translateX(-50%) scaleX(1.065);">M6</div><div class=t style="left:590.55px;top:1304.84px;font-size:12px;line-height:12px;font-weight:normal;font-style:normal;color:#151515;transform-origin:50% 0;transform:translateX(-50%) scaleX(1.065);">2.5</div><div class=t style="left:630.35px;top:1304.84px;font-size:12px;line-height:12px;font-weight:normal;font-style:normal;color:#151515;transform-origin:50% 0;transform:translateX(-50%) scaleX(1.065);">95</div><div class=t style="left:670.00px;top:1304.84px;font-size:12px;line-height:12px;font-weight:normal;font-style:normal;color:#151515;transform-origin:50% 0;transform:translateX(-50%) scaleX(1.065);">115</div><div class=t style="left:709.60px;top:1304.84px;font-size:12px;line-height:12px;font-weight:normal;font-style:normal;color:#151515;transform-origin:50% 0;transform:translateX(-50%) scaleX(1.065);">140</div><div class=t style="left:749.60px;top:1304.84px;font-size:12px;line-height:12px;font-weight:normal;font-style:normal;color:#151515;transform-origin:50% 0;transform:translateX(-50%) scaleX(1.065);">3</div><div class=t style="left:789.10px;top:1304.84px;font-size:12px;line-height:12px;font-weight:normal;font-style:normal;color:#151515;transform-origin:50% 0;transform:translateX(-50%) scaleX(1.065);">10</div><div class=t style="left:828.65px;top:1304.84px;font-size:12px;line-height:12px;font-weight:normal;font-style:normal;color:#151515;transform-origin:50% 0;transform:translateX(-50%) scaleX(1.065);">95</div><div class=t style="left:876.45px;top:1304.84px;font-size:12px;line-height:12px;font-weight:normal;font-style:normal;color:#151515;transform-origin:50% 0;transform:translateX(-50%) scaleX(1.065);">115</div><div class=t style="left:924.20px;top:1304.84px;font-size:12px;line-height:12px;font-weight:normal;font-style:normal;color:#151515;transform-origin:50% 0;transform:translateX(-50%) scaleX(1.065);">140</div><div class=t style="left:964.25px;top:1304.84px;font-size:12px;line-height:12px;font-weight:normal;font-style:normal;color:#151515;transform-origin:50% 0;transform:translateX(-50%) scaleX(1.065);">3</div><div class=t style="left:1003.55px;top:1304.84px;font-size:12px;line-height:12px;font-weight:normal;font-style:normal;color:#151515;transform-origin:50% 0;transform:translateX(-50%) scaleX(1.065);">M8</div><div class=t style="left:119.30px;top:1330.74px;font-size:12px;line-height:12px;font-weight:normal;font-style:normal;color:#151515;">TAI 80</div><div class=t style="left:216.40px;top:1330.74px;font-size:12px;line-height:12px;font-weight:normal;font-style:normal;color:#151515;transform-origin:50% 0;transform:translateX(-50%) scaleX(1.065);">130</div><div class=t style="left:256.65px;top:1330.74px;font-size:12px;line-height:12px;font-weight:normal;font-style:normal;color:#151515;transform-origin:50% 0;transform:translateX(-50%) scaleX(1.065);">165</div><div class=t style="left:308.70px;top:1330.74px;font-size:12px;line-height:12px;font-weight:normal;font-style:normal;color:#151515;transform-origin:50% 0;transform:translateX(-50%) scaleX(1.065);">200</div><div class=t style="left:360.50px;top:1330.74px;font-size:12px;line-height:12px;font-weight:normal;font-style:normal;color:#151515;transform-origin:50% 0;transform:translateX(-50%) scaleX(1.065);">4-12</div><div class=t style="left:400.05px;top:1330.74px;font-size:12px;line-height:12px;font-weight:normal;font-style:normal;color:#151515;transform-origin:50% 0;transform:translateX(-50%) scaleX(1.065);">3.5</div><div class=t style="left:439.50px;top:1330.74px;font-size:12px;line-height:12px;font-weight:normal;font-style:normal;color:#151515;transform-origin:50% 0;transform:translateX(-50%) scaleX(1.065);">80</div><div class=t style="left:475.65px;top:1330.74px;font-size:12px;line-height:12px;font-weight:normal;font-style:normal;color:#151515;transform-origin:50% 0;transform:translateX(-50%) scaleX(1.065);">100</div><div class=t style="left:511.90px;top:1330.74px;font-size:12px;line-height:12px;font-weight:normal;font-style:normal;color:#151515;transform-origin:50% 0;transform:translateX(-50%) scaleX(1.065);">120</div><div class=t style="left:551.40px;top:1330.74px;font-size:12px;line-height:12px;font-weight:normal;font-style:normal;color:#151515;transform-origin:50% 0;transform:translateX(-50%) scaleX(1.065);">M6</div><div class=t style="left:590.55px;top:1330.74px;font-size:12px;line-height:12px;font-weight:normal;font-style:normal;color:#151515;transform-origin:50% 0;transform:translateX(-50%) scaleX(1.065);">3</div><div class=t style="left:630.35px;top:1330.74px;font-size:12px;line-height:12px;font-weight:normal;font-style:normal;color:#151515;transform-origin:50% 0;transform:translateX(-50%) scaleX(1.065);">110</div><div class=t style="left:670.00px;top:1330.74px;font-size:12px;line-height:12px;font-weight:normal;font-style:normal;color:#151515;transform-origin:50% 0;transform:translateX(-50%) scaleX(1.065);">130</div><div class=t style="left:709.60px;top:1330.74px;font-size:12px;line-height:12px;font-weight:normal;font-style:normal;color:#151515;transform-origin:50% 0;transform:translateX(-50%) scaleX(1.065);">160</div><div class=t style="left:749.60px;top:1330.74px;font-size:12px;line-height:12px;font-weight:normal;font-style:normal;color:#151515;transform-origin:50% 0;transform:translateX(-50%) scaleX(1.065);">3.5</div><div class=t style="left:789.10px;top:1330.74px;font-size:12px;line-height:12px;font-weight:normal;font-style:normal;color:#151515;transform-origin:50% 0;transform:translateX(-50%) scaleX(1.065);">10</div><div class=t style="left:828.65px;top:1330.74px;font-size:12px;line-height:12px;font-weight:normal;font-style:normal;color:#151515;transform-origin:50% 0;transform:translateX(-50%) scaleX(1.065);">110</div><div class=t style="left:876.45px;top:1330.74px;font-size:12px;line-height:12px;font-weight:normal;font-style:normal;color:#151515;transform-origin:50% 0;transform:translateX(-50%) scaleX(1.065);">130</div><div class=t style="left:924.20px;top:1330.74px;font-size:12px;line-height:12px;font-weight:normal;font-style:normal;color:#151515;transform-origin:50% 0;transform:translateX(-50%) scaleX(1.065);">160</div><div class=t style="left:964.25px;top:1330.74px;font-size:12px;line-height:12px;font-weight:normal;font-style:normal;color:#151515;transform-origin:50% 0;transform:translateX(-50%) scaleX(1.065);">3.5</div><div class=t style="left:1003.55px;top:1330.74px;font-size:12px;line-height:12px;font-weight:normal;font-style:normal;color:#151515;transform-origin:50% 0;transform:translateX(-50%) scaleX(1.065);">M8</div><div class=t style="left:119.30px;top:1356.64px;font-size:12px;line-height:12px;font-weight:normal;font-style:normal;color:#151515;">TAI 90</div><div class=t style="left:216.40px;top:1356.64px;font-size:12px;line-height:12px;font-weight:normal;font-style:normal;color:#151515;transform-origin:50% 0;transform:translateX(-50%) scaleX(1.065);">130</div><div class=t style="left:256.65px;top:1356.64px;font-size:12px;line-height:12px;font-weight:normal;font-style:normal;color:#151515;transform-origin:50% 0;transform:translateX(-50%) scaleX(1.065);">165</div><div class=t style="left:308.70px;top:1356.64px;font-size:12px;line-height:12px;font-weight:normal;font-style:normal;color:#151515;transform-origin:50% 0;transform:translateX(-50%) scaleX(1.065);">200</div><div class=t style="left:360.50px;top:1356.64px;font-size:12px;line-height:12px;font-weight:normal;font-style:normal;color:#151515;transform-origin:50% 0;transform:translateX(-50%) scaleX(1.065);">4-12</div><div class=t style="left:400.05px;top:1356.64px;font-size:12px;line-height:12px;font-weight:normal;font-style:normal;color:#151515;transform-origin:50% 0;transform:translateX(-50%) scaleX(1.065);">3.5</div><div class=t style="left:439.50px;top:1356.64px;font-size:12px;line-height:12px;font-weight:normal;font-style:normal;color:#151515;transform-origin:50% 0;transform:translateX(-50%) scaleX(1.065);">95</div><div class=t style="left:475.65px;top:1356.64px;font-size:12px;line-height:12px;font-weight:normal;font-style:normal;color:#151515;transform-origin:50% 0;transform:translateX(-50%) scaleX(1.065);">115</div><div class=t style="left:511.90px;top:1356.64px;font-size:12px;line-height:12px;font-weight:normal;font-style:normal;color:#151515;transform-origin:50% 0;transform:translateX(-50%) scaleX(1.065);">140</div><div class=t style="left:551.40px;top:1356.64px;font-size:12px;line-height:12px;font-weight:normal;font-style:normal;color:#151515;transform-origin:50% 0;transform:translateX(-50%) scaleX(1.065);">M8</div><div class=t style="left:590.55px;top:1356.64px;font-size:12px;line-height:12px;font-weight:normal;font-style:normal;color:#151515;transform-origin:50% 0;transform:translateX(-50%) scaleX(1.065);">3</div><div class=t style="left:630.35px;top:1356.64px;font-size:12px;line-height:12px;font-weight:normal;font-style:normal;color:#151515;transform-origin:50% 0;transform:translateX(-50%) scaleX(1.065);">110</div><div class=t style="left:670.00px;top:1356.64px;font-size:12px;line-height:12px;font-weight:normal;font-style:normal;color:#151515;transform-origin:50% 0;transform:translateX(-50%) scaleX(1.065);">130</div><div class=t style="left:709.60px;top:1356.64px;font-size:12px;line-height:12px;font-weight:normal;font-style:normal;color:#151515;transform-origin:50% 0;transform:translateX(-50%) scaleX(1.065);">160</div><div class=t style="left:749.60px;top:1356.64px;font-size:12px;line-height:12px;font-weight:normal;font-style:normal;color:#151515;transform-origin:50% 0;transform:translateX(-50%) scaleX(1.065);">3.5</div><div class=t style="left:789.10px;top:1356.64px;font-size:12px;line-height:12px;font-weight:normal;font-style:normal;color:#151515;transform-origin:50% 0;transform:translateX(-50%) scaleX(1.065);">10</div><div class=t style="left:828.65px;top:1356.64px;font-size:12px;line-height:12px;font-weight:normal;font-style:normal;color:#151515;transform-origin:50% 0;transform:translateX(-50%) scaleX(1.065);">110</div><div class=t style="left:876.45px;top:1356.64px;font-size:12px;line-height:12px;font-weight:normal;font-style:normal;color:#151515;transform-origin:50% 0;transform:translateX(-50%) scaleX(1.065);">130</div><div class=t style="left:924.20px;top:1356.64px;font-size:12px;line-height:12px;font-weight:normal;font-style:normal;color:#151515;transform-origin:50% 0;transform:translateX(-50%) scaleX(1.065);">160</div><div class=t style="left:964.25px;top:1356.64px;font-size:12px;line-height:12px;font-weight:normal;font-style:normal;color:#151515;transform-origin:50% 0;transform:translateX(-50%) scaleX(1.065);">3.5</div><div class=t style="left:1003.55px;top:1356.64px;font-size:12px;line-height:12px;font-weight:normal;font-style:normal;color:#151515;transform-origin:50% 0;transform:translateX(-50%) scaleX(1.065);">M8</div><div class=t style="left:119.30px;top:1382.54px;font-size:12px;line-height:12px;font-weight:normal;font-style:normal;color:#151515;">TAI 100</div><div class=t style="left:216.40px;top:1382.54px;font-size:12px;line-height:12px;font-weight:normal;font-style:normal;color:#151515;transform-origin:50% 0;transform:translateX(-50%) scaleX(1.065);">180</div><div class=t style="left:256.65px;top:1382.54px;font-size:12px;line-height:12px;font-weight:normal;font-style:normal;color:#151515;transform-origin:50% 0;transform:translateX(-50%) scaleX(1.065);">215</div><div class=t style="left:308.70px;top:1382.54px;font-size:12px;line-height:12px;font-weight:normal;font-style:normal;color:#151515;transform-origin:50% 0;transform:translateX(-50%) scaleX(1.065);">250</div><div class=t style="left:360.50px;top:1382.54px;font-size:12px;line-height:12px;font-weight:normal;font-style:normal;color:#151515;transform-origin:50% 0;transform:translateX(-50%) scaleX(1.065);">4-15</div><div class=t style="left:400.05px;top:1382.54px;font-size:12px;line-height:12px;font-weight:normal;font-style:normal;color:#151515;transform-origin:50% 0;transform:translateX(-50%) scaleX(1.065);">4</div><div class=t style="left:439.50px;top:1382.54px;font-size:12px;line-height:12px;font-weight:normal;font-style:normal;color:#151515;transform-origin:50% 0;transform:translateX(-50%) scaleX(1.065);">110</div><div class=t style="left:475.65px;top:1382.54px;font-size:12px;line-height:12px;font-weight:normal;font-style:normal;color:#151515;transform-origin:50% 0;transform:translateX(-50%) scaleX(1.065);">130</div><div class=t style="left:511.90px;top:1382.54px;font-size:12px;line-height:12px;font-weight:normal;font-style:normal;color:#151515;transform-origin:50% 0;transform:translateX(-50%) scaleX(1.065);">160</div><div class=t style="left:551.40px;top:1382.54px;font-size:12px;line-height:12px;font-weight:normal;font-style:normal;color:#151515;transform-origin:50% 0;transform:translateX(-50%) scaleX(1.065);">M8</div><div class=t style="left:590.55px;top:1382.54px;font-size:12px;line-height:12px;font-weight:normal;font-style:normal;color:#151515;transform-origin:50% 0;transform:translateX(-50%) scaleX(1.065);">3.5</div><div class=t style="left:630.35px;top:1382.54px;font-size:12px;line-height:12px;font-weight:normal;font-style:normal;color:#151515;transform-origin:50% 0;transform:translateX(-50%) scaleX(1.065);">130</div><div class=t style="left:670.00px;top:1382.54px;font-size:12px;line-height:12px;font-weight:normal;font-style:normal;color:#151515;transform-origin:50% 0;transform:translateX(-50%) scaleX(1.065);">165</div><div class=t style="left:709.60px;top:1382.54px;font-size:12px;line-height:12px;font-weight:normal;font-style:normal;color:#151515;transform-origin:50% 0;transform:translateX(-50%) scaleX(1.065);">200</div><div class=t style="left:749.60px;top:1382.54px;font-size:12px;line-height:12px;font-weight:normal;font-style:normal;color:#151515;transform-origin:50% 0;transform:translateX(-50%) scaleX(1.065);">3.5</div><div class=t style="left:789.10px;top:1382.54px;font-size:12px;line-height:12px;font-weight:normal;font-style:normal;color:#151515;transform-origin:50% 0;transform:translateX(-50%) scaleX(1.065);">12</div><div class=t style="left:828.65px;top:1382.54px;font-size:12px;line-height:12px;font-weight:normal;font-style:normal;color:#151515;transform-origin:50% 0;transform:translateX(-50%) scaleX(1.065);">130</div><div class=t style="left:876.45px;top:1382.54px;font-size:12px;line-height:12px;font-weight:normal;font-style:normal;color:#151515;transform-origin:50% 0;transform:translateX(-50%) scaleX(1.065);">165</div><div class=t style="left:924.20px;top:1382.54px;font-size:12px;line-height:12px;font-weight:normal;font-style:normal;color:#151515;transform-origin:50% 0;transform:translateX(-50%) scaleX(1.065);">200</div><div class=t style="left:964.25px;top:1382.54px;font-size:12px;line-height:12px;font-weight:normal;font-style:normal;color:#151515;transform-origin:50% 0;transform:translateX(-50%) scaleX(1.065);">3.5</div><div class=t style="left:1003.55px;top:1382.54px;font-size:12px;line-height:12px;font-weight:normal;font-style:normal;color:#151515;transform-origin:50% 0;transform:translateX(-50%) scaleX(1.065);">M10</div><div class=t style="left:119.30px;top:1408.44px;font-size:12px;line-height:12px;font-weight:normal;font-style:normal;color:#151515;">TAI 112</div><div class=t style="left:216.40px;top:1408.44px;font-size:12px;line-height:12px;font-weight:normal;font-style:normal;color:#151515;transform-origin:50% 0;transform:translateX(-50%) scaleX(1.065);">180</div><div class=t style="left:256.65px;top:1408.44px;font-size:12px;line-height:12px;font-weight:normal;font-style:normal;color:#151515;transform-origin:50% 0;transform:translateX(-50%) scaleX(1.065);">215</div><div class=t style="left:308.70px;top:1408.44px;font-size:12px;line-height:12px;font-weight:normal;font-style:normal;color:#151515;transform-origin:50% 0;transform:translateX(-50%) scaleX(1.065);">250</div><div class=t style="left:360.50px;top:1408.44px;font-size:12px;line-height:12px;font-weight:normal;font-style:normal;color:#151515;transform-origin:50% 0;transform:translateX(-50%) scaleX(1.065);">4-15</div><div class=t style="left:400.05px;top:1408.44px;font-size:12px;line-height:12px;font-weight:normal;font-style:normal;color:#151515;transform-origin:50% 0;transform:translateX(-50%) scaleX(1.065);">4</div><div class=t style="left:439.50px;top:1408.44px;font-size:12px;line-height:12px;font-weight:normal;font-style:normal;color:#151515;transform-origin:50% 0;transform:translateX(-50%) scaleX(1.065);">110</div><div class=t style="left:475.65px;top:1408.44px;font-size:12px;line-height:12px;font-weight:normal;font-style:normal;color:#151515;transform-origin:50% 0;transform:translateX(-50%) scaleX(1.065);">130</div><div class=t style="left:511.90px;top:1408.44px;font-size:12px;line-height:12px;font-weight:normal;font-style:normal;color:#151515;transform-origin:50% 0;transform:translateX(-50%) scaleX(1.065);">160</div><div class=t style="left:551.40px;top:1408.44px;font-size:12px;line-height:12px;font-weight:normal;font-style:normal;color:#151515;transform-origin:50% 0;transform:translateX(-50%) scaleX(1.065);">M8</div><div class=t style="left:590.55px;top:1408.44px;font-size:12px;line-height:12px;font-weight:normal;font-style:normal;color:#151515;transform-origin:50% 0;transform:translateX(-50%) scaleX(1.065);">3.5</div><div class=t style="left:630.35px;top:1408.44px;font-size:12px;line-height:12px;font-weight:normal;font-style:normal;color:#151515;transform-origin:50% 0;transform:translateX(-50%) scaleX(1.065);">130</div><div class=t style="left:670.00px;top:1408.44px;font-size:12px;line-height:12px;font-weight:normal;font-style:normal;color:#151515;transform-origin:50% 0;transform:translateX(-50%) scaleX(1.065);">165</div><div class=t style="left:709.60px;top:1408.44px;font-size:12px;line-height:12px;font-weight:normal;font-style:normal;color:#151515;transform-origin:50% 0;transform:translateX(-50%) scaleX(1.065);">200</div><div class=t style="left:749.60px;top:1408.44px;font-size:12px;line-height:12px;font-weight:normal;font-style:normal;color:#151515;transform-origin:50% 0;transform:translateX(-50%) scaleX(1.065);">3.5</div><div class=t style="left:789.10px;top:1408.44px;font-size:12px;line-height:12px;font-weight:normal;font-style:normal;color:#151515;transform-origin:50% 0;transform:translateX(-50%) scaleX(1.065);">12</div><div class=t style="left:828.65px;top:1408.44px;font-size:12px;line-height:12px;font-weight:normal;font-style:normal;color:#151515;transform-origin:50% 0;transform:translateX(-50%) scaleX(1.065);">130</div><div class=t style="left:876.45px;top:1408.44px;font-size:12px;line-height:12px;font-weight:normal;font-style:normal;color:#151515;transform-origin:50% 0;transform:translateX(-50%) scaleX(1.065);">165</div><div class=t style="left:924.20px;top:1408.44px;font-size:12px;line-height:12px;font-weight:normal;font-style:normal;color:#151515;transform-origin:50% 0;transform:translateX(-50%) scaleX(1.065);">200</div><div class=t style="left:964.25px;top:1408.44px;font-size:12px;line-height:12px;font-weight:normal;font-style:normal;color:#151515;transform-origin:50% 0;transform:translateX(-50%) scaleX(1.065);">3.5</div><div class=t style="left:1003.55px;top:1408.44px;font-size:12px;line-height:12px;font-weight:normal;font-style:normal;color:#151515;transform-origin:50% 0;transform:translateX(-50%) scaleX(1.065);">M10</div><div class=t style="left:119.30px;top:1434.34px;font-size:12px;line-height:12px;font-weight:normal;font-style:normal;color:#151515;">TAI 132</div><div class=t style="left:216.40px;top:1434.34px;font-size:12px;line-height:12px;font-weight:normal;font-style:normal;color:#151515;transform-origin:50% 0;transform:translateX(-50%) scaleX(1.065);">230</div><div class=t style="left:256.65px;top:1434.34px;font-size:12px;line-height:12px;font-weight:normal;font-style:normal;color:#151515;transform-origin:50% 0;transform:translateX(-50%) scaleX(1.065);">265</div><div class=t style="left:308.70px;top:1434.34px;font-size:12px;line-height:12px;font-weight:normal;font-style:normal;color:#151515;transform-origin:50% 0;transform:translateX(-50%) scaleX(1.065);">300</div><div class=t style="left:360.50px;top:1434.34px;font-size:12px;line-height:12px;font-weight:normal;font-style:normal;color:#151515;transform-origin:50% 0;transform:translateX(-50%) scaleX(1.065);">4-15</div><div class=t style="left:400.05px;top:1434.34px;font-size:12px;line-height:12px;font-weight:normal;font-style:normal;color:#151515;transform-origin:50% 0;transform:translateX(-50%) scaleX(1.065);">4</div><div class=t style="left:439.50px;top:1434.34px;font-size:12px;line-height:12px;font-weight:normal;font-style:normal;color:#151515;transform-origin:50% 0;transform:translateX(-50%) scaleX(1.065);">130</div><div class=t style="left:475.65px;top:1434.34px;font-size:12px;line-height:12px;font-weight:normal;font-style:normal;color:#151515;transform-origin:50% 0;transform:translateX(-50%) scaleX(1.065);">165</div><div class=t style="left:511.90px;top:1434.34px;font-size:12px;line-height:12px;font-weight:normal;font-style:normal;color:#151515;transform-origin:50% 0;transform:translateX(-50%) scaleX(1.065);">200</div><div class=t style="left:551.40px;top:1434.34px;font-size:12px;line-height:12px;font-weight:normal;font-style:normal;color:#151515;transform-origin:50% 0;transform:translateX(-50%) scaleX(1.065);">M10</div><div class=t style="left:590.55px;top:1434.34px;font-size:12px;line-height:12px;font-weight:normal;font-style:normal;color:#151515;transform-origin:50% 0;transform:translateX(-50%) scaleX(1.065);">3.5</div><div class=t style="left:630.35px;top:1434.34px;font-size:12px;line-height:12px;font-weight:normal;font-style:normal;color:#151515;transform-origin:50% 0;transform:translateX(-50%) scaleX(1.065);">180</div><div class=t style="left:670.00px;top:1434.34px;font-size:12px;line-height:12px;font-weight:normal;font-style:normal;color:#151515;transform-origin:50% 0;transform:translateX(-50%) scaleX(1.065);">215</div><div class=t style="left:709.60px;top:1434.34px;font-size:12px;line-height:12px;font-weight:normal;font-style:normal;color:#151515;transform-origin:50% 0;transform:translateX(-50%) scaleX(1.065);">250</div><div class=t style="left:749.60px;top:1434.34px;font-size:12px;line-height:12px;font-weight:normal;font-style:normal;color:#151515;transform-origin:50% 0;transform:translateX(-50%) scaleX(1.065);">4</div><div class=t style="left:789.10px;top:1434.34px;font-size:12px;line-height:12px;font-weight:normal;font-style:normal;color:#151515;transform-origin:50% 0;transform:translateX(-50%) scaleX(1.065);">15</div><div class=t style="left:828.65px;top:1434.34px;font-size:12px;line-height:12px;font-weight:normal;font-style:normal;color:#151515;transform-origin:50% 0;transform:translateX(-50%) scaleX(1.065);">180</div><div class=t style="left:876.45px;top:1434.34px;font-size:12px;line-height:12px;font-weight:normal;font-style:normal;color:#151515;transform-origin:50% 0;transform:translateX(-50%) scaleX(1.065);">215</div><div class=t style="left:924.20px;top:1434.34px;font-size:12px;line-height:12px;font-weight:normal;font-style:normal;color:#151515;transform-origin:50% 0;transform:translateX(-50%) scaleX(1.065);">250</div><div class=t style="left:964.25px;top:1434.34px;font-size:12px;line-height:12px;font-weight:normal;font-style:normal;color:#151515;transform-origin:50% 0;transform:translateX(-50%) scaleX(1.065);">4</div><div class=t style="left:1003.55px;top:1434.34px;font-size:12px;line-height:12px;font-weight:normal;font-style:normal;color:#151515;transform-origin:50% 0;transform:translateX(-50%) scaleX(1.065);">M12</div><div class=t style="left:119.30px;top:1460.24px;font-size:12px;line-height:12px;font-weight:normal;font-style:normal;color:#151515;">TAI 160</div><div class=t style="left:216.40px;top:1460.24px;font-size:12px;line-height:12px;font-weight:normal;font-style:normal;color:#151515;transform-origin:50% 0;transform:translateX(-50%) scaleX(1.065);">250</div><div class=t style="left:256.65px;top:1460.24px;font-size:12px;line-height:12px;font-weight:normal;font-style:normal;color:#151515;transform-origin:50% 0;transform:translateX(-50%) scaleX(1.065);">300</div><div class=t style="left:308.70px;top:1460.24px;font-size:12px;line-height:12px;font-weight:normal;font-style:normal;color:#151515;transform-origin:50% 0;transform:translateX(-50%) scaleX(1.065);">350</div><div class=t style="left:360.50px;top:1460.24px;font-size:12px;line-height:12px;font-weight:normal;font-style:normal;color:#151515;transform-origin:50% 0;transform:translateX(-50%) scaleX(1.065);">4-19</div><div class=t style="left:400.05px;top:1460.24px;font-size:12px;line-height:12px;font-weight:normal;font-style:normal;color:#151515;transform-origin:50% 0;transform:translateX(-50%) scaleX(1.065);">5</div><div class=t style="left:439.50px;top:1460.24px;font-size:12px;line-height:12px;font-weight:normal;font-style:normal;color:#151515;transform-origin:50% 0;transform:translateX(-50%) scaleX(1.065);">180</div><div class=t style="left:475.65px;top:1460.24px;font-size:12px;line-height:12px;font-weight:normal;font-style:normal;color:#151515;transform-origin:50% 0;transform:translateX(-50%) scaleX(1.065);">215</div><div class=t style="left:511.90px;top:1460.24px;font-size:12px;line-height:12px;font-weight:normal;font-style:normal;color:#151515;transform-origin:50% 0;transform:translateX(-50%) scaleX(1.065);">250</div><div class=t style="left:551.40px;top:1460.24px;font-size:12px;line-height:12px;font-weight:normal;font-style:normal;color:#151515;transform-origin:50% 0;transform:translateX(-50%) scaleX(1.065);">M12</div><div class=t style="left:590.55px;top:1460.24px;font-size:12px;line-height:12px;font-weight:normal;font-style:normal;color:#151515;transform-origin:50% 0;transform:translateX(-50%) scaleX(1.065);">4</div><div class=t style="left:119.30px;top:1486.14px;font-size:12px;line-height:12px;font-weight:normal;font-style:normal;color:#151515;">TAI 180</div><div class=t style="left:216.40px;top:1486.14px;font-size:12px;line-height:12px;font-weight:normal;font-style:normal;color:#151515;transform-origin:50% 0;transform:translateX(-50%) scaleX(1.065);">250</div><div class=t style="left:256.65px;top:1486.14px;font-size:12px;line-height:12px;font-weight:normal;font-style:normal;color:#151515;transform-origin:50% 0;transform:translateX(-50%) scaleX(1.065);">300</div><div class=t style="left:308.70px;top:1486.14px;font-size:12px;line-height:12px;font-weight:normal;font-style:normal;color:#151515;transform-origin:50% 0;transform:translateX(-50%) scaleX(1.065);">350</div><div class=t style="left:360.50px;top:1486.14px;font-size:12px;line-height:12px;font-weight:normal;font-style:normal;color:#151515;transform-origin:50% 0;transform:translateX(-50%) scaleX(1.065);">4-19</div><div class=t style="left:400.05px;top:1486.14px;font-size:12px;line-height:12px;font-weight:normal;font-style:normal;color:#151515;transform-origin:50% 0;transform:translateX(-50%) scaleX(1.065);">5</div><div class=t style="left:119.30px;top:1512.04px;font-size:12px;line-height:12px;font-weight:normal;font-style:normal;color:#151515;">TAI 200</div><div class=t style="left:216.40px;top:1512.04px;font-size:12px;line-height:12px;font-weight:normal;font-style:normal;color:#151515;transform-origin:50% 0;transform:translateX(-50%) scaleX(1.065);">300</div><div class=t style="left:256.65px;top:1512.04px;font-size:12px;line-height:12px;font-weight:normal;font-style:normal;color:#151515;transform-origin:50% 0;transform:translateX(-50%) scaleX(1.065);">350</div><div class=t style="left:308.70px;top:1512.04px;font-size:12px;line-height:12px;font-weight:normal;font-style:normal;color:#151515;transform-origin:50% 0;transform:translateX(-50%) scaleX(1.065);">400</div><div class=t style="left:360.50px;top:1512.04px;font-size:12px;line-height:12px;font-weight:normal;font-style:normal;color:#151515;transform-origin:50% 0;transform:translateX(-50%) scaleX(1.065);">4-19</div><div class=t style="left:400.05px;top:1512.04px;font-size:12px;line-height:12px;font-weight:normal;font-style:normal;color:#151515;transform-origin:50% 0;transform:translateX(-50%) scaleX(1.065);">5</div>
</body></html>
